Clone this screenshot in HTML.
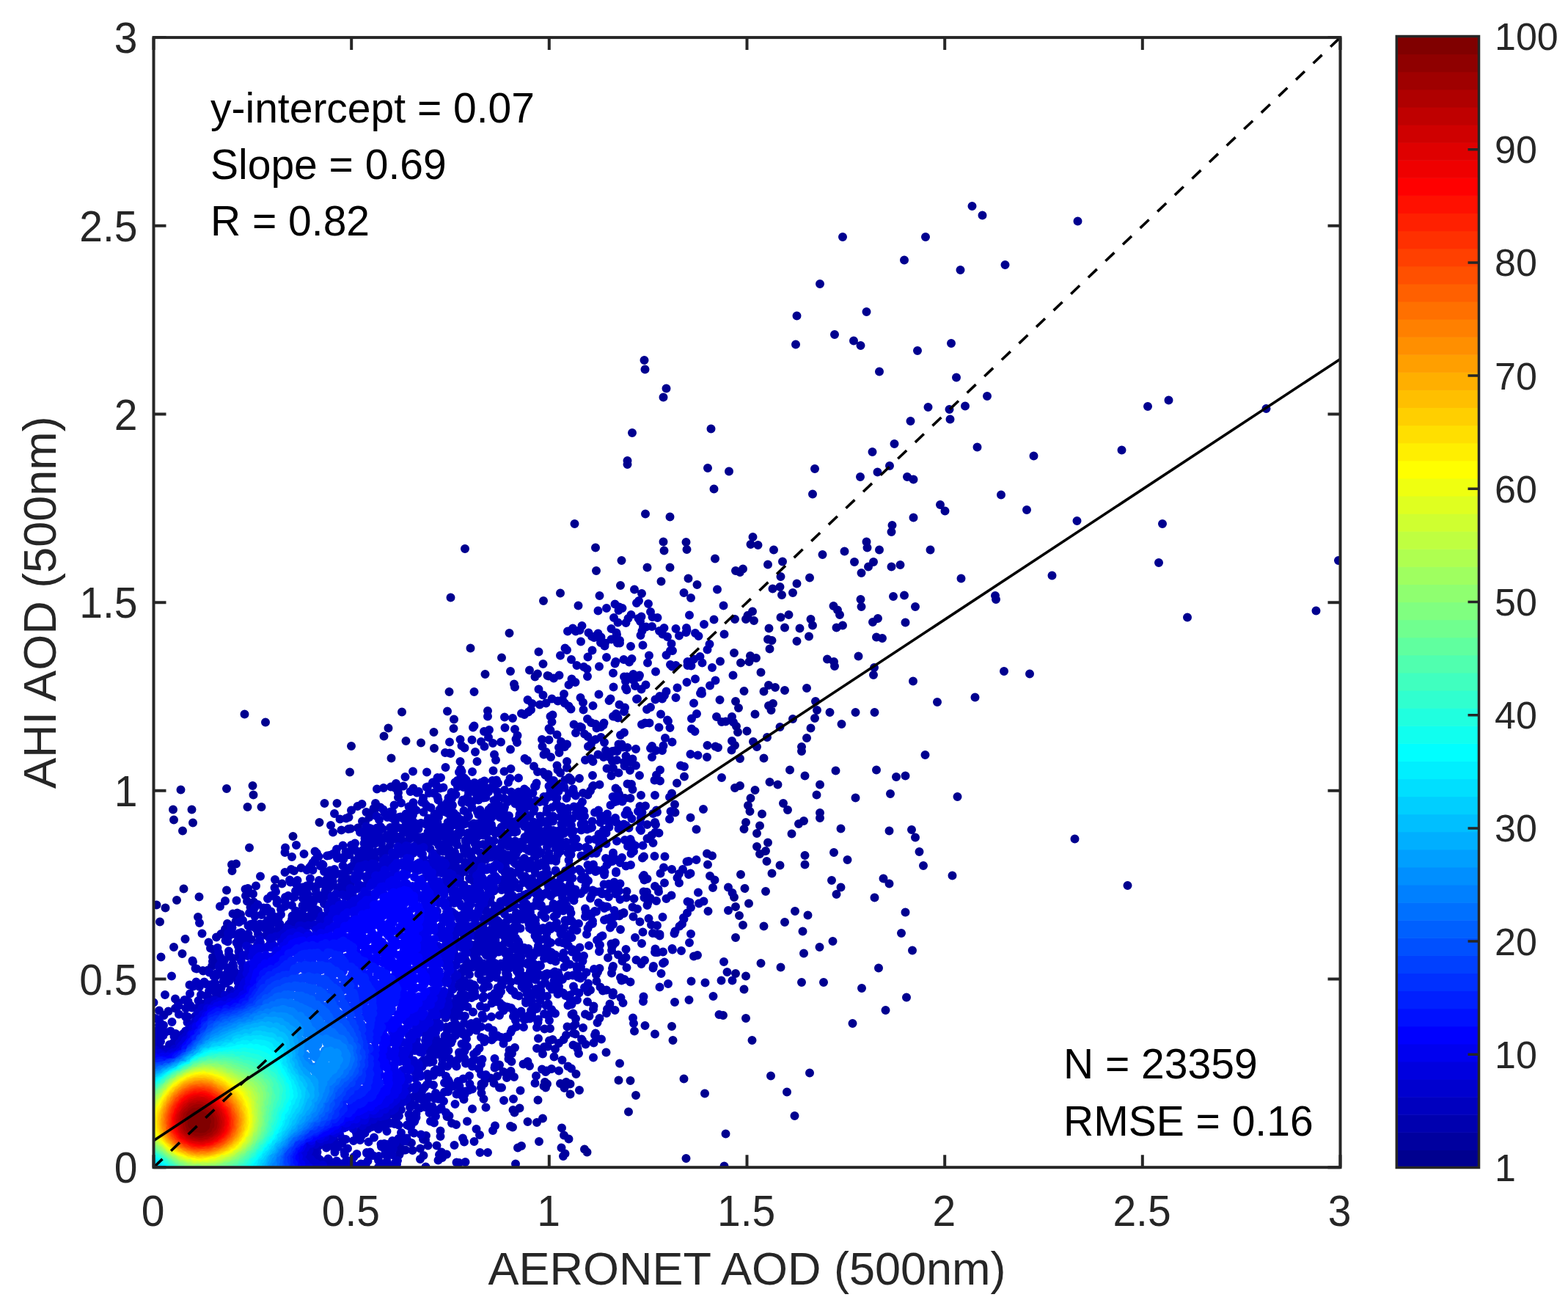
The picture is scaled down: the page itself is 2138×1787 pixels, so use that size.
<!DOCTYPE html>
<html><head><meta charset="utf-8"><style>
html,body{margin:0;padding:0;background:#fff;}
svg{display:block;}
</style></head><body>
<svg xmlns="http://www.w3.org/2000/svg" width="2138" height="1787" viewBox="0 0 2138 1787">
<defs><clipPath id="ax"><rect x="209.5" y="51.1" width="1618.0" height="1540.1000000000001"/></clipPath></defs>
<g clip-path="url(#ax)">
<g fill="none" stroke-width="24.0" stroke-linecap="round" transform="scale(0.5)"><path d="M2002 1780h0m-1501 643h0m1194-895h0m372-42h0m-585 152h0m726-63h0m261 540h0m-367 818h0m-6-1065h0m120-163h0m-120 219h0m183 177h0m67-801h0m-200 1677h0m90-2203h0m358 162h0m-394 1076h0m98-307h0m889-614h0m-1055 531h0m359-211h0m-457 1250h0m-645-935h0m1219-697h0m-889 1917h0m353-618h0m797-759h0m-781 751h0m245-145h0m95-11h0m-440-879h0m-223 262h0m503 853h0m215-1252h0m-2009 1087h0m1609 290h0m-1016-458h0m1565-960h0m-829 478h0m473-673h0m-444 1886h0m566-1785h0m-51 621h0m-152 481h0m-161 127h0m-851-246h0m895 223h0m-64-289h0m-830 110h0m842-489h0m277-48h0m-67 636h0m230-1430h0m-374 1301h0m-724-217h0m780 415h0m-119 489h0m-9-890h0m413-375h0m41-132h0m-495 1791h0m148-1491h0m-1691 913h0m1674-1014h0m215 1291h0m612-1370h0m-721-73h0m-141 486h0m22-120h0m187-50h0m-190 634h0m296-198h0m-109-388h0m-35 967h0m-220-156h0m201-355h0m155-327h0m-330-173h0m-80 1101h0m195 274h0m107-1238h0m-1802 403h0m1627-438h0m391 88h0m-482 123h0m684-900h0m-663 1180h0m59 170h0m-1637 45h0m1471 506h0m314-751h0m-218-88h0m408-872h0m-487-101h0m234 579h0m174-806h0m125 1777h0m117-1603h0m-587 1330h0m562-1070h0m-505 571h0m32 401h0m-1609 106h0m1811-195h0m-559 727h0m395-349h0m-252-1060h0m578-37h0m-1408 467h0m1753-617h0m-578 568h0m-413-875h0m660 614h0m-1362 323h0m1256-1170h0m-269 893h0m76-804h0m-119 1897h0m290-1047h0m-234-184h0m-101-49h0m183 983h0m-478-1283h0m332 548h0m1117-270h0m-974 514h0m-1228-14h0m1392 660h0m-214-504h0m135 376h0m-47-654h0m-1535 230h0m1419-224h0m328-292h0m305-904h0m-549 1877h0m-19-1738h0m55 1075h0m-536-340h0m411 340h0m-502 1205h0m-34-1713h0m380-95h0m253 543h0m93 543h0m-667-863h0m390 940h0m423-1286h0m-435 938h0m-290 883h0m711-622h0m-353-158h0m184-454h0m268-1151h0m-419 1100h0m560-527h0m-2172 934h0m1647-271h0m-26-8h0m-831-107h0m776 387h0m177 62h0m383-1480h0m-1471 1289h0m725-527h0m511 322h0m-19-327h0m41 247h0m-312-201h0m239 403h0m-709-449h0m650 831h0m214 267h0m133-1014h0m-293-648h0m-274 1093h0m469 36h0m-361-98h0m334-306h0m634-546h0m-1025 1273h0m397-1425h0m-974 661h0m501 267h0m365-198h0m-64-154h0m-1639 635h0m903 966h0m-326-1637h0m938 239h0m-33-144h0m207 105h0m197-303h0m-538 285h0m1020-451h0m-848 758h0m-49-369h0m-106 76h0m-1332 277h0m1280 63h0m427-487h0m-367 491h0m-27-43h0m185-715h0m-535 1667h0m140-1536h0m889 225h0m-641 992h0m160-44h0m1003-899h0m-1337-89h0m133 94h0m30 620h0m332 331h0m-267-956h0m63 555h0m419-66h0m-746 769h0m-154-1675h0m100 235h0m272 566h0m992 347h0m-2408-467h0m1204-469h0m726 909h0m62-486h0m-1563 40h0m935 481h0m318-768h0m-309 542h0m451-889h0m-66 958h0m-1554-23h0m1212-357h0m-19 387h0m95 1h0m44 222h0m87-819h0m-169 463h0m-115-227h0m460-289h0m-446 761h0m718-554h0m-2120 320h0m1142-749h0m-701 584h0m1472-875h0m-168 367h0m30-190h0m-1439 818h0m1241 252h0m214 38h0m-282-413h0m-370-1000h0m429 1054h0m25-348h0m52 254h0m-229 834h0m424-232h0m-318-833h0m-911-82h0m1710-1026h0m-8 1684h0m-650 151h0m-86-106h0m-96-200h0m720-889h0m-638 470h0m-1658 494h0m1685 718h0m87-951h0m-289 680h0m-1207-374h0m1591-543h0m128 623h0m-709-883h0m62 1681h0m720-2015h0m88-556h0m-749 689h0m-1255 924h0m2133-363h0m-497 507h0m-1598-144h0m1731-82h0m-469 1061h0m268-1667h0m172 1242h0m-33-1222h0m-214 952h0m-333 352h0m211-1048h0m88-257h0m-72 263h0m124 884h0m112-2032h0m-22 1170h0m73-254h0m-222 797h0m27-260h0m315 388h0m-652-1428h0m-592 827h0m793 182h0m-259-1061h0m288 477h0m1603 44h0m-920-179h0m-724 1207h0m-56-1033h0m92 940h0m1128-1035h0m-2743 1039h0m1941-922h0m-541 2h0m604-97h0m76 872h0m-21-60h0m-474-266h0m702-372h0m-158 290h0m-283-262h0m-133 862h0m-136-826h0m-1478 555h0m1519-31h0m106-536h0m500-1114h0m-253 937h0m-392 973h0m12-912h0m519-61h0m-152 443h0m-6-710h0m-201 1014h0m-49-674h0m-82 604h0m-323-996h0m1729-66h0m-2130 724h0m1173 445h0m-1998-18h0m1887 182h0m1204-782h0m-1536-201h0" stroke="#00008f"/>
<path d="M505 2560h0m1254 236h0m-267 159h0m63 28h0m-69-33h0m-16 162h0m-790-801h0m973 558h0m-82 59h0m-127-1101h0m500 593h0m-403 725h0m-102-87h0m112 47h0m-82-1328h0m504-126h0m-22 384h0m-470-225h0m480 956h0m3-963h0m-72 804h0m66-569h0m-478 1011h0m52 26h0m436-955h0m-501 879h0m-823-644h0m1352-335h0m-10 399h0m-656-481h0m601 546h0m44-755h0m20 316h0m-583 1084h0m428-936h0m89-161h0m-1 295h0m-397 802h0m334-1513h0m-462 1417h0m438-818h0m-286 740h0m-62-1113h0m-101-12h0m-507 360h0m998 39h0m-479-356h0m55-28h0m29 1120h0m512-996h0m-21-2h0m-94 708h0m-347 420h0m-136-1230h0m328 946h0m-264-974h0m508 785h0m-430 328h0m374-744h0m-1421 394h0m1369-483h0m-1326 383h0m1362 104h0m47-205h0m-117-236h0m-913 27h0m965-560h0m83 1043h0m-237-1066h0m224 347h0m-7-265h0m52 152h0m-1456 604h0m1425-477h0m-40 96h0m-708-125h0m-781 670h0m1401 123h0m123-824h0m-1331 449h0m1304 31h0m-408 566h0m395-275h0m-387 473h0m310-1017h0m137 515h0m-745-689h0m452 938h0m-207 62h0m-84 65h0m-781-599h0m1327 289h0m-66 10h0m-462 295h0m580-587h0m-1364-60h0m604-388h0m185 1138h0m564-642h0m-409-831h0m58-27h0m361 330h0m-66 403h0m-391 609h0m360-705h0m-403-418h0m-98 1230h0m558-1466h0m-206 11h0m-344 1555h0m58-113h0m-171-1174h0m-819 696h0m1523 91h0m-605 397h0m188-98h0m206-153h0m156-486h0" stroke="#00009f"/>
<path d="M1834 2589h0m-47-320h0m12-371h0m-253 195h0m162 354h0m-315-351h0m-127 1017h0m485-898h0m-165 618h0m68-71h0m-64-847h0m197 354h0m-346-328h0m-167 1116h0m483-658h0m-955-25h0m453-298h0m-675 545h0m1198-913h0m-27 12h0m-626 1416h0m197-190h0m463-612h0m-182-167h0m145 1h0m-179 624h0m228-809h0m4 398h0m-164 310h0m132-187h0m-643-401h0m732 489h0m-262 173h0m-436 343h0m639-561h0m-95-618h0m-101 79h0m-1086 677h0m629 475h0m720-1070h0m-407 863h0m-304 197h0m741-1424h0m-94 221h0m-4-227h0m-202 352h0m-115 33h0m257-200h0m49 682h0m98-772h0m-299 168h0m-194 60h0m336 747h0m191-333h0m-840-308h0m-283 187h0m871-221h0m125 99h0m36-440h0m-161 799h0m-1189 176h0m1271-870h0m7 507h0m-318-313h0m-34 783h0m500-423h0m-225-629h0m-1260 929h0m1271-980h0m-370 241h0m144 864h0m335-307h0m-304-440h0m-119-156h0m504 615h0m-54-397h0m-1128 242h0m1030-560h0m-48 91h0m-195 859h0m59 17h0m361-1088h0m-135 53h0m-949 579h0m730-499h0m-312 1255h0m465-946h0m-166-284h0m86 82h0m103 525h0m-361-476h0m415 616h0m-1167-183h0m943-523h0m286-119h0m-21 868h0m-212-526h0m201-444h0m22 311h0m-672 1158h0m-249-963h0m344-121h0m74 1045h0m356-539h0m-158-496h0m-938 448h0m783 367h0m388-1055h0m-357 121h0m406 377h0m-99-327h0m-22-383h0m-170 432h0m27-58h0m-509 172h0m719 134h0m-24-465h0m-313 1103h0m-511-704h0m791 465h0m-269-786h0m42-27h0m315-14h0m-37 665h0m38-741h0m-186 129h0m210 663h0m-287-782h0m318-127h0m-37 332h0m-1012 324h0m1006-241h0m-594 1027h0m439-1179h0m-320 1042h0m231-895h0m240 307h0m-1149 58h0m755 447h0m232-1119h0m-545 1331h0m-475-615h0m1131-20h0m154-169h0m-923-87h0m679-162h0m17-260h0m-1054 699h0m703-499h0m444 251h0m149-395h0m-332 90h0m95-172h0m72-128h0m-77 413h0m-1128 422h0m912-427h0m-679 235h0m309-163h0m-337 259h0m699-485h0m-779 489h0m877-348h0m200-382h0m-62 59h0m-1131 893h0m1041-645h0m-69 51h0m246-81h0m-230-204h0m-289 1403h0m450-1325h0m-1102 626h0m1233-654h0m-7 416h0m-53 215h0m-572 650h0m-432-689h0m908-762h0m29 210h0m-308 101h0m102 846h0m169-223h0m206-123h0m-386-408h0m462-195h0m-87 647h0m-99-254h0m9-208h0m-425 871h0m145-58h0m441-1097h0m-587 301h0m438 539h0m-117-20h0m206-772h0m-311 1013h0m218-183h0m-277-666h0m-236 1200h0m433-1171h0m-144-199h0m-171 1089h0m-287-744h0m-72 8h0m751-469h0m-78 806h0m-333 477h0m143-84h0m108-38h0m125-1002h0m-240 1073h0m146-1161h0m-32 1130h0m56-1199h0m-59 89h0m2 303h0m80 544h0m-53 81h0m-564-565h0m270 933h0m254-1034h0m74 535h0m14-566h0m136-192h0m-202 1016h0m-102-790h0m-142 900h0m-747-447h0m1086-815h0m32 865h0m-1294 216h0m1266-284h0m204-702h0m-222 839h0m57-178h0m-212-312h0m265 330h0m-106-313h0m118 75h0m-378-294h0m-58 1002h0m225-778h0m-45 711h0m279-446h0m-282-686h0m-990 888h0m739 387h0m567-1037h0m-447 935h0m233-188h0m-582 438h0m388-229h0m97-56h0m-186 4h0m471-344h0m-257 185h0m87-958h0m-51-9h0m164 917h0m-305 183h0m251-209h0m-1271 95h0m1256-636h0m-472 1016h0m-360-853h0m729-193h0m242-339h0m-81 805h0m-484 571h0m368-1047h0m177 478h0m-1385 136h0m1072-534h0m-544 114h0m109-123h0m535 715h0m-14-176h0m-79 142h0m88-660h0m32-396h0m-472 1420h0m546-1477h0m-190 437h0m-11-87h0m196-392h0m-510 379h0m492 77h0m94-204h0m-315 121h0m241 461h0m-214 366h0m54 28h0m214-326h0m-122-470h0m-1103 569h0m998-670h0m154 201h0m-42 578h0m-333 328h0m357-592h0m-1147 157h0m1138-113h0m-102 268h0m207-531h0m-459 668h0m274-969h0m-593 234h0m708-366h0m-249 178h0m238-211h0m136-72h0m-180 901h0m-276 238h0m369-404h0m29 128h0m-59 21h0m85-881h0m-218 995h0m157-760h0m31 238h0m-43-477h0m-1169 902h0m1124-694h0m53 777h0m53-91h0m-126-554h0m-47 704h0m173-181h0m-1058-197h0m270-186h0m922-392h0m-135-91h0m-105 349h0m-101-254h0m100-26h0m-14 309h0m-129 806h0m136-422h0m-207-378h0m61-392h0m-228 1233h0m-389-691h0m-347 354h0m1171-186h0m-221-523h0m280 104h0m-230-263h0m287-25h0m-642 330h0m105-64h0m-22 32h0m441-263h0m27 785h0m-1160-26h0m887 316h0m33-917h0m-285 99h0m384-34h0m-441 1166h0m489-1119h0m-157-7h0m350-345h0m-613 362h0m77-13h0m521 479h0m-136-55h0m186-643h0m-195-45h0m-1044 660h0m550-369h0m536-344h0m-189 105h0m-162 191h0m262-132h0m77 102h0m-111 35h0m151 446h0m53-554h0m-281 862h0m-261-688h0m516-191h0m-268 1022h0m-741-603h0m680 618h0m-270 225h0m69-1130h0m385 559h0m-1048-49h0m865-610h0m-335 1189h0m91 63h0m519-1235h0m-1072 525h0m1135-475h0m-150-243h0m-193 1113h0m37-755h0m133-307h0m224 592h0m-377-431h0m-154 1000h0m-133-901h0m389-261h0m-271 219h0m-210 1106h0m685-616h0m-122-803h0m-826 624h0m-82 57h0m1064 161h0m-132-109h0m-450-397h0m148-18h0m-480 218h0m783-388h0m55 551h0m145-506h0m-488 55h0m285 116h0m-60-90h0m237 575h0m-187-888h0m-79 1093h0m107-682h0m167-152h0m-276 227h0m38-486h0m-435 1386h0m368-1338h0m15 138h0m-289 1111h0m318-1290h0m-21 1034h0m57-985h0m153 249h0m-230 199h0m209 529h0m-230-831h0m-88 35h0m126 875h0m-314 342h0m460-722h0m-65-644h0m159 129h0m-1137 514h0m-128 200h0m1141-793h0m58 502h0m-1331 414h0m640 413h0m255-1024h0m-655 336h0m1193-381h0m-473-32h0m-54 910h0m306-870h0m216 284h0m-646 714h0m278-1213h0m321-94h0m-139 910h0m-404 358h0m415-353h0m-391 295h0m391-877h0m65-442h0m-199 1173h0m-926-307h0m1134-235h0m143-575h0m-807 1410h0m773-1125h0m-179-289h0m155 672h0m-214-346h0m-661 168h0m326 788h0m-98-888h0m-641 493h0m927-594h0m58-140h0m159 226h0m-138 45h0m-336 944h0m277-1155h0m114 729h0m-990-185h0m11 38h0m1012 98h0m66-549h0m-710 148h0m-80 41h0m593 603h0m249-666h0m-1300 566h0m1450-865h0m-309 116h0m-3 832h0m143-356h0m-1231 180h0m1377-757h0m-925 355h0m399 637h0m-97-893h0m339 805h0m274-729h0m-254-298h0m46 268h0m0 644h0m214-883h0m-328-72h0m173 1012h0m127-270h0m-318 338h0m-30 92h0m86-147h0m159-709h0m-220 94h0m-888 314h0m1019-521h0m-299 954h0m-81 267h0m404-1456h0m193 777h0m-399-514h0m81 887h0m32-1098h0m-1186 1017h0m1238-802h0m-144-166h0m284 620h0m-455 500h0m167 12h0m-44-46h0m-955-254h0m1087-591h0m-506 1107h0m746-753h0m48-436h0m-289 122h0m175 174h0m88 247h0m-216 122h0m-651-383h0m386 694h0m-100-943h0m390 69h0m156 497h0m-487-473h0m-700 425h0m647 581h0m325-1062h0m-62-303h0m145 875h0m-20-924h0m-1161 958h0m1347-273h0m-141 207h0m-253-521h0m-504 163h0m709-44h0m-522 942h0m200-193h0m404-1096h0m-47 870h0m59-613h0m-90 101h0m-183-260h0m-128 79h0m193 793h0m-619-549h0m676 447h0m-108-672h0m312 438h0m-161 199h0m-2 13h0m-294 347h0m370-886h0m-305-206h0m63 156h0m68-66h0m-1001 571h0m1237-664h0m-720 269h0m674 23h0m-163 650h0m55-801h0m-427 996h0m670-1048h0m-232 743h0m46-99h0m-1056-139h0m742 395h0m168-131h0m143-888h0m-36 173h0m-174 73h0m-1049 647h0m1167-1033h0m-252 1230h0m390-626h0m-161-404h0m195 481h0m4-303h0m-105-156h0m-1134 588h0m779-592h0m221-28h0m332 456h0m-421 552h0m160-111h0m39-912h0m211-198h0m-1043 616h0m809-576h0m-5 141h0m167 206h0m-1197 447h0m1014-622h0m-413 1217h0m671-1327h0m-176 223h0m-6 683h0m-737-461h0m123 870h0m714-1445h0m-19 244h0m-610 177h0m562 670h0m-134-957h0m24 296h0m-241-11h0m230-378h0m66 988h0m114-586h0m32-341h0m15 584h0m-176 381h0m-982-294h0m889 392h0m259-883h0m-33 80h0m-1256 594h0m1146-902h0m-488 1385h0m642-537h0m40-726h0m-1190 613h0m1006 24h0m-911-186h0m1035 24h0m-88-183h0m-558 971h0m621-875h0m-291-262h0m-14 71h0m259-211h0m-311 222h0m-285 1063h0m508-432h0m55-818h0m183-84h0m-150-159h0m-298 1268h0m235-757h0m-133-377h0m-80 332h0m430-253h0m-139 596h0m24-229h0m-831 42h0m96-112h0m788-374h0m-58 747h0m80-434h0m-456 909h0m358-378h0m-289-739h0m-42 1022h0m-361-756h0m564 505h0m-672-441h0m601 557h0m288-373h0m-356 526h0m-290 164h0m95-1033h0m588 424h0m-162-336h0m73 286h0m-21-756h0m-92 62h0m63 468h0m-618-49h0m387 711h0m-46-29h0m341-798h0m-178-306h0m34 178h0m-82-3h0m98-177h0m-682 489h0m737-308h0m18-197h0m-108 355h0m-381 933h0" stroke="#0000af"/>
<path d="M1184 3061h0m-164 40h0m25-894h0m200 516h0m164-456h0m-375-32h0m133 33h0m45 709h0m459-805h0m-485 823h0m200-862h0m4 506h0m-358 524h0m465-1020h0m-533 967h0m-6 67h0m657-938h0m-392-64h0m96 541h0m85-447h0m1-78h0m-163 169h0m-736 412h0m1054-260h0m-58 58h0m27-24h0m-213-288h0m-797 483h0m1030-415h0m-80 270h0m-847-52h0m514-298h0m-72 10h0m410 377h0m-189-484h0m15 637h0m-427 376h0m589-979h0m-294 755h0m75-772h0m429 354h0m-355 201h0m431-457h0m-240-39h0m-697 175h0m405 633h0m212-722h0m83 363h0m-1077 121h0m977-606h0m172 478h0m-125 2h0m-56-128h0m104-340h0m-635 249h0m487-279h0m-137 71h0m-204 908h0m258-405h0m192 42h0m-243 161h0m243-518h0m56 102h0m73-33h0m-324 333h0m-542-323h0m388 510h0m331-587h0m19 146h0m-209-475h0m-36 761h0m221-544h0m-217-148h0m61-68h0m248 603h0m-283 254h0m-316-619h0m-42 817h0m225-893h0m89-119h0m60 469h0m172 7h0m-3 52h0m-612-226h0m468-315h0m-99 47h0m-295 192h0m373-242h0m231 9h0m61 59h0m-281 90h0m180 358h0m-806-105h0m1017-60h0m-110-27h0m96-200h0m-211 343h0m-16 136h0m-252 224h0m93-785h0m-703 512h0m901-214h0m-385 571h0m-385-576h0m602 152h0m-163-460h0m-130 143h0m242 668h0m-185-739h0m285 435h0m96 65h0m-335-531h0m210-25h0m-231 15h0m440 357h0m-643 625h0m-85-688h0m942-254h0m-256 425h0m-167-311h0m-7 352h0m170-83h0m-22 132h0m-552 438h0m560-734h0m-89-18h0m79 320h0m-311 249h0m265-795h0m-528 194h0m57-67h0m234-169h0m-46 47h0m250 459h0m-477-265h0m576 210h0m90 113h0m96-378h0m-583 756h0m-466-537h0m-159 281h0m758-632h0m-41 801h0m-170-759h0m541 320h0m29 129h0m115-446h0m-495 662h0m404-565h0m-434 596h0m-114 130h0m-263-568h0m513-295h0m276 362h0m-427-407h0m526 200h0m-189-162h0m-364-26h0m151 37h0m-194 811h0m576-626h0m-458-290h0m-220 988h0m596-799h0m-345 527h0m-195-582h0m403 515h0m256-514h0m-836 171h0m435 289h0m37-378h0m350-153h0m-397 536h0m13 89h0m454-504h0m-998 148h0m393-209h0m-729 567h0m1135-182h0m-59 140h0m-862-240h0m821-217h0m-897 365h0m774-50h0m97 34h0m244-336h0m0 5h0m-188 265h0m154-164h0m-480 533h0m-238-624h0m757-154h0m-263 131h0m-119 373h0m-247 379h0m0 49h0m490-846h0m-44 303h0m-260-380h0m78 604h0m57-251h0m195-389h0m-100 280h0m-152 462h0m255-458h0m-71-43h0m-665 63h0m-35 43h0m668 147h0m135-2h0m-554 531h0m-255-783h0m676-85h0m94 59h0m-330-139h0m-58 662h0m55-651h0m61 662h0m142-756h0m-36 597h0m211-434h0m-224 433h0m164-278h0m27 142h0m-318 158h0m-19-534h0m-267 64h0m-147 133h0m411-232h0m134 427h0m188-148h0m-489-266h0m502 488h0m-303-28h0m-149 365h0m291-481h0m-11 143h0m-632-181h0m893-47h0m26-300h0m-134 339h0m-113 166h0m114 64h0m-576 353h0m417-522h0m-249-312h0m47 720h0m-22-835h0m27 97h0m346 394h0m-378 261h0m226-456h0m54-5h0m11 65h0m-76 53h0m203-184h0m-150 409h0m-4-273h0m-347 610h0m-46-38h0m120-106h0m293-748h0m-450 865h0m-156-651h0m625 17h0m132-63h0m-727-57h0m618 25h0m-408 808h0m505-532h0m-175-114h0m-255-240h0m283 406h0m-104-481h0m264 207h0m-161-258h0m-415 915h0m-12 70h0m485-758h0m-212 332h0m91 40h0m178-410h0m-232 431h0m190-512h0m-160 206h0m-657 47h0m803 49h0m40 45h0m-311-414h0m-418 232h0m600 353h0m198-101h0m-190-66h0m-69 194h0m-27-182h0m-96 349h0m-219 189h0m8-92h0m-223-553h0m380-289h0m-449 244h0m517-227h0m-82 643h0m316-260h0m85-126h0m98-268h0m-671 32h0m72 796h0m334-841h0m16 16h0m-79 507h0m-710-183h0m835-30h0m-594-36h0m715-281h0m-170 486h0m296-518h0m-417 472h0m-248 525h0m426-470h0m-28-128h0m-779 10h0m836-92h0m1 160h0m122-213h0m-665 724h0m277-229h0m-223-669h0m268 590h0m-383-489h0m394-215h0m271 149h0m-312 651h0m258-224h0m-322-423h0m-271 809h0m620-843h0m-415-61h0m89 777h0m-551-426h0m526 464h0m-547-433h0m440 461h0m-84 42h0m497-611h0m-236 517h0m279-480h0m-249-404h0m238 279h0m76-158h0m-316 478h0m0-433h0m-617 222h0m981-240h0m-132-120h0m10 345h0m204-242h0m-1063 287h0m882 26h0m37-283h0m-387-126h0m-672 611h0m841-132h0m-55-374h0m-243 900h0m260-818h0m145 32h0m-194-259h0m-139 78h0m-461 354h0m780-66h0m266-180h0m-257-66h0m-602 111h0m155-35h0m537 246h0m-163 54h0m120-174h0m-1029 400h0m-45-12h0m1051-480h0m-178-181h0m115 276h0m-159 209h0m196-493h0m-218 737h0m214-606h0m204 144h0m-264 158h0m-39 311h0m-558-501h0m563 245h0m-468-221h0m324-149h0m-746 531h0m1099-122h0m-63-156h0m-420 527h0m-54 4h0m-272-602h0m680-287h0m-206 50h0m164 335h0m-263 498h0m-547-397h0m1070-390h0m-300-59h0m102 0h0m161 215h0m-642 752h0m34-851h0m358 11h0m140 73h0m-339 581h0m-134 159h0m328-440h0m-227-432h0m-255 76h0m395-82h0m-516 245h0m635 158h0m76-137h0m-203 249h0m-404-309h0m710 154h0m-198-427h0m-41 83h0m10-162h0m178 154h0m-55 501h0m-32-310h0m-111 460h0m24-504h0m284-114h0m-92 213h0m-64-285h0m-138 244h0m311-102h0m-605-125h0m415 114h0m-37 383h0m-192-21h0m260-81h0m-339 240h0m227-325h0m130-304h0m39 299h0m-401 456h0m223-275h0m-881-4h0m735 214h0m428-724h0m37 27h0m-909 187h0m615-70h0m82 18h0m123 93h0m-192 225h0m133-565h0m-372 867h0m239-659h0m-22 59h0m-71-281h0m122 645h0m-561-417h0m814 68h0m-666 638h0m37-791h0m399-132h0m-89 543h0m33-336h0m-143 59h0m-688 241h0m856-245h0m-765 103h0m228 620h0m736-644h0m-359-109h0m249 287h0m-512 414h0m395-496h0m-120 391h0m13-98h0m71-646h0m162 433h0m-186 55h0m151-347h0m-409 660h0m-141-605h0m345 366h0m119-537h0m-161 539h0m-187-564h0m496-65h0m-222 106h0m108 172h0m-1000 398h0m387-370h0m583-142h0m55 81h0m12 293h0m-270-356h0m212-125h0m-260 25h0m-47 822h0m-111 13h0m523-664h0m-180 100h0m54-343h0m125 156h0m-322-208h0m-291 292h0m528 83h0m-481-131h0m408 214h0m302-168h0m-376 482h0m376-698h0m-503 85h0m143 298h0m36-46h0m72 42h0m-8-281h0m-25 534h0m226-538h0m-293-154h0m204 204h0m-69 59h0m-26-46h0m13 112h0m-178 246h0m137-551h0m-76 118h0m264-81h0m-93 145h0m158 70h0m-322 519h0m397-634h0m-322 475h0m76-85h0m-784-196h0m251-161h0m736 94h0m-1045 189h0m920 124h0m-658 378h0m375-816h0m161-80h0m-33 166h0m-51 108h0m-16 197h0m64-298h0m-110-17h0m-419 783h0m697-892h0m-577 915h0m410-739h0m-19 117h0m14-56h0m-73-327h0m271 487h0m47-420h0m109 0h0m-296 526h0m-35-113h0m-91-22h0m-230 392h0m383-366h0m-503 438h0m-115-753h0m366 17h0m151 93h0m-378-201h0m351 633h0m370-587h0m-370 241h0m-298 598h0m293-567h0m-907 243h0m1179-303h0m-237 162h0m-242-512h0m-631 650h0m998-59h0m-620-288h0m752 112h0m-473-274h0m-513 278h0m603 295h0m86-573h0m89-140h0m121 42h0m172 123h0m-306 94h0m5 343h0m149-339h0m-707 12h0m312 620h0m309-559h0m-948 179h0m984-502h0m-267 694h0m229-339h0m-365 540h0m50-142h0m-94-665h0m235 595h0m-832-32h0m901-296h0m-29-348h0m49 625h0m229-376h0m7 30h0m-866 32h0m524 266h0m142-446h0m-327-18h0m248 218h0m292-223h0m-713 111h0m418-65h0m-233-49h0m358 7h0m159 282h0m-180 50h0m-28 62h0m158-312h0m-314-10h0m35 289h0m-136 335h0m392-402h0m-209 135h0m5 102h0m-308-608h0m383-29h0m-567 953h0m148-881h0m472-75h0m-70 530h0m-290-513h0m187-49h0m111 83h0m-684 206h0m740-57h0m-561-70h0m373 321h0m329 6h0m-229-520h0m-20 619h0m-694-217h0m880-194h0m-207 296h0m128 86h0m11-443h0m-164 315h0m-606-101h0m199 682h0m600-649h0m-766-85h0m248 711h0m-112-724h0m-443 443h0m468 276h0m-327-457h0m819-345h0m-176-84h0m-606 302h0m508 502h0m411-543h0m86 51h0m-448-430h0m364 163h0m-238 618h0m-743-231h0m204-155h0m436 467h0m-28-793h0m100 26h0m49 242h0m184-231h0m-531 859h0m533-798h0m-334-64h0m82 501h0m-164 351h0m160-692h0m214 383h0m-27-599h0m-18 510h0m-57-166h0m17-76h0m-207-205h0m176 484h0m-100-622h0m240 611h0m-171 124h0m212-587h0m-10-96h0m-110 514h0m-50-272h0m-199 558h0m237-200h0m199-210h0m-27-11h0m-14 20h0m142-309h0m-1092 428h0m319-292h0m-248 106h0m75 49h0m905-93h0m-791 722h0m673-453h0m-454-486h0m485 374h0m-228-463h0m13 332h0m-760 162h0m859-428h0m65 447h0m-59-517h0m-754 384h0m982-110h0m-352-72h0m19-15h0m46 83h0m117 305h0m-404-432h0m223 333h0m-432-283h0m373 627h0m283-666h0m-696 836h0m578-478h0m-86-52h0m270-222h0m-131 151h0m63-211h0m-507-34h0m461 34h0m-76 5h0m-362 710h0m507-632h0m-738 99h0m572-126h0m-539 83h0m106-116h0m526 98h0m-573 706h0m83-840h0m345 383h0m-15-21h0m-70 31h0m-216-424h0m-374 258h0m573-317h0m-87 32h0m256 487h0m-54-269h0m60-93h0m-586 94h0m674-253h0m-703 211h0m692-109h0m134 162h0m-874-16h0m612 150h0m-101 363h0m319-478h0m-305-277h0m-132-52h0m94-16h0m37 136h0m-701 326h0m623 363h0m192-400h0m-100 196h0m126-401h0m-217-28h0m218 348h0m-350-459h0m-102 860h0m-204-645h0m300-186h0m484-87h0m-451 835h0m439-754h0m-115 114h0m-615 133h0m440 273h0m268-159h0m13 49h0m-1046 66h0m886-251h0m-488 703h0m760-827h0m-967 124h0m735 111h0m-121-342h0m-8-86h0m-270 112h0m250 663h0m-256-591h0m68 682h0m416-681h0m-807 192h0m712 68h0m72-200h0m-353-124h0m-262 121h0m372 414h0m-1-77h0m-34-435h0m336 269h0m-201 17h0m68 60h0m-171 130h0m399-224h0m-272 149h0m-522-193h0m414 141h0m-670 11h0m631 183h0m-68-658h0m-76 843h0m163-813h0m82 432h0m-49-342h0m-7 406h0m-299 441h0m32-835h0m694 133h0m-847 60h0m768-17h0m-806-89h0m620-62h0m-474 53h0m566-115h0m-127 413h0m257-219h0m-378 423h0m-44-695h0m-197 76h0m292-151h0m61 616h0m241-457h0m-150-63h0m-124 200h0m16 33h0m-361-170h0m278 345h0m17-5h0m97-16h0m3-141h0m-268 542h0m263-508h0m313-255h0m-522 669h0m-4-25h0m321-277h0m-160-308h0m-20-6h0m-317 810h0m-487-404h0m874-251h0m-187-262h0m236 161h0m-363-118h0m599 259h0m-363-332h0m113 320h0m318-226h0m-251-86h0m-137 519h0m-107 111h0m-413-432h0m756-127h0m-1080 485h0m750 211h0m127-671h0m25 101h0m-241-100h0m374-28h0m14 416h0m-315 231h0m-598-324h0m735-235h0m-54 178h0m151-224h0m-911 417h0m1018-516h0m-691 977h0m435-1004h0m-825 590h0m993-463h0m-374-64h0m-648 621h0m789 43h0m-64 134h0m391-328h0m-150-88h0m-389-379h0m282 234h0m127 243h0m149-261h0m-564 623h0m139-236h0m285-101h0m-649-236h0m531 101h0m-868 250h0m514-572h0m474 54h0m-634 125h0m673 314h0m-303 84h0m-670-119h0m-30 59h0m230-269h0m605-31h0m146-282h0m-405 862h0m121-811h0m105-7h0m135 7h0m101 295h0m-228-70h0m-326-195h0m220-13h0m220-44h0m-206 54h0m23 480h0m-65 267h0m189-830h0m163 26h0m-467 906h0m404-866h0m-20 375h0m-873 40h0m846 14h0m-164-4h0m-535-241h0m767-124h0m-156 409h0m-27-568h0m-286 94h0m500 203h0m-287-331h0m66 406h0m247-128h0m-226-92h0m-35 45h0m-30 513h0m132-577h0m-311 864h0m-113-78h0m117-66h0m422-892h0m-254-7h0m-632 472h0m842-134h0m-126-230h0m97 208h0m-24-62h0m-143 447h0m123-214h0m2 15h0m-150 284h0m-642-214h0m925-372h0m-887 343h0m494 372h0m443-518h0m-222 305h0m372-502h0m-538-25h0m-31 722h0m417-809h0m-330 558h0m46-82h0m122-52h0m28-320h0m-793 364h0m454 434h0m187-710h0m-545 138h0m680 55h0m-232-309h0m298 148h0m-46 344h0m-897-65h0m1100-204h0m-399-229h0m-446 167h0m578-55h0m-193 484h0m205-343h0m170-381h0m-350 62h0m267 225h0m-618 723h0m521-703h0m-184 566h0m-394-529h0m608 71h0m319-261h0m-206 128h0m-256-105h0m-224 12h0m0 837h0m586-968h0m-469 39h0m252-83h0m-649 314h0m898 50h0m-686-201h0m472 67h0m-857 189h0m1082-179h0m-317 79h0m178-61h0m169-203h0m-104 41h0m-482-103h0m421 298h0m-426-235h0m-50 83h0m-131 813h0m-6-699h0m597 271h0m-2-546h0m-522 1001h0m202-223h0m-310-588h0m478 82h0m244-159h0m-475 707h0m-407-477h0m104-20h0m709-75h0m-699 4h0m388 361h0m72-231h0m-425-167h0m274-144h0m224 151h0m7-137h0m-181 652h0m295-589h0m-341 599h0m310-422h0m-125-243h0m-196 868h0m-33-828h0m184-9h0m94 558h0m-31-618h0m-109 77h0m322 382h0m-186-39h0m13-89h0m-153 421h0m-58-620h0m160 235h0m-193-373h0m256-69h0m241 237h0m-661 725h0m658-743h0m-482 680h0m218-676h0m-89 244h0m408-227h0m-1056 246h0m145-139h0m68-142h0m603 28h0m-427-54h0m-67 846h0m49-854h0m193 483h0m271-294h0m-424-203h0m399-134h0m-31 109h0m124 293h0m-562 523h0m47 50h0m97-835h0m-67 864h0m234-595h0m173-85h0m-507-151h0m336-69h0m44 460h0m-45-141h0m-39-154h0m-322-91h0m424-67h0m-23 564h0m-446-399h0m380-232h0m-5 125h0m-23-44h0m10 718h0m-397-504h0m569-94h0m-108-121h0m358-94h0m-784 158h0m659 116h0m92-70h0m-337 551h0m-277 252h0m425-673h0m125-245h0m-749 167h0m488 32h0m87-158h0m-466 859h0m264-842h0m-303 81h0m366 220h0m6 22h0m-58-374h0m120-22h0m-487 124h0m420 318h0m-73 298h0m-588-370h0m1023-187h0m-335 436h0m84-591h0m-324 12h0m425 150h0m-105 76h0m174 208h0m-176-125h0m-12-396h0m-741 473h0m889-525h0m-140 488h0m31 0h0m-659-139h0m451-222h0m-379 214h0m742 105h0m-168-205h0m48 80h0m-157-201h0m-88-14h0m61 8h0m-363 166h0m532-76h0m-702 178h0m547 444h0m153-814h0m95 317h0m-370-195h0m-82 753h0m-353-542h0m708 115h0m45-72h0m-654-113h0m319-174h0m573 40h0m-189 83h0m42 116h0m-116 97h0m66 171h0m-644-264h0m192 561h0m-236-549h0m433 167h0m191 45h0m49-237h0m-923 241h0m861-381h0m-586 25h0m560 103h0m-289-235h0m-201 151h0m580 207h0m102-257h0m-517-76h0m305-72h0m-788 411h0m1119-377h0m-1171 470h0m345-248h0m605-186h0m141 46h0m-191 228h0m-300-235h0m33 579h0m326-278h0m-958 145h0m828-414h0m70 87h0m-649 104h0m113 592h0m-322-419h0m-62 56h0m916-119h0m-425-286h0m413 62h0m86 245h0m-395 401h0m560-820h0m-124 483h0m-178-221h0m-775 205h0m471-409h0m-180 151h0m613 36h0m-820 86h0m616-212h0m46-145h0m122 125h0m-276-209h0m215 679h0m-759-235h0m1016-62h0m-109-109h0m-134 59h0m-191 377h0m128-317h0m-582-41h0m-51 79h0m-281 273h0m986-541h0m74 415h0m56-303h0m-27 276h0m-176-535h0m-126 42h0m208 232h0m-261 443h0m-239-457h0m-312 305h0m773-381h0m-83 21h0m-423 43h0m103-114h0m461 37h0m-179 324h0m48-131h0m83 174h0m-143-322h0m-679 304h0m690 159h0m-795 18h0m1047-586h0m-299 97h0m156 114h0m-61-309h0m-127 1h0m523 83h0m-1073 377h0m499 374h0m-203-660h0m719 99h0m-565-153h0m-470 257h0m869 163h0m-578-264h0m66 670h0m-552-300h0m532-449h0m287 44h0m147-133h0m-62 400h0m8-365h0m372-4h0m-177 328h0m-50-378h0m-193 367h0m185 159h0m138-549h0m-655 100h0m-208 189h0m424-244h0m270 384h0m-17-137h0m-495-129h0m404 224h0m190-295h0m118-7h0m-742 808h0m445-599h0m-773 152h0m784-353h0m-383 868h0m515-833h0m-158-132h0m-100 37h0m17 559h0m110-511h0m-230 683h0m553-627h0m-1088 261h0m756-439h0m-105 204h0m43 232h0m-66-450h0m-373 1000h0m-323-479h0m679 193h0m-346-391h0m518 263h0m-248-448h0m302 332h0m-27-253h0m-513 24h0m-265 145h0m810-198h0m-420-25h0m303-1h0m-19-114h0m-81 47h0m176 272h0m-748 76h0m678 37h0m-682-48h0m733 67h0m-450-299h0m506-91h0m-389 879h0m27-97h0m576-546h0m-772-64h0m-377 329h0m1170-429h0m-225-141h0m-279 681h0m33-41h0m356-608h0m-286-15h0m90 260h0m84-4h0m160-215h0m-313 59h0m-203-36h0m-296 216h0m243 629h0m-605-291h0m996-629h0m-17-47h0m-436 181h0m475-147h0m-70 451h0m-161 163h0m147-436h0m-206-225h0m-229 958h0m-494-281h0m1202-386h0m-668-79h0m312-3h0m-564 163h0m750-332h0m-939 584h0m1001-323h0m113-77h0m-384 450h0m433-482h0m-234 87h0m-135 216h0m-344-287h0m-144 152h0m755-281h0m-35 513h0m-513 319h0m273-493h0m-168-265h0m457 223h0m-201 66h0m-558-229h0m690-115h0m-56-72h0m-194 455h0m-501-105h0m674-230h0m278-80h0m-362 143h0m-89-170h0m227 191h0m-257 369h0m-8-609h0m-7 156h0m303 285h0m-327-390h0m-543 359h0m240-220h0m388-145h0m-40 132h0m232 213h0m-427-313h0m472 161h0m-1091 440h0m797-125h0m244-380h0m-67 162h0m171 6h0m50-214h0m-173-23h0m13 438h0m-141-22h0m-857 109h0m820-421h0m103 158h0m-473-91h0m333 268h0m-35 17h0m11-329h0m190 342h0m-18-178h0m-198-233h0m364 35h0m39 43h0m-440-49h0m-222 33h0m401 374h0m-212 174h0m-718-129h0m822-545h0m-2 103h0m-133 710h0m374-877h0m-459 885h0m493-828h0m-129 173h0m-192 462h0m134-713h0m100 358h0m21-174h0m-108 218h0m47-133h0m-13-126h0m-649 193h0m-58 41h0m725-28h0m121-208h0m-158 389h0m89-345h0m40 448h0m-253 201h0m102-154h0m185-412h0m-209 257h0m-721-47h0m356-323h0m649 68h0m-297-47h0m-220-40h0m-150 862h0m307-767h0m-62-161h0m77-38h0m-738 566h0m917-89h0m96-60h0m-183-12h0m-184 264h0m259-410h0m94-175h0m71 161h0m-245 134h0m-759 151h0m1091-469h0m-157 326h0m-150-218h0m-232 645h0m106-651h0m41 52h0m-100 520h0m-11-672h0m139 58h0m-261 818h0m518-478h0m-530-313h0m-235 83h0m364-151h0m415 351h0m-99 129h0m-326-451h0m145 601h0m-572-342h0m79-126h0m-280 345h0m215-253h0m201-142h0m-90 75h0m-436 403h0m1179-450h0m-987 279h0m685 123h0m-17-468h0m-258-110h0m438 35h0m-464 80h0m249-212h0m214 432h0m-265-353h0m26 107h0m65-156h0m-306 1015h0m297-375h0m-71 204h0m108-447h0m114-265h0m-192 33h0m388-108h0m-255 630h0m-197-575h0m371-55h0m87 379h0m-778 545h0m214-29h0m157-812h0m287 380h0m-855-108h0m450 533h0m367-542h0m-25-141h0m-555 22h0m436 359h0m347-372h0m-138 80h0m-439 602h0m186-513h0m-439-118h0m411 241h0m-128 266h0m434-693h0m-64-68h0m-296 676h0m514-544h0m-777 748h0m465-617h0m-73 178h0m-596-133h0m149 587h0m-249-474h0m996-55h0m-646 582h0m217-314h0m258-59h0m-401 376h0m-131-4h0m630-640h0m-295 450h0m-419-568h0m641-124h0m-653 124h0m-4 60h0m786-118h0m-228 185h0m-160 301h0m-230-489h0m358 236h0m-98-402h0m156 40h0m75 316h0m-543 587h0m303-378h0m103-626h0m-89 511h0m-10-270h0m408 44h0m-381-15h0m113-155h0m-86 351h0m283-382h0m-213 389h0m-38 235h0m-473-424h0m650-2h0m-63 197h0m-238 194h0m-513-253h0m397-314h0m99 613h0m94-237h0m-672 39h0m246-208h0m350 399h0m-177 336h0m246-599h0m-339-163h0m503 325h0m-159-493h0m-112 34h0m520-31h0m-361-47h0m127 459h0m-144-62h0m-151 426h0m129-886h0m209 326h0m-48 57h0m-89 151h0m-92-278h0m251-6h0m-338-215h0m125 347h0m326-253h0m-315-35h0m264 24h0m-549 28h0m562 294h0m-165-304h0m-851 433h0m697-506h0m164 558h0m-45-311h0m-218 417h0m138-261h0m226-226h0m-231 157h0m-245 529h0m89-208h0m-75-557h0m-652 491h0m1080-599h0m-150 331h0m17 307h0m-432-499h0m-300 326h0m-207 139h0m1000-530h0m-125 425h0m-893 129h0m859-480h0m-57-12h0m279-155h0m-385 914h0m122-862h0m-462 302h0m484-280h0m313-20h0m-214 602h0m-63-525h0m-306 870h0m353-901h0m-114 499h0m99-231h0m253 80h0m3-14h0m-391 242h0m333-368h0m-172 47h0m44-271h0m64 183h0m-1001 347h0m807-462h0m-163-81h0m263-3h0m-774 474h0m672 139h0m30-608h0m-380 876h0m-3 6h0m421-524h0m-95-300h0m-254-4h0m237-27h0m236 315h0m61 116h0m-496 356h0m75-804h0m198-42h0m-621 307h0m503 314h0m133-501h0m-155 529h0m210-686h0m-36 270h0m48-139h0m40-60h0m256 46h0m-166-6h0m127 264h0m-807-34h0m458 177h0m48-69h0m-26-148h0m-773 266h0m578 326h0m-165-659h0m-127 33h0m106-138h0m291 581h0m350-222h0m38-338h0m-754 821h0m330-858h0m-388 228h0m492 187h0m-113 161h0m278-221h0m-229 153h0m146-643h0m-16 315h0m-104 267h0m268-313h0m156-44h0m-15 132h0m-136-115h0m-287 427h0m-29 1h0m291-220h0m-284 303h0m66-658h0m162 506h0m-136-204h0m50 217h0m-932 84h0m1130-416h0m-1137 340h0m819-393h0m342 53h0m126-226h0m-662 105h0m631 122h0m-689-120h0m192 615h0m321-587h0m-191 326h0m-677-43h0m290 547h0m607-975h0m-360 792h0m-118-672h0m240-37h0m115 515h0m-246-602h0m277 507h0m2-452h0m-276 41h0m-87-13h0m253 228h0m284 11h0m-90-211h0m76 18h0m-1075 364h0m871-342h0m-202-120h0m182 140h0m-9-145h0m191 53h0m-313-28h0m225 38h0m-282-144h0m252 372h0m-822 125h0m515 408h0m-24-48h0m181-448h0m-612 12h0m644-343h0m-32 671h0m-685-231h0m202-148h0m751-89h0m-325-52h0m-558 187h0m672 174h0m-44-96h0m243-369h0m-168 387h0m116-236h0m-138 114h0m-51-254h0m209 71h0m-1016 470h0m883-568h0m171 110h0m-449-108h0m-30-57h0m-362 331h0m416 563h0m361-532h0m-281-208h0m-714 473h0m731 143h0m157-569h0m-267-145h0m-12 751h0m-277-499h0m469 295h0m-79 67h0m151-439h0m7 168h0m-155 216h0m147-217h0m-72-293h0m252 130h0m-32 191h0m30-445h0m-120 450h0m-7 19h0m119-504h0m105 328h0m-1083 267h0m18-37h0m738 189h0m55-607h0m-77 104h0m-256-64h0m239-50h0m152 529h0m32-282h0m-2-49h0m198-250h0m-195 452h0m-379 503h0m540-690h0m-709 657h0m413-631h0m130-238h0m-656 174h0m798-136h0m-96 345h0m-161-400h0m-48 458h0m-656-78h0m97-79h0m614-242h0m-620 161h0m-130 163h0m274-232h0m456 164h0m5-320h0m305-23h0m-468 797h0m112-343h0m-662-22h0m506-420h0m-146 846h0m-308-522h0m998-326h0m-292 145h0m-131-254h0m-684 587h0m812-124h0m104-4h0m-10-144h0m-129 329h0m-133 116h0m37-610h0m270 244h0m-666 632h0m528-927h0m-160 707h0m94-191h0m-113-437h0m246 214h0m-195-375h0m-233 125h0m251 49h0m-78 724h0m67-791h0m282-106h0m-842 352h0m661-340h0m35 474h0m71 64h0m-144-462h0m-6 594h0m-400-458h0m299-101h0m-732 549h0m1147-492h0m-582-1h0m410 33h0m-495 810h0m163-176h0m524-767h0m-422 93h0m-196-61h0m244 101h0m150 29h0m37 164h0m-287-256h0m-241 44h0m453 69h0m-112-54h0m13 11h0m173 7h0m-39-76h0m-88 256h0m183 51h0m45-231h0m-282 219h0m241-98h0m-48-132h0m-128-42h0m16-54h0m-90 448h0m54 119h0m214-349h0m-300-208h0m82 229h0m-59 342h0m-47 106h0m205-773h0m-184 146h0m137-55h0m233 261h0" stroke="#0000bf"/>
<path d="M513 2808h0m783-300h0m-38-38h0m-289-85h0m313 150h0m-34-139h0m-792 471h0m499-445h0m323 154h0m-276 483h0m352-659h0m-454 706h0m146-64h0m-336-472h0m366 453h0m224-636h0m-172-79h0m-639 536h0m761-437h0m-377 101h0m403 68h0m-396 600h0m16-682h0m212 503h0m214-547h0m-14-70h0m-626 205h0m-30 93h0m637-154h0m-60 160h0m-456-140h0m581-151h0m-387 3h0m245-36h0m92 130h0m-219-182h0m177 300h0m-384-111h0m464-69h0m-115-47h0m-697 407h0m601 180h0m-233-500h0m-24 41h0m81-77h0m67-76h0m177 445h0m114-427h0m-151 456h0m-11 39h0m151-466h0m-257-56h0m195 145h0m40-68h0m-408 756h0m-170-604h0m394 430h0m150-347h0m-98 207h0m-78 161h0m110-699h0m103 199h0m-176-221h0m35 598h0m-19 61h0m68-193h0m-63 119h0m-16-584h0m44 547h0m-123-491h0m78 609h0m88-627h0m-33 10h0m17 0h0m61 95h0m-28-69h0m-110-71h0m198 97h0m-263 634h0m-83-615h0m-441 383h0m161-219h0m300-179h0m11-51h0m293 190h0m27-77h0m-659 220h0m481 171h0m-678 6h0m791-238h0m-536-70h0m255 515h0m107-753h0m-45 55h0m216 177h0m-18-167h0m-243-27h0m160 552h0m-430-333h0m193-123h0m-44 63h0m241 483h0m176-445h0m-179 442h0m247-628h0m-682 264h0m453 238h0m-383-296h0m534-90h0m-419 671h0m386-776h0m2 52h0m-319 1h0m338 60h0m-134 397h0m169-394h0m-48 162h0m-2-200h0m64-74h0m-50 74h0m-702 286h0m565 154h0m132-501h0m-234-46h0m-71 87h0m-33 2h0m326 187h0m-38 160h0m-561-82h0m709-347h0m-503 801h0m389-489h0m-571-24h0m313-254h0m178 460h0m145-406h0m-481 74h0m309 386h0m135-305h0m-61-237h0m16 399h0m-20 30h0m-488-231h0m-118 162h0m396-361h0m260 63h0m-108 527h0m85-490h0m-328 13h0m250 447h0m-177 139h0m320-614h0m-162 464h0m226-527h0m-647 189h0m529-92h0m44-29h0m-200-119h0m112 13h0m-735 521h0m781-305h0m-383 599h0m-70-634h0m505-101h0m-614 174h0m324-248h0m241 241h0m-193-236h0m-70 10h0m92 656h0m156-286h0m-43-379h0m-381 173h0m419 213h0m-453-199h0m371 283h0m-195-389h0m-198 130h0m253-184h0m187 410h0m49-101h0m-323-250h0m162-115h0m-221 837h0m392-588h0m11-14h0m-114-252h0m28 524h0m-428-284h0m-199 204h0m763-333h0m-166 421h0m-119 203h0m-147 130h0m317-367h0m-133-463h0m191 175h0m-239-155h0m-88 85h0m252 370h0m-508-187h0m4 5h0m488-335h0m183 93h0m-321 647h0m-200-513h0m275-225h0m-251 828h0m158-777h0m218 34h0m-355 775h0m-424-302h0m521-444h0m368-55h0m-182 497h0m44-488h0m-189-18h0m259 221h0m-14 27h0m-257 459h0m190-732h0m-304 776h0m87-674h0m344-5h0m-786 363h0m438-341h0m-50 644h0m329-674h0m-114 422h0m-70-508h0m-37 29h0m37-6h0m-51 34h0m-436 345h0m562-416h0m-90 718h0m-52-629h0m329 38h0m-92 284h0m-550-158h0m437-264h0m10 17h0m226 89h0m-212 519h0m2-24h0m104-379h0m35 6h0m-705 189h0m733-245h0m-82-75h0m113 23h0m-34-16h0m-284 628h0m-136-546h0m-291 226h0m317-283h0m312-20h0m40 16h0m-760 393h0m644 67h0m31-89h0m126-314h0m-44 44h0m55-110h0m-200-98h0m-3 653h0m-180 105h0m321-695h0m-822 467h0m866-441h0m-139-94h0m89 133h0m43 4h0m-2 22h0m-13 59h0m-85 243h0m157-419h0m-683 252h0m661-216h0m-305-41h0m189 15h0m29 23h0m-258-23h0m186 457h0m109-398h0m-260-56h0m43 658h0m-180-524h0m225-194h0m166 94h0m-158 579h0m170-546h0m-120-109h0m-334 188h0m406 182h0m82-293h0m-108 346h0m-107-436h0m167 170h0m-4 72h0m-257-158h0m346 3h0m-814 369h0m723-256h0m-642 185h0m409-335h0m-47-5h0m356 48h0m-97 11h0m18 74h0m-272-126h0m-120 797h0m-17-42h0m328-330h0m99-246h0m-83-222h0m-322 838h0m-281-447h0m727-287h0m-6 38h0m-115-117h0m-76-53h0m159 215h0m-201-186h0m144 417h0m-52 89h0m142-374h0m8-107h0m-45 129h0m-367-9h0m410-104h0m-636 227h0m384 420h0m168-572h0m-368 666h0m-206-431h0m618-91h0m-609 6h0m469 319h0m108-376h0m-96 385h0m-303-409h0m423 9h0m42-134h0m-211 591h0m186-519h0m-8 106h0m-195-249h0m82 482h0m-148-438h0m101-34h0m-151 105h0m131-117h0m26 529h0m-331-322h0m33-8h0m150 540h0m288-481h0m-60 175h0m-423-213h0m513-47h0m-201-188h0m122 94h0m12 318h0m-485-162h0m582-98h0m-52 10h0m-173 523h0m170-576h0m-759 408h0m848-471h0m-440 108h0m322 174h0m-24 112h0m-381 409h0m382-405h0m-133 259h0m136-657h0m-35 435h0m-110-442h0m75-35h0m2 620h0m-639-110h0m710-64h0m-365-236h0m387 130h0m-586 15h0m320-246h0m342-29h0m-50 115h0m-332-70h0m-182 114h0m503 62h0m25-165h0m-785 392h0m782-340h0m-270 548h0m-339-406h0m591-34h0m75-204h0m5-11h0m-681 267h0m-183 198h0m797-414h0m55-6h0m-673 251h0m619-258h0m-396 92h0m132-125h0m324-35h0m-67 187h0m37-162h0m-147 425h0m57-462h0m149 9h0m-291-20h0m-182 765h0m353-703h0m-412 122h0m-92 43h0m410-241h0" stroke="#0000cf"/>
<path d="M1123 2833h0m-598-30h0m701-269h0m1 111h0m-121 225h0m-257 247h0m215-105h0m107-224h0m-480-192h0m511-179h0m-59-65h0m-316 822h0m388-678h0m-582 222h0m40-64h0m240 434h0m222-713h0m72 167h0m-48 255h0m-46 53h0m-649 24h0m41-36h0m722-337h0m-502 83h0m218 489h0m175-732h0m-105 694h0m-177 88h0m-198-400h0m356-293h0m31-43h0m186 52h0m-507 146h0m525-16h0m-73 233h0m-713 74h0m249-287h0m351-205h0m-300 197h0m-67 53h0m464 184h0m-213-351h0m-456 403h0m642-13h0m4-29h0m111-217h0m-687 167h0m572 166h0m-87-555h0m-440 349h0m516 139h0m-433-201h0m409-318h0m-54 30h0m103 435h0m92-146h0m-377 438h0m238-117h0m22-133h0m106-410h0m17 177h0m-672 134h0m358 321h0m97-649h0m223 145h0m-11 91h0m-722 174h0m454 221h0m263-606h0m-56 330h0m-20-427h0m-621 460h0m2-6h0m279-278h0m277 460h0m6-11h0m-32-591h0m174 135h0m-41-138h0m22 154h0m13-68h0m-7 17h0m4 12h0m-781 360h0m348-321h0m213-116h0m119 504h0m75-487h0m34 161h0m-141-260h0m133 224h0m-67-219h0m81 245h0m-125 354h0m118-314h0m11-51h0m-553 70h0m162 520h0m131-120h0m102-701h0m-624 520h0m535-438h0m1 610h0m116-76h0m-455-268h0m576-157h0m-35 213h0m33-141h0m-125 350h0m-355-391h0m212-118h0m143 409h0m110-162h0m7-241h0m-557 238h0m337 345h0m-162 76h0m383-501h0m-682 167h0m-99 78h0m525-404h0m113 534h0m-148 78h0m-105-544h0m368 216h0m13-13h0m16-62h0m-167-307h0m174 214h0m-190-195h0m68 565h0m77-577h0m-590 361h0m251-195h0m202-160h0m-558 481h0m-62 7h0m405 271h0m384-711h0m-176 602h0m138-620h0m-54 499h0m110-335h0m-649 167h0m35-18h0m602-150h0m-310-84h0m194 383h0m-534-128h0m-10 15h0m629-22h0m-586-11h0m605-3h0m-1-203h0m-88-156h0m-603 465h0m701-274h0m-552 144h0m451 234h0m118-363h0m-554 68h0m394 349h0m152-342h0m-348-123h0m-382 328h0m256-275h0m-47 26h0m502-103h0m-327 31h0m318 45h0m-60 220h0m-539-64h0m181-180h0m362-200h0m-139 687h0m-568-166h0m280-290h0m304-180h0m57-23h0m6-11h0m-153 96h0m300 104h0m-286 503h0m206-270h0m-62 55h0m126-435h0m-117 457h0m-218 223h0m-246-384h0m566 5h0m37-207h0m-14-19h0m-107-160h0m-287 807h0m378-408h0m-203-295h0m58-56h0m6 624h0m157-375h0m-42 115h0m13-336h0m13 289h0m-151-324h0m-129 112h0m225 282h0m-140-332h0m189 19h0m26 22h0m4 37h0m-54-139h0m-29 414h0m-441-188h0m387 278h0m5-534h0m-9 505h0m81-476h0m-70 605h0m132-481h0m-19 197h0m-57 99h0m-56 165h0m-168-498h0m269 116h0m-114-229h0m118 201h0m-97-189h0m119 120h0m-657 265h0m602 35h0m-68 95h0m-190-383h0m263-105h0m-53 426h0m-71 202h0m34-34h0m-197 111h0m208-129h0m105-381h0m-694 247h0m603 66h0m-377-320h0m205-118h0m203-103h0m-480 333h0m173 478h0m189-135h0m-95-559h0m-32 29h0m209-158h0m-94 66h0m85 517h0m120-253h0m-390-137h0m273 376h0m-8-24h0m73-117h0m-68 64h0m97-357h0m-411 78h0m328 332h0m-323-334h0m264 464h0m-363-417h0m522-145h0m-158 549h0m63-190h0m-435-191h0m492-240h0m-11-32h0m-38-1h0m96 303h0m-104 258h0m84-248h0m-74 145h0m-32 159h0m-552-189h0m420 282h0m267-549h0m-57 252h0m-19 0h0m-289-235h0m362-32h0m-357 39h0m120 506h0m-69 35h0m170-192h0m-592-41h0m470-395h0m124-96h0m-263 806h0m202-747h0m161 9h0m-261 50h0m-162 91h0m406-144h0m-103-58h0m120 355h0m-2-280h0m-154 582h0m155-256h0m-366-222h0m398 12h0m-257-91h0m-169 77h0m346 272h0m0-442h0m13-13h0m-190 109h0m247 135h0m-4-99h0m-518 123h0m505-86h0m-163-138h0m180 192h0m-407-52h0m391 178h0m-285-244h0m257-108h0m-52-8h0m-326 183h0m328-204h0m37 30h0m27 396h0m-138 255h0m111-627h0m-489 288h0m476-315h0m-148 677h0m214-420h0m-188 410h0m82-193h0m-152-368h0m32-25h0m188-25h0m-503 264h0m427 290h0m-201-457h0m7-3h0m298-115h0m-69 417h0m-31 139h0m93-530h0" stroke="#0000df"/>
<path d="M691 2625h0m491-101h0m-73-139h0m76 175h0m-436 45h0m-109 127h0m436 252h0m-654-102h0m761-297h0m-121-180h0m-371 242h0m504 18h0m-120 243h0m-303-328h0m-196 171h0m-86 118h0m601 78h0m-500-204h0m356-255h0m244 107h0m-185 430h0m-475-211h0m345 282h0m311-394h0m-373 451h0m248-155h0m29-175h0m-13 65h0m-73-414h0m-222 95h0m212 470h0m-4-563h0m205 208h0m-375 489h0m-11-24h0m-275-350h0m27-31h0m365-262h0m15 556h0m-419-242h0m28-36h0m607-364h0m5 323h0m-5-137h0m-81 313h0m116-307h0m-175 415h0m-199 148h0m-217-436h0m495 74h0m-22 60h0m101-245h0m-177-174h0m52 554h0m-105 53h0m234-477h0m-706 294h0m680-134h0m-506-16h0m176 394h0m184-668h0m-251 138h0m390-194h0m-85 10h0m-5 578h0m99-224h0m-47-353h0m56 192h0m20-8h0m-328-42h0m-414 330h0m251-256h0m-14 53h0m403 164h0m-272-290h0m-198 189h0m381 294h0m-9-568h0m-87 616h0m281-521h0m7 40h0m-196 436h0m176-609h0m-41-13h0m-208 662h0m176-136h0m-218-398h0m209 381h0m21-120h0m-169 253h0m203-640h0m15 173h0m-55-209h0m-65 621h0m-11 20h0m47-623h0m8 20h0m-271 138h0m353 30h0m-182 447h0m92-631h0m79 37h0m-345 118h0m104 523h0m131-69h0m47-625h0m97 94h0m-178 542h0m73-617h0m101 167h0m-517 139h0m220-167h0m5 9h0m-195 86h0m506-15h0m-16-99h0m-272-1h0m285 97h0m3 25h0m-182 373h0m155-586h0m-217 617h0m130-80h0m-346-363h0m82 521h0m-119-516h0m264-130h0m227 133h0m-10 105h0m-105 142h0m-7-458h0m-6 578h0m-215 126h0m223-196h0m6 56h0m113-288h0m-17-233h0m-42 336h0m42-46h0m-355-184h0m227-138h0m-292 175h0m360 203h0m37-25h0m-81 110h0m-15-21h0m-312-251h0m343 220h0m-167-322h0m162 323h0m78-364h0m-163-1h0m-76 609h0m-23-539h0m238-115h0m53 84h0m-318 593h0m-184-436h0m307-199h0m152-13h0m24 52h0m-2 84h0m-7-58h0m-129-98h0m152 135h0m-517 148h0m519-77h0m-24-153h0m5-44h0m-420 175h0m345 321h0m-463-201h0m555-196h0m-104 274h0m-62-348h0m2-3h0m171 236h0m-465-91h0m351 224h0m-53 182h0m118-601h0m-74 461h0m10-7h0m-368-256h0m445 30h0m15 84h0m13-23h0m-12 35h0m29-76h0m-94-251h0m48 146h0m-46 231h0m36-199h0m-212-63h0m-120 625h0m377-646h0m-494 134h0m222-101h0m123-115h0m32 514h0m-251 197h0m265-165h0m-392-321h0m15-21h0m473-13h0m-14-156h0m-200 47h0m-175 60h0m378 6h0m-147-131h0m-104 97h0m241-47h0m21 223h0m6-219h0m-511 204h0m74-81h0m415 13h0m-277 463h0m293-578h0m-16-31h0m-14 87h0m26 34h0m-4 26h0m-3-116h0m-98 449h0m-7-37h0m98-389h0m-289 561h0m150-652h0m-53 609h0m209-532h0m-7 130h0m-219 399h0m-115-497h0m133-47h0m196 81h0m-4-4h0m-76 366h0m88-442h0m2 172h0m-392-108h0m369 168h0m18-283h0m-155 570h0m-244-433h0m323-202h0m-121 91h0m184-64h0m-14 204h0m-478 94h0m475-110h0m-8-174h0m-190 76h0m-14 14h0m148 327h0m57-407h0m-678 441h0m-24 4h0m271-275h0m24 3h0m445 88h0m-117 182h0m26 88h0m80-320h0m-112 336h0m98-460h0m-5 11h0m-74 275h0m60-422h0m42 343h0m-82 70h0m86-153h0m-55-230h0m-40-17h0m14 8h0m82 247h0m-28-164h0m-85 338h0m95-386h0m-199 604h0m90-186h0m139-187h0m-201-214h0m191 16h0m-391 91h0m-34 25h0m291-161h0m71 339h0m-7-364h0m-550 365h0m527 59h0m91-384h0m-253 77h0m-221 111h0m58-43h0m-35 17h0m412 158h0m-200-275h0m213 15h0m22 199h0m-26-148h0m-334-9h0m249-133h0m45 350h0m75-67h0m-38 48h0m36-289h0m-13 156h0m-512 106h0m521-56h0m-676 191h0m642-278h0m-196-63h0m73 509h0m47-606h0m80 97h0m-82 324h0m119-191h0m-120 271h0m103-377h0m-87 352h0m-16 8h0m-71-434h0m38 534h0m85-583h0m63 185h0m9-2h0m-107 349h0m34-535h0m-266 141h0m-168 111h0m448 91h0m-419-140h0m354 355h0m-542-144h0m16-34h0m626-224h0m-470 91h0m377 285h0" stroke="#0000ef"/>
<path d="M970 2507h0m-262 140h0m432-177h0m-147 552h0m168-355h0m-139-200h0m-147 91h0m232 206h0m-538 4h0m278-204h0m-271 197h0m540-326h0m26 94h0m-179 506h0m82-172h0m108-147h0m-693 173h0m573 108h0m-331-347h0m184 435h0m-375-237h0m292 306h0m-378-265h0m586 128h0m-119 66h0m-9-524h0m204 224h0m-166 278h0m64-35h0m143-575h0m6 70h0m-461 197h0m89-113h0m39 543h0m272-715h0m-565 418h0m305 279h0m-24-546h0m190-78h0m4 0h0m-411 263h0m181-156h0m383-36h0m-142 19h0m110 60h0m-289 471h0m-74-507h0m368 135h0m-152 289h0m93-598h0m-200 118h0m-382 321h0m643-132h0m-51-201h0m-359 101h0m348-76h0m91-99h0m-158 549h0m72-59h0m-508-175h0m526 10h0m-493-44h0m105-62h0m-213 187h0m517-391h0m29-9h0m-294 143h0m3 1h0m-62 95h0m310-175h0m84 411h0m-99-443h0m-155 648h0m285-540h0m-378 19h0m286-145h0m-372 246h0m516-134h0m-53 33h0m-241 459h0m195-221h0m-51-377h0m59 299h0m-3 20h0m21-204h0m-561 235h0m604-425h0m-4 245h0m12-234h0m-481 297h0m504-117h0m-163-86h0m-8 59h0m174-89h0m-700 386h0m71-48h0m536 0h0m0-45h0m-109 250h0m-146-474h0m294-142h0m-457 311h0m368-252h0m144 2h0m-282 603h0m-211-363h0m396 164h0m-159-340h0m128-63h0m-160 68h0m156-20h0m-259 70h0m-201 172h0m485 105h0m-38-380h0m-80 34h0m-122 32h0m-315 302h0m185-149h0m453 25h0m-126 263h0m151-323h0m-434-55h0m384-24h0m33 135h0m20-98h0m-40-9h0m-70 346h0m44-356h0m11 1h0m-243-63h0m88-44h0m-2 8h0m-121 587h0m81-43h0m-470-190h0m309-252h0m-55 77h0m377 226h0m-586-56h0m582-353h0m-24 472h0m27-58h0m-16-375h0m-4 297h0m-174-295h0m119 452h0m-52 35h0m-3-4h0m-399-233h0m606-199h0m-82 209h0m-21-280h0m59-23h0m-9 50h0m48 168h0m-374-130h0m337 53h0m-6-64h0m-261-39h0m211 366h0m-207-360h0m327 112h0m-233-135h0m177 46h0m-392 59h0m109-87h0m187-58h0m-297 151h0m-22 42h0m369 82h0m47-107h0m-18-2h0m-39 179h0m107-138h0m-165-208h0m-385 246h0m458 200h0m-10-468h0m-34 65h0m-19 39h0m130 85h0m-12-148h0m8 212h0m-59-252h0m-341 160h0m131 454h0m129-492h0m53-121h0m-230 647h0m178-558h0m130-144h0m-392 204h0m330-190h0m-6 1h0m-235 676h0m210-116h0m43-427h0m54 87h0m-481 74h0m454-236h0m-291 649h0m69-591h0m284 89h0m-131-98h0m84 81h0m-6 131h0m-124-254h0m165-17h0m-31-63h0m-14 51h0m-289 86h0m-3 568h0m319-473h0m-475 73h0m308 301h0m176-509h0m-57 252h0m-159 287h0m35-545h0m100 314h0m77-174h0m-104-72h0m-12 21h0m-29-83h0m148 14h0m-214 520h0m47-551h0m182-25h0m-91 59h0m49-94h0m-108 127h0m68-80h0m-162 577h0m198-452h0m28 93h0m-218 353h0m194-512h0m17 174h0m-208-178h0m196 179h0m43-58h0m-36-180h0m-23 112h0m-124 422h0m129-456h0m45-63h0m-7 71h0m-116-114h0m-3 530h0m44-219h0m10-263h0m-90 53h0m74-26h0m-172 29h0m258 164h0m-5-104h0m-549 124h0m385-189h0m63 360h0m94-465h0m-10 50h0m-74 392h0m30-424h0m-34 98h0m59 161h0m-485 12h0m494-149h0m-40 201h0m-6-336h0m-94 126h0m146-153h0m-315 149h0m177 442h0m45-467h0m101 89h0m-302-78h0m289 51h0m-103-38h0m12-99h0m92 109h0m-27-103h0m-17-37h0m82 192h0m-273 440h0m192-424h0m-42-169h0m-218 682h0m338-694h0m-66 308h0m59-233h0m-29-74h0m26 101h0m-204-47h0m202 28h0m-86 46h0m113 91h0m-107 243h0m79-420h0m-115-18h0m32 317h0m-25-305h0m44-84h0m16 44h0m-22 69h0m-59 46h0m112 1h0m-150-71h0m150 162h0m8-123h0m-84-32h0m28 29h0m-74 49h0m106-119h0m-170 61h0m97-35h0m73 59h0m-97-14h0m93 142h0m-286 421h0m221-250h0m110-209h0m-40-161h0m-101 4h0m124 188h0m21 21h0m-491 18h0m407-221h0m40 75h0m30 104h0m-149-179h0m31 34h0m55 207h0m55-296h0m-176 69h0m113 251h0m-23 111h0m-338-233h0m243-102h0m-135 623h0m-56-557h0m303-33h0m13-153h0m-13 473h0m25-263h0m-67 364h0m78-576h0m-93 576h0m-120-439h0m233 21h0m-57 383h0m-7-380h0m48 83h0m-99 331h0m-224-410h0m313-153h0m-7 116h0m26-136h0m-71 60h0m-32 73h0m-303 108h0m376-38h0m-49-56h0m39 14h0m-19-91h0m-310 142h0m312-14h0m82-29h0m5 142h0m-145-218h0m78 113h0m-99-64h0m7-57h0m60-46h0m79 103h0m0 71h0m19-34h0m-559 164h0m454-147h0m80-189h0m21 9h0m-4 34h0m-50-37h0m-9 170h0m65 58h0m-63-51h0m-25-99h0m52 167h0m-133-144h0m101 0h0m35 232h0m32-252h0m-32-77h0m20 132h0m-32 212h0m-392-93h0m241 352h0m32-493h0m167 139h0m-85-67h0m69-6h0m-128-66h0m83 33h0m-46 23h0m-453 154h0m429-237h0m126-56h0m-133 53h0m77 71h0m12 58h0m3 30h0m40-140h0m-208 17h0m148-37h0m-23 334h0m40-394h0m0 187h0m-50 264h0m38-114h0m88-138h0m-101 265h0m-19-332h0m102 122h0m-75 80h0m34-80h0m-64 273h0m55-233h0m6-3h0m-338-146h0m298 31h0m-18 338h0m90-333h0m-27-181h0m-12 85h0m22-1h0m-83 322h0m14-402h0m-81 99h0m-18-11h0m100 70h0m-142-73h0m144-97h0m-91 581h0m166-533h0m-248 584h0m177-481h0m109 71h0m-139-155h0m8-18h0m80 185h0m0 28h0m-16 33h0m-50-278h0m13 303h0m36-315h0m21 124h0m29 42h0m-449 52h0m85-89h0m268 258h0m-102-288h0m157-42h0m-15 249h0m-317-157h0m88 489h0m134-82h0m5-482h0m114 179h0m-23 18h0m-42 241h0m-46-459h0m70-63h0m-168 114h0m84 455h0m89-481h0m-36 284h0m50-112h0m1-137h0m-1 146h0m-47 119h0m60-309h0m-29-16h0" stroke="#0000ff"/>
<path d="M1068 2669h0m-104 350h0m-28-454h0m140 168h0m-149 319h0m-117-466h0m-259 217h0m150-111h0m142 407h0m151-478h0m-207-21h0m13 539h0m6-549h0m212 46h0m-224 518h0m67-573h0m-342 265h0m333-269h0m198 199h0m-384-44h0m135 441h0m54-593h0m134 43h0m34 254h0m-517-17h0m276-247h0m45 494h0m41-523h0m94-2h0m-523 310h0m546-274h0m37 357h0m-7 13h0m9-126h0m3 102h0m-206 149h0m204-202h0m-225 223h0m-214-371h0m470-100h0m-167 409h0m191-355h0m-517 65h0m315-206h0m-385 298h0m341 229h0m-76-468h0m267 266h0m-334-200h0m350 99h0m-274-171h0m-247 218h0m477-220h0m37 324h0m-151 123h0m-7 3h0m117-445h0m-34 394h0m-164 122h0m155-113h0m55-403h0m-209 534h0m281-482h0m-34 93h0m30-97h0m-144 365h0m-240-337h0m273-121h0m4 15h0m-390 167h0m121-72h0m368 58h0m-358-68h0m201-114h0m148 195h0m-20 39h0m-399-57h0m403-103h0m31 34h0m-211 408h0m154-107h0m-249-351h0m136 433h0m129-359h0m-23-74h0m-199 494h0m-146-391h0m421-38h0m-248-118h0m200 377h0m-8-20h0m-227 244h0m211-189h0m-1 2h0m-481-160h0m65-74h0m-71 88h0m535-125h0m-332-72h0m66 506h0m76-565h0m-279 173h0m452 12h0m-561 108h0m3-3h0m476-291h0m69 365h0m17-260h0m-486 92h0m120-66h0m389 30h0m-310-115h0m281 17h0m-9-8h0m-6 51h0m-24 298h0m-74 53h0m-93-457h0m80-16h0m12 477h0m87-74h0m48-271h0m-287-89h0m236 352h0m-319-258h0m-96 51h0m486-53h0m-142-124h0m-140 547h0m261-373h0m-7-76h0m-15 105h0m-496 33h0m415-225h0m-509 300h0m598-222h0m-127 386h0m69-425h0m-409 134h0m259 334h0m105-530h0m-17 23h0m63 410h0m32-121h0m27-172h0m-308-70h0m338 88h0m-119 290h0m68-52h0m-34 34h0m-251-348h0m96-59h0m186 245h0m-79 194h0m-118-452h0m212 167h0m-51 258h0m-383-246h0m474-55h0m-44 75h0m-338-79h0m333 219h0m-4-229h0m-3 52h0m-84-165h0m115 76h0m-335 0h0m334 9h0m-397 81h0m370 166h0m-108-322h0m63 421h0m-178-416h0m52-12h0m59 3h0m-196 80h0m58-40h0m101-34h0m67 19h0m105 128h0m-56 257h0m51-272h0m-7 9h0m-326-60h0m160 410h0m-227-337h0m268 314h0m63-451h0m-288 115h0m-20 12h0m-234 158h0m17 1h0m583-83h0m-62-174h0m52 311h0m33-269h0m21 37h0m-4-24h0m-506 92h0m397 215h0m62-317h0m-296-20h0m309 71h0m-10 47h0m-135-198h0m121 60h0m-81-66h0m-409 263h0m454 158h0m27-342h0m75 35h0m-10 40h0m-68 243h0m-213-357h0m261 117h0m-84-96h0m100 32h0m-81-24h0m-43-33h0m16 12h0m-168-25h0m237 213h0m-514 44h0m513 76h0m-8 30h0m14-146h0m-10-98h0m7-59h0m-4 130h0m-8 88h0m-476-62h0m477-20h0m-401-44h0m325 282h0m80-215h0m-156 264h0m167-395h0m-79-110h0m75 152h0m-5 171h0m-1-180h0m-201-121h0m250 133h0m-45 34h0m-22 222h0m14-25h0m7-241h0m-5 14h0m1 119h0m-76-283h0m115 174h0m-34-58h0m0 145h0m-13 109h0m30-178h0m11-97h0m-66-29h0m-13-22h0m-20 403h0m-3-408h0m29 381h0m-59-417h0m121 157h0m-27-60h0m46 30h0m-38 225h0m-96-358h0m139 167h0m-18-81h0m-231 457h0m195-215h0m30-139h0m-234-158h0m78-28h0m-231 173h0m367-62h0m-71 341h0m-445-164h0" stroke="#0010ff"/>
<path d="M977 2654h0m-116 430h0m148-156h0m-457-115h0m458-21h0m-434-9h0m433 16h0m-248-152h0m124 422h0m-382-198h0m433 152h0m65-59h0m-467-133h0m279 281h0m-236-335h0m438-62h0m-34-56h0m-94 407h0m-92 68h0m-160-377h0m132-114h0m247 63h0m1 19h0m0 5h0m-435 46h0m-153 125h0m447-297h0m131 205h0m-170-208h0m-68 48h0m-329 249h0m383-294h0m196 144h0m-11 109h0m-85 182h0m86-179h0m-181-258h0m-231 166h0m-164 132h0m463-303h0m36 432h0m5-410h0m73 76h0m-79 336h0m-11 11h0m89-222h0m-115-217h0m121 99h0m-316 10h0m265 281h0m46-90h0m-9-41h0m-210 283h0m-74-465h0m278 292h0m13-168h0m7-57h0m-1 33h0m-167-181h0m-24 508h0m114-490h0m-21-14h0m-325 169h0m206-153h0m69 462h0m59-52h0m-136 139h0m218-250h0m-6-80h0m-289-150h0m248-52h0m-109 450h0m-41 32h0m122-507h0m-36 453h0m-180-374h0m38-39h0m23-16h0m-208 158h0m-8 3h0m174-134h0m-247 223h0m516-191h0m-210-56h0m-174 123h0m389-45h0m-390 47h0m-187 139h0m497-282h0m-129 2h0m155 377h0m-42 52h0m-176-392h0m42-13h0m66-43h0m132 58h0m-323 87h0m346-33h0m-258-55h0m212 320h0m-27-375h0m81 228h0m-166 260h0m158-413h0m-128-72h0m1 468h0m63-52h0m-390-203h0m449-157h0m-270 6h0m162-54h0m131 126h0m-84 265h0m-146 136h0m133-536h0m89 293h0m-72-252h0m-247 75h0m324-2h0m-358 31h0m280 263h0m-207-346h0m-149 110h0m106-46h0m147-132h0m108 23h0m-158 5h0m226 257h0m2-101h0m-85-155h0m92 133h0m-84 256h0m53-320h0m-16 6h0m-182 458h0m207-495h0m-62-28h0m-323 125h0m214-161h0m-76 56h0m254 157h0m-1 136h0m-70-315h0m63 94h0m9 27h0m-36-115h0m31 177h0m-178-211h0m179 342h0m-45-316h0m60 131h0m-25-86h0m-158-53h0m-8 1h0m112 390h0m-19-388h0m-278 126h0m238 315h0m122-370h0m-38-46h0m26 64h0m0 225h0m20-7h0m-213 243h0m122-134h0m-420-170h0m241-213h0m171-42h0m108 100h0m-36 262h0m-431-169h0m457 112h0m-6-124h0m-70-157h0m-315 114h0m56-21h0m306-66h0m16 71h0m-126-146h0m122 373h0m17-23h0m-40-259h0m17-19h0m-170-59h0m194 298h0m-542-13h0m493-233h0m-55-37h0m92 175h0m-7 178h0m10-224h0m6 21h0m-102-178h0m100 292h0m-15-152h0m-130-139h0m143 278h0m-2-108h0m-278-91h0m78-54h0m-71 51h0m198-37h0m78 47h0m-9 242h0m-52-294h0m30 353h0m-4-308h0m-116-60h0m-315 212h0m311-223h0m156 306h0m-9-216h0m-22-35h0m-99-50h0m18 17h0m73 346h0m36-57h0m-113-288h0m-29-26h0m115 373h0m-131-359h0m-140 87h0m168 370h0" stroke="#0020ff"/>
<path d="M914 3036h0m-206-325h0m-60 48h0m-70 25h0m101-40h0m-39 21h0m157 357h0m171-396h0m-208-62h0m-301 234h0m508-179h0m-465 159h0m362 197h0m120-131h0m-198 196h0m-230-330h0m421-66h0m-313 9h0m117 418h0m204-234h0m-19-193h0m-126-111h0m153 218h0m-11 92h0m-134-308h0m26 433h0m-72 48h0m-336-219h0m514 44h0m-121 137h0m-282-292h0m231 324h0m-155-351h0m139 370h0m97-71h0m104-154h0m-136 170h0m40-439h0m67 72h0m-161-66h0m-101 79h0m186-85h0m99 172h0m-149 282h0m117-114h0m-335-208h0m373 114h0m-259-201h0m111 405h0m-281-286h0m289 278h0m-57-422h0m-182 114h0m-108 104h0m442 107h0m11-271h0m-42 311h0m-1-373h0m-198 48h0m248 19h0m-384 70h0m233-150h0m-243 158h0m142-91h0m272 225h0m-267-232h0m265 118h0m-423-6h0m129-75h0m-169 126h0m-62 41h0m222-155h0m304 49h0m-157 304h0m-11-460h0m-3 4h0m-248 158h0m189-129h0m18-10h0m7 509h0m-35-495h0m32 504h0m101-545h0m86 94h0m29 170h0m-429-90h0m-39 48h0m255 301h0m117-518h0m-290 135h0m184 352h0m62-491h0m51 8h0m87 248h0m-95-250h0m-264 125h0m94-64h0m119 380h0m142-148h0m-76-278h0m-321 125h0m190 365h0m130-104h0m-69 47h0m128-354h0m-3 52h0m-33-119h0m-5-10h0m-96-25h0m34 20h0m-85 7h0m177 308h0m-137 134h0m70-46h0m-275-286h0m60-21h0m132-102h0m36 0h0m-64 516h0m97-526h0m98 317h0m6-175h0m-75-128h0m-218 88h0m243-48h0m58 222h0m-251-232h0m-54 62h0m306 100h0m-5-42h0m-132-138h0m122 274h0m-143-290h0m-43 16h0m79 407h0m-426-164h0m498-234h0m52 182h0m-119 214h0m51-55h0m25-312h0m-205-19h0m123-48h0m-184 114h0m304 82h0m-110-184h0m59 55h0m-132-51h0m144 74h0m-35 311h0m-382-186h0m353-178h0m81 71h0m8 217h0m-71-315h0m-141 24h0m230 193h0m-167-219h0m147 121h0m-169-117h0m102 397h0m15-31h0m36-323h0m3 58h0m-25-44h0m-32-32h0m-66-16h0m142 105h0m-36 231h0m7-16h0m-34-295h0m11 320h0m-17-340h0m-125 7h0m-22 0h0m181 71h0m-99-88h0m50-7h0m102 225h0m-38-149h0m4 241h0m-66-299h0m-98 0h0m190 245h0m-17 57h0m-106-298h0m-192 89h0m309 73h0" stroke="#0030ff"/>
<path d="M522 2861h0m251-183h0m21-6h0m94 0h0m-23-7h0m-405 238h0m293-218h0m-103 80h0m-45 13h0m295 253h0m-25 29h0m45-360h0m12 279h0m-249-231h0m55-53h0m220 257h0m-31 32h0m-392-138h0m206-151h0m-201 148h0m250 276h0m14-450h0m-196 107h0m288-95h0m-45-16h0m-24 421h0m96-93h0m63-112h0m-75-188h0m-286 79h0m354 87h0m-195 270h0m137-427h0m57 209h0m-485-24h0m194-140h0m-199 144h0m191-140h0m229 265h0m28-281h0m-218-18h0m-12 15h0m-80 42h0m326 176h0m-71-281h0m37 330h0m-13-308h0m-81-26h0m-219 114h0m310 229h0m37-247h0m-68-91h0m-419 230h0m380-236h0m11 406h0m86-109h0m2 0h0m-510-54h0m503 60h0m-438-84h0m413 129h0m-467-105h0m449 129h0m-122 125h0m14-485h0m193 174h0m-461 15h0m402 122h0m65-117h0m-43 90h0m-272-201h0m224 285h0m-317-251h0m405 79h0m-21-83h0m1 9h0m-143 299h0m-43 80h0m-66-453h0m62 442h0m6-491h0m-305 222h0m285-214h0m207 253h0m-57 69h0m68-172h0m-3-14h0m-45 160h0m-11-273h0m9 272h0m-285-212h0m342 125h0m-533 13h0m498 52h0m-526-49h0m358-227h0m99 374h0m-42-389h0m142 177h0m-48 126h0m36-166h0m-438 54h0m224-169h0m134 359h0m-148-350h0m74-29h0m164 256h0m-229-235h0m-104 82h0m260-79h0m33 49h0m-62-53h0m-68 413h0m141-314h0m-177-99h0m169 54h0m-220-26h0m78-46h0m129 307h0m-195-274h0m194 8h0m-200 0h0m174-25h0m0 341h0m-36-353h0m-91 13h0m111 2h0m20 18h0m37 39h0m-165 399h0m70-465h0m45 30h0m-208 40h0m281 70h0m-306-57h0m173-94h0m103 70h0m-377 81h0m65-44h0m256 277h0m-177-316h0m-117 60h0m258-134h0m133 192h0m-193 281h0m152-368h0m-27-56h0m-456 193h0m445-185h0m-82-40h0m148 143h0m16 75h0m-244-195h0m122-27h0m-244 102h0m317-59h0m2 245h0m25-196h0m-47-53h0m38 38h0m-168-62h0m73-20h0m132 233h0m-78 113h0m-308-231h0m173 375h0m144-417h0m-369 88h0m418 103h0m-8 7h0m3-143h0m-93-132h0m105 181h0m2 64h0m-36 45h0m-162 182h0m146-426h0m-10 9h0m57 209h0m-148-262h0m-102 57h0m187-4h0m8 13h0m56 192h0m-88-254h0" stroke="#0040ff"/>
<path d="M575 2805h0m3-1h0m186 356h0m118-450h0m-37 360h0m-41-383h0m157 241h0m-37-165h0m-62 296h0m22-22h0m-79 63h0m16-13h0m66-370h0m-188 33h0m184 293h0m-72-355h0m-229 113h0m230 294h0m123-311h0m-116 304h0m-174-314h0m295 178h0m-175 197h0m202-229h0m-283-165h0m194-49h0m37 44h0m-166-43h0m99 358h0m47-41h0m32-56h0m21-165h0m-429 64h0m418-80h0m-69 262h0m-392-150h0m446 76h0m-2-215h0m-18-31h0m-292 54h0m42-11h0m-218 140h0m45-15h0m329-207h0m-384 223h0m367 202h0m-6 4h0m184-268h0m-85 184h0m-136-326h0m86-18h0m11 3h0m38 21h0m88 187h0m-19 37h0m-91 118h0m-172-303h0m192 278h0m-129-322h0m-117 66h0m221-81h0m-42 396h0m119-303h0m-81 273h0m-253-269h0m365 122h0m-199 265h0m-147-398h0m184 318h0m120-129h0m-158 179h0m-172-356h0m309 212h0m-181-274h0m-235 163h0m408-175h0m-356 131h0m343 187h0m-98-346h0m125 47h0m-296 48h0m234 281h0m-290-240h0m371 137h0m-83-270h0m75 285h0m-368-145h0m346 185h0m42-65h0m-356-149h0m393 78h0m-10-49h0m-166-143h0m-91 47h0m154-17h0m-290 89h0m382 124h0m-103-234h0m59 46h0m-253 21h0m267 4h0m-149-77h0m179 117h0m-169 306h0m103-374h0m85 112h0m-31-63h0m5 19h0m-368-5h0m356-15h0m-241-36h0m276 106h0m-11-39h0m-14 123h0m-184-245h0m134 49h0m-19 296h0m53-87h0m-56 83h0m38-55h0m-78 94h0m123-254h0m-216-110h0m-29 19h0m-207 145h0m466-12h0m-123-153h0m121 180h0m-292-134h0m53-38h0m174 24h0m-332 65h0m327 202h0m10-249h0m-183-43h0m-165 102h0m295-105h0m-21 358h0m38-351h0m49 35h0m-126 347h0m36-30h0m-3-388h0m-66 479h0m114-429h0m-88-50h0m-258 169h0m37-41h0m382 117h0m-140-244h0m124 255h0m-14-171h0m-107-63h0m68 35h0m-117 408h0m210-271h0m-432-38h0m-19 19h0m440 60h0m5-18h0m-212-205h0m90 0h0m-196 73h0m145-64h0m-129 58h0m-37 13h0m197-93h0m77 53h0m-142 427h0m6-462h0m161 85h0m-43-74h0m18 291h0m-476-96h0m445-212h0m93 132h0m-293-71h0m168-65h0m-1 3h0m-16 1h0" stroke="#0050ff"/>
<path d="M760 3162h0m-227-301h0m425 49h0m-380-97h0m-125 96h0m369-194h0m-133 46h0m198 260h0m-417-115h0m426-135h0m13 198h0m-473-53h0m410 142h0m-130-307h0m68 365h0m179-237h0m-270-121h0m-112 54h0m362 10h0m-45-46h0m-8 229h0m-350-154h0m295-131h0m-108 16h0m122-11h0m76 75h0m-503 118h0m148-100h0m184-99h0m158 70h0m47 78h0m-216-140h0m17-10h0m-189 104h0m392 81h0m-180 215h0m-143-337h0m17-4h0m218 259h0m-177-276h0m240 179h0m-98 128h0m-385-155h0m232-147h0m-126 66h0m201 316h0m161-343h0m4 145h0m-49-197h0m44 203h0m-10-162h0m-5-6h0m-150 396h0m74-462h0m111 102h0m14 93h0m-296-139h0m282 159h0m-179-217h0m64 357h0m-133-314h0m234 182h0m-261-172h0m154 311h0m142-201h0m-225-150h0m-95 49h0m274 15h0m36 41h0m-56 160h0m-263-214h0m245-30h0m-28-20h0m-342 151h0m422-76h0m-15 152h0m-90-241h0m-34 390h0m95-94h0m-14-267h0m-96-35h0m157 98h0m-303-27h0m128 390h0m134-399h0m59 150h0m-158 179h0m-9-391h0m-8 413h0m129-337h0m46 50h0m9 56h0m-117-169h0m-229 64h0m-92 82h0m357 146h0m67-187h0m-17-16h0m-442 82h0m254-167h0m-105 54h0m249-25h0m71 132h0m-151 201h0m37-28h0m22-324h0m-33-13h0m-60-10h0m6 6h0m124 267h0m-106-276h0m-112 54h0m278 88h0m-116-127h0m-30 355h0m75-82h0m-337-160h0m202 316h0m185-225h0m2-2h0m-151-217h0m-31 9h0m-52 30h0m71-29h0m-16 10h0m-172 66h0m297-38h0m-8 10h0m-205-4h0m188 282h0m100-162h0m-279-117h0m68 397h0m-240-290h0m420 54h0m-47-136h0m-389 94h0m384 127h0m-323-182h0m345 151h0m50-78h0m-180 223h0m64-62h0m30-302h0m-322 82h0m390-34h0m-48 192h0m12-17h0m-129 145h0m148-325h0m-278-24h0m260 195h0m-89-249h0m144 134h0m-205-137h0m-89 48h0m-166 115h0m291-179h0m117 91h0m8 10h0m-119 290h0m-13 14h0m22-19h0m-24-370h0m99 299h0m75-113h0m-9 13h0m-345-131h0m226-55h0m40 3h0m-52-29h0m-115 49h0m190 245h0m-296-200h0m-15 6h0m163-80h0m51-21h0m171 137h0m-395-27h0m268-91h0m100 97h0m14 84h0m-48-124h0m-59-47h0m7-1h0" stroke="#0060ff"/>
<path d="M948 2908h0m-51 66h0m-70 96h0m-84-329h0m-306 176h0m115-71h0m341 136h0m-287-182h0m172-66h0m-8-1h0m-329 183h0m302 264h0m110-413h0m-99 388h0m118-132h0m-308-189h0m198 306h0m26-40h0m118-286h0m-20 182h0m-171-238h0m119-5h0m-26-12h0m-56 425h0m187-319h0m-81 197h0m94-186h0m-392-20h0m391 32h0m-152-132h0m-296 150h0m398-74h0m-117-77h0m111 71h0m48 48h0m-51-49h0m-211-32h0m172 272h0m100-175h0m-123-121h0m-80-8h0m206 143h0m-16-31h0m-21 85h0m-160-205h0m125 63h0m-22-23h0m77 76h0m-274-70h0m275 140h0m-211-173h0m175 209h0m-441-46h0m449-90h0m-31 176h0m-6 17h0m-358-136h0m346-99h0m-392 129h0m391 125h0m-291-207h0m155-78h0m206 85h0m-363-4h0m236-87h0m82 250h0m-120-258h0m-321 183h0m128-88h0m20-20h0m319 17h0m-139-89h0m172 168h0m-72-116h0m33 161h0m-24 45h0m-38 56h0m23-271h0m67 56h0m-69-49h0m-123-42h0m12 402h0m-151-345h0m288 181h0m-450-65h0m432-117h0m-117-59h0m18 378h0m-186-307h0m310 156h0m-11-166h0m-464 122h0m507 4h0m-16 19h0m36-48h0m-211-150h0m-121 45h0m320 50h0m-29 98h0m43-63h0m-403-31h0m305 193h0m78-113h0m-165-185h0m129 232h0m-94 113h0m-31-348h0m-75 27h0m127 303h0m12-10h0m-87-316h0m20 379h0m-235-260h0m359 106h0m27-40h0m-88 137h0m60-96h0m-129 162h0m138-315h0m-134 310h0m-129-340h0m292 56h0m0 82h0m-262-147h0m287 111h0m-58-63h0m33 95h0m-183 250h0m-203-317h0m299-98h0m-108-3h0m207 155h0m-383-67h0m292-80h0m61 176h0m-92-192h0m53 58h0m-127-54h0m-240 136h0m350-97h0m91 74h0m-304-76h0m-28 16h0m287 27h0m-321-9h0m300 6h0m-395 71h0m433 30h0m-481-8h0m432-110h0m-12-19h0m-44 289h0m-33 29h0m104-309h0m-340 55h0m130-81h0m-23 10h0m54-22h0m183 42h0m-9 2h0m-30-28h0m95 91h0m-102-80h0m3 256h0m-14-277h0m-227 35h0m41-17h0m201 16h0m-54-68h0m-42 445h0m-31-428h0m55-13h0m-323 177h0m408-101h0m69 26h0m-120-96h0m60 284h0m59-104h0m-122-179h0m-128 28h0m274 123h0m-490 15h0m244-147h0m-146 78h0m251 242h0m16-330h0m-15-5h0m109 81h0m-174-79h0" stroke="#0070ff"/>
<path d="M828 3061h0m26-245h0m-225-16h0m107 379h0m40-67h0m-32 43h0m200-280h0m-114-94h0m20 29h0m-362 91h0m60-46h0m123-71h0m248 144h0m-6-85h0m-135-89h0m78 279h0m-238-227h0m27-11h0m-186 119h0m288-156h0m-37 11h0m-39 18h0m73 385h0m177-327h0m-167 298h0m99-107h0m-219-236h0m109 353h0m129-320h0m-86-76h0m-75 10h0m143 265h0m62-185h0m-479 77h0m402-129h0m31 216h0m8-15h0m-38-196h0m-39-37h0m34 23h0m63 163h0m-114 152h0m77-275h0m-87-74h0m95 80h0m41 102h0m-435-27h0m470-29h0m-113 176h0m-156-269h0m81-28h0m51 321h0m-214-263h0m254-2h0m6 218h0m86-131h0m-56 81h0m-72 94h0m-131-289h0m244 135h0m-129-163h0m146 135h0m-247-119h0m194 58h0m36 89h0m-283-124h0m239 191h0m-62-218h0m-69-14h0m115 75h0m-298 7h0m235 246h0m-41-329h0m-191 78h0m169 342h0m79-106h0m-256-226h0m237-77h0m-29-14h0m-246 124h0m245-122h0m166 102h0m-6 54h0m-485 9h0m443 55h0m-379-87h0m291-124h0m-282 120h0m240 255h0m2-5h0m13-16h0m20-26h0m30-315h0m30 41h0m-110 347h0m127-263h0m-19-45h0m-328 22h0m414 27h0m-69-57h0m-118 295h0m179-291h0m-131-80h0m22 5h0m-63-12h0m77 112h0m10 171h0m77-137h0m4 4h0m6-61h0m-39-20h0m-202-57h0m-67 29h0m-198 120h0m334 208h0m-192-294h0m321 125h0m-1-101h0m-26 18h0m-19 16h0m-82 229h0m117-135h0m-6 17h0m2-120h0m-389 15h0m342 159h0m-82 110h0m81-393h0m-227 34h0m235 39h0m58 14h0m-167-101h0m78 9h0m67 235h0m-86-247h0m-127 26h0m199 120h0m-184-119h0m-84 30h0m259 87h0m48 41h0m-90-173h0m109 142h0m-32 42h0m-87 132h0m150-205h0m-26-36h0m-57 8h0m-26-41h0m25 29h0m32-3h0m-20-7h0m-193-49h0m253 102h0m12 0h0m-100-40h0m25 26h0m-33-82h0m-26-18h0m-160 18h0m213 230h0m20-42h0m-32-140h0m29 132h0m64-92h0m-112 10h0m22-29h0m-29-12h0m86 68h0m32-43h0m-126 198h0m-240-242h0m277 47h0m8-11h0m80 2h0m-49-32h0m-113-76h0m19 325h0m112-154h0m-134-164h0m85 62h0m-16 204h0m-24-223h0m78 124h0m-50-121h0m-16-7h0m-48 293h0m-171-292h0m230-3h0m-107 367h0m-85-380h0m253 151h0m-156-176h0m192 118h0m-39-47h0m-54-4h0m53 19h0m23 3h0m-96 18h0m-126-100h0m70-5h0m147 100h0m-93-84h0m-6 84h0m10-29h0m-7-32h0m-240 16h0m146-63h0m107 41h0m-4-12h0m101 87h0m-93 23h0m-15-59h0m73 105h0m-295-136h0" stroke="#0080ff"/>
<path d="M420 2931h0m496-25h0m-324-79h0m274 85h0m-91 189h0m-24 33h0m-7-364h0m-260 136h0m411 22h0m20-24h0m-41 67h0m-152-197h0m153 122h0m-8 94h0m54-96h0m-49 80h0m-404-59h0m424-48h0m-80-68h0m12 255h0m-6-165h0m-152-92h0m222 140h0m-28 65h0m-46 65h0m-12 10h0m-23-304h0m119 95h0m-188-89h0m169 163h0m-77-153h0m99 76h0m-143-93h0m131 99h0m20 45h0m-15 11h0m-42 95h0m48-151h0m-231-74h0m209 95h0m-88 194h0m-245-225h0m-66 47h0m267 232h0m72-270h0m-214-50h0m214 37h0m26 56h0m-74 200h0m107-189h0m19-54h0m-299-44h0m297 99h0m-375-42h0m350 102h0m-125 153h0m-129-325h0m-71 52h0m-89 54h0m355-122h0m60 177h0m-55-104h0m1 18h0m59 9h0m-37 143h0m-6 7h0m-66-276h0m136 149h0m-438-5h0m340 158h0m88-201h0m-60 32h0m-191-102h0m-2 2h0m-116 78h0m157-92h0m66-21h0m-109 37h0m201 227h0m35-64h0m11-87h0m-9 66h0m-21 68h0m36-142h0m21 33h0m-404-16h0m225 279h0m28-47h0m65-224h0m-6-52h0m-2-32h0m3 244h0m-345-149h0m434-1h0m-105-118h0m-68 372h0m38-391h0m89 224h0m-29-88h0m64-34h0m-271-65h0m192 26h0m-2-29h0m97 99h0m-221-114h0m170 187h0m-135 202h0m105-135h0m-250-214h0m211-48h0m-117 11h0m25-14h0m72 327h0m126-224h0m-85-70h0m-359 105h0m396 92h0m-288-163h0m248 216h0m-208-240h0m207 5h0m86 96h0m-291-105h0m130-43h0m54 2h0m25 60h0m-96-64h0m191 113h0m-86 14h0m-6-60h0m-58-67h0m-138 39h0m189 66h0m-91-104h0m115 135h0m-52 182h0m-40-315h0m149 146h0m-393-26h0m149-95h0m158 8h0m79 66h0m-80-62h0m2 29h0m-152-46h0m200 118h0m-420 13h0m411 98h0m-86 93h0m-128-311h0m194 98h0m-317-14h0m344 111h0m-212-194h0m90 358h0m193-278h0m-146-111h0m35 69h0m-18-52h0m-24 315h0m93-115h0m-233-185h0m-198 119h0m469-23h0m-5 2h0m21-38h0m-68 144h0m31-61h0m-22-32h0m51-27h0m-44 97h0m10-27h0m44-92h0m-37 45h0m-75 148h0m9-202h0m-2 28h0m-37-104h0m99 121h0m28-34h0m-21 20h0m-132 238h0m44-329h0m-185 15h0m261 86h0m-24 119h0m-106 130h0m-211-281h0m280-8h0m77 44h0m-21 26h0m12-44h0m-96-97h0m134 78h0m-3 23h0m-45 15h0m19-3h0m-27 30h0m-122 224h0" stroke="#008fff"/>
<path d="M642 2813h0m179 237h0m-142-252h0m50 364h0m-75-356h0m175 118h0m-49-127h0m-24 324h0m-271-212h0m351 121h0m-12 11h0m-193-225h0m-1 4h0m184 86h0m10 13h0m-308-30h0m321 43h0m-62-137h0m23 19h0m53 128h0m-40-29h0m-177-92h0m92 346h0m3-8h0m126-165h0m-9 19h0m-44-146h0m-8-58h0m-18 287h0m-115-294h0m-149 89h0m219 264h0m80-256h0m-33 195h0m-298-184h0m242 272h0m120-161h0m-12-92h0m-94-145h0m50 20h0m-245 68h0m37-31h0m207-36h0m-194 29h0m241 97h0m25 31h0m-34 83h0m-107-255h0m81 20h0m-15 280h0m21-28h0m-4-185h0m1 196h0m57-100h0m-95 142h0m42-263h0m53 129h0m-288-134h0m265 82h0m-97 218h0m119-199h0m-99 169h0m100-152h0m-22-23h0m-44 139h0m-97-287h0m105 27h0m36 196h0m-4 11h0m-285-160h0m277 176h0m25-103h0m-120-158h0m89 142h0m-26-119h0m-44 328h0m-12 11h0m11-361h0m111 168h0m-7 0h0m-49 116h0m47-68h0m-367-90h0m323-54h0m-213-21h0m264 126h0m-4-2h0m-22 71h0m-24-144h0m-131-86h0m122 50h0m-68 306h0m131-173h0m-63 93h0m22-29h0m33-69h0m-55-159h0m-89-29h0m14 388h0m130-184h0m-40-93h0m-44 207h0m-128-294h0m163 24h0m-143-35h0m141 82h0m-127-84h0m-119 57h0m-135 78h0m305-149h0m73 82h0m-102-71h0m46 342h0m83-106h0m-206-212h0m177 0h0m-31-36h0m-14-3h0m-163 54h0m213 55h0m50 70h0m-299-100h0m241-55h0m22 249h0m-135-258h0m168 144h0m-203-129h0m-199 114h0m374 114h0m-210-216h0m152-25h0m-313 123h0m372 6h0m-86-144h0m-129 44h0m43-17h0m130-11h0m-346 131h0" stroke="#009fff"/>
<path d="M677 2805h0m106 15h0m-60 339h0m-208-268h0m210 263h0m-149-305h0m202-31h0m-356 363h0m366-349h0m-150-12h0m-173 99h0m279 209h0m-283-206h0m253-126h0m55 10h0m-327 126h0m95-55h0m287 151h0m-23 31h0m-19-230h0m54 120h0m-340-45h0m246 228h0m24-325h0m3 292h0m-15-300h0m79 218h0m-204-193h0m179 92h0m18 108h0m-85 110h0m-83-322h0m4 2h0m132 63h0m-140-59h0m161 109h0m-365-1h0m-18 11h0m362-65h0m-230-16h0m228-8h0m-16-34h0m0 9h0m-4 270h0m73-115h0m-381-58h0m124-77h0m-33 21h0m-13 10h0m-56 36h0m351 99h0m-37-113h0m-228-41h0m219 19h0m48 133h0m-415-68h0m366-47h0m-167-65h0m166 6h0m-55 303h0m-24-338h0m-289 141h0m371-80h0m20 185h0m2-7h0m-96 144h0m90-260h0m-127-116h0m99 279h0m-228-216h0m236-18h0m14 52h0m-173-78h0m88-27h0m2 370h0m-70-350h0m-12 9h0m77-26h0m76 56h0m-369 86h0m362 138h0m-66 96h0m129-206h0m-175-163h0m99 2h0m-296 106h0m-21 11h0m299-125h0m22 292h0m-53 67h0m50-345h0m-157 16h0m-195 347h0m415-163h0m-28-101h0m-268-39h0m258 193h0m-12-229h0m-153-11h0m66-28h0m131 219h0m-6-82h0m12 77h0m-243-173h0m24-7h0m-9 1h0m198 80h0m-85 244h0m47-346h0m63 130h0m-14-5h0m15 76h0m-27 41h0m-14-177h0m-78-75h0m-260 125h0m281-132h0m112 193h0m-241-152h0m199 221h0m-198-217h0m7-7h0m222 112h0m-53-121h0m-17 278h0m-207-241h0m194-60h0m-226 82h0m-103 289h0m8 9h0m317-379h0m-141 33h0m193 75h0m48 57h0m0 19h0m-5-15h0m-20 61h0m-12-103h0m-51 176h0m-23-309h0m55 61h0m15 197h0m-127-247h0m114 258h0m-76 112h0m59-353h0m67 161h0m-56-151h0m-95-33h0m151 157h0m-88 157h0m45-58h0m-108-250h0m-42 12h0m188 186h0m-32 46h0m-131-239h0" stroke="#00afff"/>
<path d="M731 3139h0m-309-195h0m404 54h0m-361-76h0m-36 19h0m286 224h0m-103-323h0m-186 327h0m352-323h0m-193 4h0m155 277h0m54-68h0m-73 90h0m-2-341h0m73 96h0m25 39h0m-51-119h0m60 172h0m-203-160h0m130 272h0m-27 33h0m-12 22h0m-239-245h0m224-106h0m-25 6h0m146 195h0m-270-140h0m264 155h0m-379 153h0m146-330h0m-61 39h0m103-52h0m145-13h0m-45 316h0m74-221h0m4 126h0m-50-231h0m-20-2h0m88 134h0m-37-89h0m-114-41h0m109 262h0m-148-246h0m143-3h0m-346 339h0m44-248h0m322-19h0m-19 185h0m60-101h0m-230-140h0m201 194h0m-28 42h0m51-123h0m-19-21h0m14 70h0m-40-145h0m47 115h0m-59-151h0m-216 40h0m269 134h0m-78-189h0m30 271h0m-160-241h0m58-22h0m36 360h0m19-368h0m69 243h0m-366 116h0m352-98h0m5-10h0m-202-211h0m113-39h0m-29 9h0m-79 29h0m48-23h0m145 42h0m23 163h0m-4 1h0m-141-214h0m88-2h0m-40 357h0m56-82h0m-55 69h0m-140-301h0m234 72h0m-74-120h0m15 302h0m15-292h0m55 200h0m6-21h0m0-52h0m-211-105h0m185 206h0m-71-233h0m53 23h0m40 178h0m-59 84h0m31-188h0m-169-76h0m165 55h0m-29 212h0m-6-282h0m-131 18h0m166 37h0m-45-57h0m-7 1h0m48 249h0m35-113h0m-35-65h0m-140-67h0m47-14h0m25-5h0m22 322h0m-25-321h0m-50 15h0m159 185h0m-63-178h0m-119-1h0m163 210h0m-30-203h0m55 136h0m-45-104h0m-148-35h0m62-19h0m-53 16h0m-207 107h0m366-15h0m-90-109h0m-143 46h0m247 154h0m-99 146h0m95-215h0m-36 132h0m-276-173h0m-65 269h0m-10-229h0m29-15h0m377 52h0m-95 148h0m-86-305h0m143 231h0m-104-234h0m121 124h0m17 43h0m-51-155h0m-17 268h0m16-259h0m-71 340h0m82-112h0m-8-212h0m-59 298h0m-63-331h0" stroke="#00bfff"/>
<path d="M671 2828h0m72 0h0m36 70h0m-347 265h0m386-168h0m-1 8h0m-61 97h0m38-173h0m-352 252h0m-5-238h0m342 127h0m-64 85h0m11-18h0m84-117h0m-171-176h0m-183 86h0m313-77h0m40 165h0m-73 108h0m36-256h0m-108-36h0m32-10h0m-91 28h0m49-18h0m161 164h0m-21 47h0m23-79h0m-26-34h0m-7 130h0m37-78h0m-55 102h0m6-206h0m-5-2h0m5 8h0m-152-39h0m23-10h0m-203 342h0m171-326h0m167 37h0m6 18h0m6 26h0m14 95h0m-110 150h0m-248 2h0m115-312h0m217 23h0m-333 46h0m-24 15h0m365-29h0m34 67h0m-13 35h0m-356-92h0m270 211h0m-286 24h0m186-321h0m21-8h0m89-12h0m72 112h0m-91 215h0m76-104h0m-49-223h0m3 6h0m31 242h0m27-44h0m-40 62h0m26-42h0m19-106h0m10 56h0m-395-52h0m280-127h0m88 94h0m-9 143h0m-43-226h0m30 250h0m-40 51h0m-287 40h0m363-230h0m-360-4h0m261 235h0m103-225h0m5 5h0m-212-102h0m85-22h0m132 159h0m4-18h0m-70 133h0m53-159h0m-95-124h0m16 319h0m84-188h0m-5-1h0m-26-54h0m-283 12h0m206 257h0m38-48h0m-40-295h0m-276 126h0m389 47h0m9-16h0m-24-43h0m-327-13h0m312-7h0m-61-94h0m86 195h0m-96 143h0m112-190h0m-113 183h0m90-209h0m-52-111h0m13 256h0m-141-241h0m109-22h0m47 59h0m22 151h0m-76-207h0m48 19h0m-63-22h0m94 200h0m-38-189h0m8 24h0m-98-32h0m142 179h0m-163-177h0m-65 23h0m229 103h0m-145-129h0" stroke="#00cfff"/>
<path d="M724 3130h0m65-100h0m-298-116h0m52-33h0m-11 8h0m221-39h0m-21-11h0m40 227h0m-46-229h0m26 14h0m19 217h0m-61-235h0m101 155h0m-389-37h0m384 49h0m-380 153h0m338-276h0m-247 23h0m293 77h0m-44-91h0m-25 224h0m-69-275h0m19-1h0m112 177h0m3-43h0m-270-82h0m27-16h0m147-35h0m64 71h0m-344 41h0m74-41h0m24-14h0m234-27h0m10 46h0m22 113h0m-37 65h0m35-150h0m-47-94h0m-84-4h0m104 60h0m-208-28h0m3 1h0m235 68h0m-96 222h0m93-137h0m-49 80h0m-165-242h0m184 7h0m8 18h0m-144-37h0m161 81h0m-99-95h0m116 147h0m-95 165h0m-239-226h0m-19 255h0m286-66h0m-33 38h0m72-235h0m-333 254h0m350-150h0m13-50h0m-59 130h0m-101-259h0m139 197h0m-7 14h0m-199-186h0m210 163h0m-4 0h0m-43-187h0m-44 325h0m24-36h0m63-106h0m-346-83h0m279-107h0m-8 312h0m-267 21h0m355-219h0m-41-93h0m-47 289h0m37-50h0m29-36h0m-14 18h0m1-202h0m41 128h0m-193-147h0m-128 62h0m319 37h0m-30 96h0m7-131h0m-232-39h0m212-3h0m-7-24h0m-136-2h0m61-18h0m-51 20h0m-138 61h0m312 51h0m-346 213h0m275-56h0m-81-279h0m-202 327h0m345-232h0m-91-106h0m-248 344h0m261-339h0m-50 0h0m118 83h0m-47-79h0m-30-5h0m-61 10h0m104 2h0m-290 83h0m297 153h0m-122-235h0m16-5h0m120 227h0m-44-228h0m75 170h0m-16-80h0m-18-43h0m-25-52h0m-149 22h0m109-25h0m101 169h0m-85 135h0m84-145h0m-31 68h0m-19-201h0m-317 299h0m4-216h0m369 24h0m-2 22h0m-110 181h0m74-109h0m-321-126h0m231-102h0" stroke="#00dfff"/>
<path d="M687 2850h0m-236 89h0m213-92h0m-130 45h0m-68 37h0m1 0h0m113-61h0m142-20h0m40 60h0m-44-61h0m10 3h0m-24 298h0m77-118h0m-149-174h0m63 299h0m89-134h0m-200-150h0m-161 86h0m185-93h0m-131 59h0m316 80h0m7-16h0m-148-136h0m58-5h0m49 46h0m-269 25h0m254 180h0m-59 81h0m26-330h0m-246 82h0m-10 243h0m275-60h0m49-180h0m7 83h0m-47 84h0m3-8h0m33-57h0m25-54h0m-177-122h0m-165 75h0m165-70h0m149 56h0m-235-31h0m115-38h0m69 276h0m13-274h0m-38-8h0m-150 40h0m126-38h0m72 18h0m-63 317h0m24-40h0m59-79h0m-332 90h0m362-154h0m-45-127h0m34 143h0m-2 9h0m-354-68h0m369 37h0m-98-148h0m44 20h0m-104-7h0m152 146h0m-94-156h0m85 90h0m-21 131h0m-308 104h0m321-130h0m27-61h0m-78-132h0m-285 97h0m256-96h0m78 65h0m-5 141h0m30-69h0m-48-118h0m-47 275h0m-12 27h0m-122-299h0m122-19h0m-248 308h0m329-240h0m-180-56h0m193 75h0m13 23h0m-60-102h0m-283 308h0m269-44h0m-17-280h0m88 133h0m0 18h0m-37-109h0m-2-12h0m-70 295h0m-251-219h0m274-98h0m50 224h0m-4-192h0m-83-36h0m-107 24h0m-140 275h0m269 17h0m22-32h0m47-223h0m19 114h0m-127-170h0m79 3h0m66 112h0m-46-94h0m-122-21h0m45-5h0m104 95h0m-4-14h0m-1 101h0m-145-173h0m52-7h0m-113 24h0m30-12h0m129-13h0m-174 31h0m200 198h0m10-22h0m-52-209h0m56 192h0m24-89h0m-371 194h0m314-278h0m-71-18h0" stroke="#00efff"/>
<path d="M701 3143h0m17-281h0m64 91h0m-28-53h0m-325 58h0m289 161h0m-20-261h0m67 188h0m-26-167h0m-14-13h0m43 165h0m-26-151h0m7 12h0m-285 40h0m319 25h0m-10 69h0m-124-166h0m-133 46h0m273 82h0m-260-92h0m221 1h0m15 25h0m-164-53h0m71 313h0m-120-298h0m87-21h0m100 233h0m-60 78h0m4-318h0m-1 2h0m41 10h0m-145 7h0m160 3h0m-86-17h0m124 81h0m-72 197h0m-235-208h0m246-68h0m-45-4h0m-224 302h0m116-282h0m209 148h0m-1-96h0m-184-58h0m100 289h0m-94-287h0m-158 274h0m116-262h0m-99 275h0m297-79h0m-308-134h0m304-65h0m9 14h0m6 163h0m-162-188h0m108 264h0m-262-190h0m116-64h0m51-15h0m-109 44h0m158-54h0m15 320h0m1-8h0m90-130h0m-64-182h0m-256 299h0m288-278h0m49 128h0m-6-63h0m-158-77h0m-110 42h0m277 54h0m-156-98h0m-209 98h0m311 144h0m25-41h0m-51-206h0m-16 298h0m42-287h0m32 174h0m-9-142h0m-259 12h0m188-56h0m83 169h0m-321 127h0m297-67h0m-280 90h0m246-312h0m-252 73h0m119-65h0m-140 80h0m260-95h0m3 7h0m71 65h0m-31 166h0m-90-236h0m116 64h0m-322 229h0m252-2h0m52-68h0m-6 6h0m-30 39h0m-68-265h0m133 84h0m-17-38h0m-2 154h0m-36-195h0m-182 22h0m-109 256h0m332-218h0m-328 219h0m293-274h0m17 16h0m15 155h0m-193-164h0m128-21h0m-93 13h0m133 227h0m-8-222h0m34 173h0m-2 1h0m-96-192h0m11 317h0m-2-318h0m-247 284h0m353-121h0m-23 49h0m35-81h0m-158-125h0m55-4h0m72 189h0m31-74h0m-69-101h0m30 35h0m-124-43h0m-20 5h0m179 93h0m-8 49h0m-43-127h0" stroke="#00ffff"/>
<path d="M431 3145h0m294-40h0m-18 25h0m-90-256h0m-168 73h0m-20 197h0m297-44h0m5-212h0m2 207h0m29-159h0m-46-58h0m-73-7h0m135 101h0m-358-6h0m21 185h0m279-271h0m-17 252h0m74-165h0m-39-73h0m-10 202h0m-201-195h0m166 240h0m7-268h0m-231 308h0m-50-44h0m218-266h0m30-4h0m100 76h0m-65-69h0m-172 24h0m218 170h0m2-154h0m26 49h0m-16-30h0m-4 107h0m-328-77h0m339 53h0m-60-142h0m48 175h0m-322-90h0m232 223h0m-156-271h0m-78 231h0m276-267h0m34 33h0m-203-14h0m185-13h0m28 180h0m25-99h0m-300-34h0m288 95h0m-93 151h0m-232-220h0m139-76h0m23 0h0m89 270h0m-122-267h0m166 10h0m-50-22h0m94 121h0m-328 168h0m268-45h0m35-68h0m-305 109h0m259-24h0m30-44h0m3-183h0m-69 269h0m40-296h0m25 29h0m-303 53h0m57-36h0m66-35h0m193 28h0m-280 262h0m290-150h0m-8-107h0m-65-51h0m-36 3h0m101 181h0m-89 128h0m-66-303h0m102 259h0m35-48h0m-4 6h0m27-163h0m14 74h0m-23 51h0m-64 100h0m65-102h0m-251-139h0m219 201h0m-133-239h0m78-10h0m84 47h0m0 4h0m-304 231h0m327-204h0m-92 221h0m52-277h0m-167-4h0m168-1h0m-8-1h0m-98-11h0m50 290h0m71-89h0m-272 106h0m-9-244h0m255-54h0m-40 277h0m-241-13h0m323-117h0m-59 104h0m77-148h0m-144-113h0m-7 1h0m126 170h0m-46 82h0m69-164h0m-63-81h0m-100-5h0m-157 288h0m246-287h0m52 46h0m-29-31h0m54 92h0m-24-61h0m8 26h0m12 50h0m-322-56h0m134-65h0m187 94h0m-234-79h0m132-23h0m17 277h0m61-218h0m-11 151h0m-50-203h0" stroke="#10ffef"/>
<path d="M737 3076h0m31-84h0m-135-115h0m135 110h0m-34 99h0m32-96h0m-20-67h0m-64 225h0m-18-270h0m-36 0h0m92 19h0m-243 285h0m102-300h0m160 187h0m-79 108h0m-182-2h0m4 5h0m128-301h0m157 107h0m0-4h0m-328 163h0m322-137h0m-60-122h0m-278 84h0m291 141h0m-80-233h0m-125 35h0m236 143h0m6-28h0m3-5h0m-22 63h0m0-179h0m17 129h0m-12-123h0m-316 221h0m297-30h0m-25 31h0m-257-176h0m273 160h0m-242 50h0m291-152h0m-11-90h0m-21-27h0m22 127h0m-28-128h0m-5 210h0m-49 61h0m-209-10h0m-24-18h0m167-261h0m105 8h0m-235 46h0m118-52h0m166 55h0m-153-59h0m147 163h0m-315-80h0m224 219h0m-203-24h0m276-67h0m-304-121h0m22 183h0m320-179h0m-59 142h0m33-51h0m-76 104h0m-94-282h0m142 7h0m42 123h0m-95-136h0m-3 295h0m-74-289h0m-15 2h0m192 124h0m-261-95h0m263 35h0m-97-72h0m-17-2h0m48 7h0m-46-6h0m113 121h0m-31-93h0m34 57h0m-264-48h0m233 161h0m30-101h0m-81 170h0m37-45h0m-188-202h0m203 173h0m-25 39h0m46-110h0m-276-74h0m206 217h0m-59-265h0m31 5h0m-227 257h0m271-15h0m-43-241h0m-203 275h0m305-177h0m-3-36h0m-84-67h0m-251 89h0m310 106h0m25-120h0m-71-72h0m-243 68h0m168-72h0m-152 61h0m7 229h0m202-5h0m84-152h0m-298-70h0m4 218h0m234-268h0m-21-12h0m72 169h0m-7-130h0m8 129h0m-87 124h0m97-223h0m-85 212h0m-28-279h0m71 13h0m-166-3h0m156 232h0m26-216h0m4 163h0m-67-192h0m-136 20h0m199 20h0m-5-11h0m21 18h0m15 52h0m-58-89h0m22 22h0m22 135h0m-126-165h0m124 47h0" stroke="#20ffdf"/>
<path d="M459 3155h0m281-106h0m-23 51h0m-16-200h0m-13 235h0m-140-240h0m195 140h0m-28-128h0m36 45h0m-89 214h0m95-173h0m-268 186h0m-64-206h0m208-89h0m-157 49h0m267 103h0m-2-103h0m-274 6h0m291 25h0m-6 46h0m-277-77h0m284 35h0m-301 186h0m79-252h0m194 175h0m-35-179h0m-276 77h0m287-72h0m35 32h0m12 21h0m-112 225h0m-216-50h0m83-215h0m200 195h0m-265 32h0m255-20h0m-241-177h0m122-58h0m-28 6h0m-119 241h0m167-251h0m68 273h0m74-127h0m-126-145h0m140 80h0m-31 122h0m-24-184h0m-85-17h0m109 203h0m-197-185h0m227 85h0m-1 16h0m-283 162h0m19-241h0m170 242h0m-9 3h0m34-34h0m-221 20h0m6 7h0m275-226h0m-296 14h0m113-61h0m180 136h0m16-47h0m-80 167h0m-242-183h0m272-56h0m-50 259h0m89-219h0m-62 193h0m66-184h0m-27-42h0m-34-12h0m34 185h0m14-37h0m-169-162h0m157 29h0m24 93h0m-281 152h0m265-234h0m-300 37h0m283 132h0m-76-208h0m-216 84h0m224-84h0m-7 1h0m98 152h0m-4-111h0m-69 227h0m51-247h0m-18 209h0m49-167h0m-167-66h0m172 101h0m-143-104h0m143 82h0m6 6h0m-19-36h0m-24-22h0m-272 43h0m5 191h0m287-103h0m-2-3h0m-38 78h0m-40 43h0m-237-34h0m179-244h0m83 8h0m-92-9h0m119 23h0m45 88h0m-37 102h0m0-180h0m-161-25h0m130 3h0m-58-9h0m73 22h0m54 81h0m-132-105h0m60 12h0m-5 249h0m-92-259h0m89 6h0m39 213h0m-53-218h0m-182 287h0m268-172h0m-25 88h0m-292-122h0m217 208h0m65-262h0m34 110h0m-10 34h0" stroke="#30ffcf"/>
<path d="M645 2893h0m-100 7h0m159 210h0m-262 29h0m21-196h0m194 219h0m-21 17h0m-29-290h0m-90 23h0m212 25h0m22 35h0m-322 1h0m93-63h0m142 243h0m-179-223h0m65-32h0m148 218h0m-66 66h0m-2-290h0m1 286h0m76-70h0m-52-211h0m37 11h0m-224 250h0m283-181h0m-19 76h0m-46 80h0m-9-231h0m-171 16h0m-40 237h0m276-144h0m-300-48h0m31-25h0m245 152h0m-17-177h0m44 88h0m-191-105h0m43-6h0m150 84h0m-199-73h0m-56 280h0m248-234h0m-247 235h0m-13-250h0m214-22h0m-36-11h0m12 252h0m-250-24h0m177-234h0m88 12h0m-187 277h0m225-254h0m-79-35h0m-161 275h0m-22-221h0m176 228h0m96-233h0m-165-50h0m63 2h0m119 91h0m-107-89h0m98 51h0m-129-56h0m-81 14h0m218 89h0m-120-99h0m-173 55h0m293 33h0m-187-89h0m180 60h0m5 37h0m-59 140h0m-240 13h0m196-245h0m101 58h0m-324 21h0m326 5h0m-10-29h0m3 62h0m-303 120h0m207 38h0m21-22h0m-6 6h0m61-233h0m24 75h0m-54-90h0m-213 26h0m141-44h0m80 25h0m44 77h0m-59-87h0m33 184h0m-9-175h0m-21-6h0m43 146h0m17-86h0m-257 206h0m171-20h0m52-59h0m16-157h0m-280 17h0m122-65h0m139 32h0m17 8h0m-10-7h0m-8 180h0m-275 29h0m219 32h0m96-206h0m-70-53h0m52 39h0m-7 134h0m-44 58h0m-240-174h0m288 106h0m-151-178h0m-104 270h0m201-15h0m74-161h0m-95-86h0m-206 242h0m225-241h0m-49-9h0m-33 2h0m-81 24h0m239 44h0m-26-36h0m-180-24h0m103 265h0m-117-260h0m206 142h0m11-71h0m-121-84h0m112 138h0m-128-140h0m87 232h0m46-161h0m-5-11h0" stroke="#40ffbf"/>
<path d="M740 2990h0m-104-91h0m18 259h0m57-65h0m-86-196h0m-133 275h0m-25-18h0m153 26h0m113-166h0m-66 133h0m-235-17h0m34-185h0m173 223h0m-14 13h0m105-232h0m-289 17h0m294 8h0m-307 3h0m265 138h0m-51 51h0m-155-235h0m-39 208h0m124-243h0m-114 251h0m91-244h0m178 143h0m-102 132h0m31-22h0m-79-257h0m-118 247h0m186 15h0m35-247h0m52 108h0m-122-127h0m78 228h0m40-86h0m6-31h0m-36 101h0m13-19h0m-121-193h0m-35 6h0m173 132h0m-5 18h0m-300 75h0m316-133h0m-246 181h0m-18-236h0m230 164h0m-226 62h0m56-258h0m174 25h0m-40 214h0m-9 7h0m4-4h0m-23 15h0m-198-197h0m238 166h0m-52 42h0m95-137h0m-139-138h0m-165 82h0m42 167h0m46-228h0m110-24h0m114 112h0m-3 12h0m-58-109h0m-49-12h0m-187 230h0m208 33h0m-13-260h0m-130 22h0m193 194h0m-71 58h0m-6-278h0m122 93h0m-27-59h0m-2 166h0m23-92h0m-117 174h0m7-281h0m61 231h0m-9 8h0m35-205h0m-236 225h0m228-234h0m-199 257h0m202-247h0m-58-31h0m-6-1h0m-141 271h0m237-174h0m-252-65h0m250 23h0m-7-11h0m-10 137h0m-175-177h0m179 156h0m-66-157h0m68 45h0m-188-42h0m128 242h0m70-156h0m-140-99h0m-131 53h0m15 212h0m250-134h0m-33-106h0m-4 202h0m-248 14h0m38 25h0m241-93h0m12-75h0m-265-50h0m-33 30h0m287-33h0m-105 238h0m112-157h0m-36-93h0m43 52h0m-69-71h0m65 94h0m-119-103h0m34 4h0m-23 268h0m58-256h0" stroke="#50ffaf"/>
<path d="M722 2952h0m-21 146h0m-123-199h0m139 165h0m-51-146h0m54 134h0m-7 26h0m-44-159h0m56 37h0m-4 87h0m-110-142h0m94 195h0m-60 60h0m84-163h0m-211-75h0m-44 25h0m177 210h0m8-10h0m55-73h0m-232 90h0m99 20h0m9-280h0m24 276h0m-13 6h0m-173-200h0m48 173h0m186-14h0m-43 32h0m-176-204h0m11 173h0m268-112h0m-8 34h0m-289 55h0m80-194h0m148 225h0m-193-197h0m186-43h0m78 104h0m-81-105h0m61 27h0m7 9h0m18 24h0m-3-4h0m-290 11h0m272-38h0m-139-38h0m70 263h0m-36-262h0m124 95h0m-46 130h0m-80-225h0m122 126h0m-8-78h0m-230 214h0m28 19h0m-24-250h0m115 250h0m52-33h0m53-64h0m-30 42h0m49-122h0m-71-91h0m-191 236h0m245-203h0m-234 208h0m152-251h0m49 224h0m42-120h0m-300-22h0m26-20h0m3 172h0m261-56h0m-259-120h0m-18 165h0m224-206h0m63 130h0m-27-119h0m-160-22h0m138 12h0m40 154h0m-162-172h0m124 227h0m46-87h0m-45 86h0m44-99h0m-32 86h0m38-152h0m-110-63h0m-19 276h0m-136-35h0m248-53h0m-123 90h0m62-269h0m64 36h0m-25-21h0m-16 212h0m-47-235h0m75 203h0m20-51h0m-200 126h0m-91-60h0m69 49h0m223-144h0m-43-102h0m55 53h0m-9 43h0m-238-84h0m-8 5h0m116 241h0m112-91h0m-94 81h0m85-234h0m-91-36h0m-62 7h0m-45 260h0m235-189h0m-40-44h0m-249 197h0m222 8h0m-50-237h0m-138 251h0m223-54h0m-74 69h0m8-260h0m35 12h0m-164 252h0m224-180h0m-20 85h0m-124-179h0m30 6h0m-180 72h0m81 200h0m199-116h0m6-108h0m-39 169h0" stroke="#60ff9f"/>
<path d="M625 2910h0m98 75h0m-55-56h0m9 4h0m-154-14h0m-89 205h0m242 2h0m-102-223h0m52 8h0m76 34h0m-253 22h0m202-45h0m-18 237h0m84-182h0m-190 204h0m190-210h0m-180-60h0m-75 232h0m151-237h0m60 26h0m-167-5h0m-74 195h0m183 46h0m2-259h0m99 115h0m-18 73h0m4-9h0m-225 67h0m160-241h0m43 21h0m-239 38h0m13 164h0m145-232h0m-125 41h0m105 231h0m40-11h0m-30 8h0m-112-232h0m-57 48h0m7 0h0m23-24h0m216-38h0m-51 238h0m-25-262h0m119 172h0m-176 106h0m-4-268h0m186 45h0m-112 213h0m-158-41h0m268-110h0m-98 145h0m68-48h0m35-154h0m2 41h0m-41 113h0m-125 62h0m-81-30h0m-10-5h0m-28-165h0m2 147h0m-4-146h0m218 166h0m-8 7h0m5-235h0m-223 199h0m212-202h0m79 55h0m-57 171h0m-170 20h0m173-237h0m35 18h0m-11-6h0m-82-30h0m4 1h0m-17-1h0m-27-2h0m61 257h0m-154-215h0m59 234h0m184-145h0m-155-131h0m-118 69h0m262-27h0m-141 234h0m-76-20h0m233-174h0m-32-46h0m-110 237h0m-9-271h0m135 174h0m-32-150h0m46 53h0m-48-54h0m-159 243h0m200-104h0m-248 74h0m149-235h0m75 206h0m-185-185h0m79-24h0m-84 261h0m167-31h0m24-192h0m-239 189h0m73 44h0m112-259h0m80 42h0m-85 203h0m71-71h0m-139 91h0m153-156h0m-1 22h0m-21 56h0m25-136h0m-62-45h0m54 32h0m-69 201h0m73-93h0m-177 117h0m-74-226h0m32 211h0m189-48h0m39-125h0m-13 76h0m0-118h0m-89-40h0m94 101h0m-168-101h0m-99 220h0m274-127h0m-127 171h0m-33 2h0m133-236h0m-151-28h0m108 10h0m-35-14h0m-174 66h0m233 152h0m-206 22h0m75 32h0m-53-20h0" stroke="#70ff8f"/>
<path d="M501 2930h0m30 241h0m180-200h0m-67 178h0m64-97h0m-115 117h0m-84-2h0m172-57h0m-212-160h0m25 211h0m-60-176h0m155-77h0m0 1h0m-42 266h0m121-47h0m-21-202h0m45 24h0m-138-41h0m-120 210h0m39 30h0m237-135h0m-267 112h0m256-39h0m-119 84h0m116-79h0m-89 73h0m2 0h0m56-36h0m-214-160h0m257 50h0m-255 114h0m-4-163h0m208 165h0m-99-226h0m151 96h0m-259-36h0m224-28h0m-107 232h0m6-2h0m-52-250h0m-4 250h0m170-64h0m-3-163h0m-101 226h0m44-15h0m32-222h0m-215 193h0m270-135h0m-83 163h0m-176-19h0m226-192h0m-7 179h0m20-171h0m-250 24h0m217 160h0m-81-225h0m-147 77h0m277 40h0m-43-91h0m-41-18h0m79 46h0m-152 210h0m88-25h0m-200-172h0m208-47h0m-170 222h0m227-89h0m-193 106h0m156-228h0m39 114h0m-147-146h0m84 17h0m-186 35h0m165 195h0m-194-166h0m268-36h0m13 14h0m-27-19h0m-224 191h0m40 24h0m206-145h0m-222 137h0m63-244h0m-57 24h0m203 17h0m-2 149h0m-37 37h0m-234-25h0m284-144h0m-198-42h0m82 241h0m-83-4h0m-49-204h0m157 200h0m91-190h0m-201 193h0m179-215h0m-61-34h0m80 164h0m-146 95h0m148-216h0m-1 112h0m-265 53h0m104 50h0m-72-27h0m-37-29h0m181-205h0m101 70h0m-191 190h0m186-194h0m-33-35h0m22 145h0m-98 78h0m-151-37h0m206-194h0m5 198h0m49-98h0m3-40h0m-284 120h0m207-193h0m29 15h0m-245 59h0m289-1h0m-9 87h0" stroke="#80ff80"/>
<path d="M512 2927h0m182 159h0m-74 71h0m75-80h0m-67-152h0m-144 226h0m100 17h0m119-193h0m-258 151h0m10-160h0m172 186h0m-20-235h0m-107 16h0m200 35h0m-280 35h0m152 166h0m118-73h0m-194 62h0m-29-203h0m216-4h0m-29 182h0m-198 1h0m109 34h0m-30 2h0m138-223h0m-59 210h0m78-198h0m-166 211h0m163-72h0m-265-94h0m129-92h0m-92 50h0m48 203h0m106-8h0m29-14h0m59-101h0m-224 108h0m-1-2h0m36-222h0m118 0h0m62 35h0m-210 189h0m151 0h0m40-34h0m-83 49h0m74-41h0m-139 45h0m-34-13h0m21 9h0m113-240h0m54 25h0m-219 188h0m18 10h0m218-179h0m-206-30h0m186 10h0m-82-36h0m110 85h0m-236-44h0m-44 157h0m-6-1h0m14 6h0m81-189h0m-48 214h0m218-42h0m-141-184h0m-22 9h0m179 143h0m-154 103h0m-95-40h0m78-211h0m95 233h0m54-198h0m-205-3h0m191-9h0m-118-27h0m-17 254h0m23-254h0m87 15h0m-127-2h0m191 108h0m-3-66h0m5 12h0m-278 15h0m278-8h0m-174 179h0m32 0h0m-2-1h0m59-244h0m83 60h0m-1 66h0m-17 49h0m-79-179h0m49 18h0m47 116h0m-12 39h0m11-57h0m-264 85h0m267-111h0m-271 105h0m195 36h0m72-150h0m-64-69h0m-194 48h0m259 59h0m0-15h0m-39-76h0m-81-36h0m-10 0h0m-85 31h0m181 179h0m-127-203h0m-69 33h0m232 31h0m-159 187h0m128-217h0m-103-40h0m88 221h0m-84 34h0m125-153h0m4-36h0m-14-20h0m-17-8h0m-68-35h0m-3 246h0m-150-189h0m227 141h0m-193 38h0m100 14h0m117-105h0m-118-146h0m-12-2h0m74 21h0m-202 45h0m254 99h0" stroke="#8fff70"/>
<path d="M603 3159h0m86-191h0m-237 7h0m9-10h0m236 95h0m-15-100h0m-82 200h0m69-43h0m-240-7h0m2-112h0m249 106h0m-222-137h0m-25 144h0m254-23h0m-130-173h0m5 1h0m-142 94h0m1 93h0m262-10h0m-113 72h0m-134-174h0m243 111h0m-198-155h0m49-25h0m95 229h0m-130 4h0m-6-213h0m150-5h0m59 107h0m-231 93h0m61 28h0m168-116h0m-5-78h0m6 15h0m-35 138h0m-212 1h0m4 2h0m70 38h0m155-205h0m-93-41h0m-155 191h0m263-59h0m-5-80h0m-33 158h0m22-23h0m-64-181h0m13 4h0m68 116h0m-8-75h0m-49 173h0m-24 11h0m-144-16h0m11-190h0m217 55h0m-178 161h0m169-77h0m-105 76h0m6-244h0m-170 92h0m132 156h0m-35-240h0m-4 3h0m-8 228h0m193-162h0m-50 140h0m-100-217h0m150 118h0m-103 124h0m81-199h0m22 50h0m-3 54h0m-76-136h0m-82-10h0m-100 194h0m258-113h0m-31-52h0m-51 204h0m59-198h0m-249 148h0m25-125h0m214-29h0m30 125h0m-40 56h0m39-50h0m-40-136h0m-7 194h0m-23 13h0m78-118h0m-129-118h0m-78 26h0m202 104h0m-133 122h0m134-163h0m-5 78h0m-218-127h0m226 58h0m-50-72h0m-7 199h0m57-151h0m-221 155h0m163-5h0m35-34h0m-160 57h0m-42-209h0m168-15h0m33 174h0m-173 45h0m99-238h0m-46-2h0m70 233h0m-19-228h0m-51 246h0m-2-2h0m109-40h0m-169 27h0m117-231h0m-42 245h0m123-194h0m-79-48h0m46 24h0m-75 215h0m48-231h0m-47-14h0m36 234h0m16-215h0m63 81h0" stroke="#9fff60"/>
<path d="M434 3107h0m0-107h0m257 66h0m-202-121h0m79-26h0m-123 69h0m60-53h0m9 224h0m-27-11h0m-48-36h0m200-170h0m-36 213h0m87-84h0m-21-109h0m20 113h0m-114-156h0m-122 57h0m11-12h0m157 185h0m57-52h0m-152-170h0m6-2h0m-110 174h0m199 48h0m-127 5h0m177-188h0m-133-42h0m152 141h0m-62-128h0m-11-1h0m-149 26h0m89-41h0m136 120h0m-174 120h0m170-98h0m-200 88h0m-53-152h0m123 167h0m-61-224h0m-54 175h0m10-138h0m212-18h0m-68 198h0m66-199h0m-129 204h0m-100-159h0m208-57h0m-223 153h0m270-113h0m-38 142h0m-44-201h0m-179 81h0m12 104h0m248-34h0m-14 24h0m-104 59h0m-33 1h0m5 0h0m102-31h0m-89 33h0m-46-7h0m-84-146h0m242-49h0m-21-14h0m-120-22h0m68-3h0m-73 237h0m-6-229h0m-48 205h0m163-199h0m61 57h0m-144-74h0m135 162h0m-161-153h0m170 126h0m-166 107h0m105-19h0m-204-129h0m247-48h0m-12-7h0m-184-7h0m215 63h0m-173-85h0m171 66h0m-5-15h0m-216 155h0m115 25h0m-137-177h0m241 74h0m-226-91h0m206 144h0m24-83h0m-129 133h0m25-2h0m-126-26h0m225-139h0m-55 147h0m55-140h0m-124-82h0m-104 211h0m211-167h0m-159 194h0m178-138h0m-33-66h0m4 168h0m12-14h0m-236 4h0m-12-10h0m58 43h0m206-119h0m-88-101h0m90 106h0m-269 68h0m202-160h0m-47-19h0m32 234h0m83-116h0m-34 85h0m21-151h0m-99-51h0m71 29h0m42 105h0m-113 105h0m-23 3h0m-68-218h0m147 194h0m-162 3h0m209-167h0m-30 152h0" stroke="#afff50"/>
<path d="M443 2996h0m26 138h0m169-186h0m-205 60h0m168-79h0m60 34h0m-241 57h0m263 58h0m-31-121h0m-122-30h0m-16 229h0m12 2h0m163-111h0m-196 100h0m-7-196h0m157 1h0m42 42h0m-34 132h0m-221-25h0m198-159h0m-154 18h0m-44 51h0m44 127h0m83 21h0m-136-64h0m253 3h0m-50 45h0m-94 17h0m116-32h0m39-59h0m2-15h0m-59 87h0m-161-175h0m162 174h0m-201-43h0m183 52h0m49-31h0m-18 14h0m-19-193h0m-187 66h0m184-67h0m-63-16h0m130 137h0m-224 71h0m98-208h0m-72 222h0m-9-189h0m10-9h0m-66 74h0m232 97h0m-77-194h0m93 180h0m3-126h0m-251 116h0m127 68h0m111-46h0m-70-187h0m76 180h0m-215 14h0m153 28h0m8-4h0m-149-179h0m-40 56h0m209 115h0m-130 15h0m156-191h0m28 65h0m-246 86h0m243-100h0m-137 147h0m-70-22h0m121-207h0m-128 32h0m215 46h0m-267 17h0m17 79h0m77-170h0m168 53h0m-145-63h0m97 20h0m-77-22h0m-60 22h0m189 109h0m-138-130h0m-114 83h0m11-16h0m213-29h0m-10-7h0m38 92h0m-151 113h0m105-26h0m-53 22h0m-120-26h0m27 18h0m184-169h0m-101 180h0m-78-216h0m184 53h0m-10-23h0m-81 183h0m88-174h0m-101-58h0m103 70h0m-17 118h0m-156-176h0m38-12h0m133 166h0m-136-166h0m67 10h0m55 33h0m-127-41h0m-14 3h0m67 226h0m12-4h0m-147-29h0m111 37h0m116-83h0m-3-83h0m-34-37h0m42 79h0m-162-105h0m97 11h0m31 16h0m-87-34h0m33 230h0m-3-1h0m-66-224h0m-35 222h0m172-48h0m-240-7h0m161-168h0" stroke="#bfff40"/>
<path d="M681 3070h0m-246 31h0m124-176h0m27 4h0m-104 26h0m191 35h0m-159-54h0m-21 11h0m171 161h0m-143-175h0m159 144h0m1-50h0m-168 126h0m63-226h0m-3 229h0m54-19h0m-127 13h0m-23-15h0m138-195h0m-13-6h0m68 160h0m5-99h0m-238 12h0m18-26h0m77 177h0m14-232h0m133 143h0m-95 85h0m-157-129h0m205-75h0m41 33h0m10 75h0m-192 85h0m16-203h0m94 210h0m19-206h0m25 15h0m17 149h0m-14 15h0m31-57h0m-12 34h0m-205 27h0m135 23h0m34-14h0m-199-117h0m237-32h0m-170 161h0m81 7h0m91-165h0m-16-24h0m-138-31h0m49-9h0m-95 205h0m-1-166h0m211 42h0m-35 116h0m31-40h0m5-62h0m-53 115h0m-48-209h0m-140 75h0m240 14h0m0 1h0m-199-62h0m198 71h0m-208 105h0m185-18h0m-142 41h0m124-24h0m45-77h0m-99-125h0m-129 192h0m188 6h0m22-149h0m14 43h0m-5-26h0m-114 163h0m60-15h0m-201-60h0m191-144h0m-47 220h0m-53-220h0m133 20h0m21 18h0m-126 181h0m100-198h0m-33-23h0m-84 218h0m140-179h0m-120 183h0m66-218h0m69 135h0m-2 14h0m-111-162h0m119 118h0m-13-57h0m-176-42h0m141 5h0m-91-25h0m73 216h0m-12 5h0m-78 9h0m154-108h0m-95 105h0m0-222h0m80 50h0m-49-37h0m-86 212h0m144-69h0m-249 4h0m-3-61h0m110-100h0m-46 22h0m-14 12h0m180 152h0m26-113h0m-255 86h0m211-133h0m7 4h0m40 77h0m-88-105h0m87 105h0" stroke="#cfff30"/>
<path d="M657 2975h0m-89-44h0m-105 194h0m213-98h0m-27 92h0m-151-171h0m177 67h0m3 53h0m-191-114h0m-56 69h0m79 127h0m-33-187h0m115 187h0m23-9h0m-174-136h0m40 130h0m190-48h0m-186-131h0m80 199h0m12-225h0m90 160h0m-214 24h0m130 38h0m32-13h0m55-141h0m-174 145h0m178-138h0m-241 90h0m52 44h0m179-155h0m-108 171h0m-22-223h0m-44 209h0m-37-153h0m207 117h0m-92 48h0m-103-28h0m207-40h0m-66-145h0m71 112h0m-197-93h0m-25 28h0m6-8h0m215 91h0m3-27h0m-62 96h0m42-161h0m-3-3h0m-24-19h0m-168 19h0m43-33h0m-70 70h0m119-82h0m41 7h0m-25-5h0m32 211h0m-33 9h0m-140-126h0m244 52h0m-254-30h0m253 34h0m-27 38h0m-94-191h0m120 73h0m-169 146h0m-46-28h0m-25-28h0m175 52h0m-188-106h0m-1 34h0m228 45h0m28-39h0m-229 32h0m10-126h0m-7 125h0m-4-108h0m-9 13h0m-6 14h0m59 111h0m40-206h0m81 10h0m65 80h0m-232 83h0m231-102h0m-253 39h0m6-9h0m18-33h0m198 122h0m-16 11h0m51-75h0m-1-14h0m-214 78h0m69 32h0m79-15h0m-30-209h0m-161 150h0m98-144h0m102 11h0m-73 208h0m-126-81h0m131 80h0m38-221h0m-145 173h0m218-122h0m-236 99h0m216-120h0m18 20h0m-195-12h0m174-10h0m-132 187h0m141-176h0m-20-19h0m-114-16h0" stroke="#dfff20"/>
<path d="M671 3018h0m-187 118h0m80 16h0m44-206h0m-59 207h0m-40-209h0m-32 22h0m46-28h0m102 195h0m-195-53h0m244-50h0m-45-67h0m-74-32h0m81 194h0m-209-48h0m74 65h0m145-169h0m-186 144h0m166-157h0m43 53h0m-221 93h0m-5-4h0m228-89h0m-203 112h0m69 26h0m85-196h0m48 61h0m5 33h0m-246-10h0m15-32h0m229 26h0m-20 77h0m-193-126h0m214 86h0m-1-46h0m-62-74h0m-184 127h0m243-55h0m-230-7h0m135-81h0m-9 217h0m58-193h0m-205 105h0m138-130h0m-43 215h0m-49-169h0m9 151h0m38-188h0m136 32h0m-201 29h0m119-68h0m-33 0h0m-40 18h0m118 185h0m34-21h0m-194-122h0m-13 26h0m-3 71h0m22-102h0m76-54h0m-92 163h0m185-137h0m44 119h0m-218 29h0m6-121h0m163-34h0m49 62h0m-205 105h0m-43-72h0m254 6h0m-18 48h0m-232-30h0m243-58h0m-77-77h0m-60 213h0m-100-123h0m172-84h0m62 146h0m-186-129h0m-13 13h0m89-42h0m-85 38h0m27-22h0m168 48h0m-21-19h0m30 65h0m-17-58h0m-18 138h0m-218-67h0m93-116h0m54 210h0m14-1h0m-157-79h0m68-117h0m13 193h0m160-64h0m-57-131h0m-83-13h0m134 56h0m-45 142h0m57-80h0m-245-16h0m99 111h0m-83-142h0m230 54h0m-19 41h0m-221-76h0m-2 4h0m3-2h0m-10 35h0m150 84h0m82-165h0m-179-18h0m-38 132h0m-16-42h0m214-89h0m-108 184h0m138-143h0m-237 31h0m10-24h0m207 100h0m-105-182h0m-51 207h0" stroke="#efff10"/>
<path d="M610 3136h0m-82 14h0m127-157h0m-2-6h0m-215 38h0m200 95h0m-46 23h0m71-135h0m1 79h0m6-42h0m-215 65h0m-23-35h0m15 24h0m53-148h0m5 191h0m127-171h0m-24-18h0m62 113h0m-237 7h0m38 50h0m63 26h0m-95-128h0m-8 26h0m125 102h0m102-55h0m-43-136h0m55 82h0m-32-66h0m-37-28h0m70 112h0m-241 7h0m-2-5h0m16-48h0m52-58h0m139 168h0m-169-142h0m-37 84h0m240-34h0m-194-60h0m93 178h0m-87-18h0m147-164h0m19 144h0m-14-138h0m-73 179h0m3-2h0m-110-152h0m83-61h0m-81 58h0m113-58h0m-42 212h0m-79-141h0m37-45h0m-55 88h0m79-103h0m37-12h0m34 4h0m91 102h0m-45 88h0m-159-9h0m121-179h0m49 35h0m-148-17h0m-51 129h0m15 18h0m215-84h0m-129 128h0m-5-211h0m132 74h0m3 62h0m-223 22h0m47 41h0m54-202h0m118 147h0m-125-145h0m27 0h0m-10-3h0m104 154h0m7-65h0m-37-53h0m26 129h0m-212-86h0m226 50h0m-239 4h0m50-103h0m6 169h0m181-63h0m-176-114h0m-15 10h0m80-32h0m-126 135h0m53 61h0m-51-53h0m35-100h0m-9 12h0m175 134h0m19-21h0m-200-105h0m5 115h0m4-125h0m170 137h0m-22-169h0m-177 79h0m162-90h0m-123 181h0m180-22h0m14-25h0m0-45h0m-13-46h0m-110-53h0m103 46h0m-124-40h0m-91 105h0m236 21h0m-231-40h0m107 124h0m73-17h0m-40 12h0m9-1h0m80-119h0m-206 90h0m126-174h0m75 61h0m-11-20h0m4 10h0m11 23h0m-191-41h0" stroke="#ffff00"/>
<path d="M649 2993h0m-209 33h0m85-83h0m132 144h0m-64 53h0m14-5h0m-120-2h0m39-191h0m134 140h0m5-12h0m-222 24h0m189-120h0m-154-3h0m-40 110h0m218-76h0m-222 45h0m55-87h0m96 180h0m-146-59h0m-3-7h0m203-94h0m-183 15h0m94 151h0m91-36h0m-205-70h0m97-102h0m109 43h0m-144 153h0m91-191h0m36 21h0m-18-12h0m-170 90h0m221-35h0m-177-42h0m170 30h0m-186 119h0m98-179h0m-80 28h0m150 155h0m-25-165h0m-121 10h0m-47 62h0m175 103h0m51-66h0m-233 5h0m58-110h0m23-13h0m42-9h0m106 85h0m3 51h0m-147 71h0m-63-39h0m3-110h0m-25 60h0m141-115h0m-133 90h0m192-55h0m23 118h0m6-71h0m-181 106h0m77-190h0m-124 125h0m156 76h0m-70 5h0m128-153h0m-214 77h0m16-60h0m-4 8h0m178 107h0m-26-175h0m66 124h0m-185-101h0m-28 33h0m-15 71h0m13 25h0m216-73h0m-125 120h0m-68-171h0m108-34h0m78 143h0m-128-145h0m121 54h0m7 17h0m-64-62h0m-157 88h0m231 22h0m-40-90h0m-101 175h0m44 0h0m34-9h0m-38-195h0m43 18h0m-41-17h0m35 13h0m-139 31h0m201 52h0m-210-36h0m160-40h0m-172 129h0m153-139h0m49 153h0m-4-120h0m25 71h0m-231 17h0m24-81h0m-20 42h0m106-96h0m-39 13h0m142 152h0m-211-22h0m28-97h0m157-15h0m-4 160h0m48-83h0m-208 64h0m14 13h0m-38-65h0m198 61h0m-48-174h0m75 134h0m-124-139h0m-39 16h0m13-6h0m154 111h0m-185 67h0m-36-107h0m94-80h0" stroke="#ffef00"/>
<path d="M584 2948h0m-5-2h0m64 159h0m-205-47h0m111 88h0m-76-26h0m164-7h0m-159-139h0m-38 61h0m214 55h0m-187-102h0m51-40h0m144 88h0m-126-93h0m105 167h0m18-88h0m-196-29h0m28-28h0m-8 6h0m172 47h0m-10-24h0m-6-7h0m-102 159h0m-98-98h0m76-99h0m114 27h0m-68 169h0m-70-14h0m-33-131h0m-17 39h0m222 16h0m-164 80h0m156-51h0m8-37h0m0 6h0m-198 61h0m74-172h0m-94 149h0m26-109h0m55 162h0m137-76h0m-98 75h0m-122-113h0m-4 37h0m119-125h0m-50 197h0m123-20h0m-134 15h0m103-178h0m47 147h0m-16-122h0m-2-4h0m-189 64h0m180 85h0m-24 10h0m-35 8h0m63-172h0m-184 107h0m29 38h0m15 12h0m42-184h0m49-1h0m64 43h0m21 54h0m-221 30h0m202 35h0m-47-154h0m55 48h0m-7-9h0m-201 84h0m87 68h0m25-202h0m-105 150h0m-7-50h0m210-37h0m-189-9h0m174 119h0m25-48h0m-8-60h0m-116 138h0m-38-185h0m131 159h0m-187-83h0m217 39h0m-20-83h0m21 40h0m-135-84h0m79 185h0m57-77h0m-69 81h0m-43-194h0m59 18h0m-64-16h0m-68 34h0m1-3h0m156 138h0m-16 13h0m-163-22h0m5 5h0m55 32h0m-73-64h0m125-135h0m-114 66h0m162-41h0m11 9h0m-35-24h0m68 75h0m-209-14h0m211 38h0m-80 90h0" stroke="#ffdf00"/>
<path d="M613 3127h0m37-114h0m-160 116h0m-37-112h0m203 9h0m2 41h0m-145 72h0m-62-44h0m127 44h0m-91-168h0m113 162h0m-30 8h0m-42-192h0m-72 151h0m-15-29h0m71 66h0m-16-174h0m163 98h0m-186-78h0m13 144h0m36 14h0m-77-60h0m165-114h0m-122 160h0m162-34h0m-187-96h0m43-41h0m19 185h0m10-194h0m-14 193h0m-62-37h0m104-156h0m52 179h0m8-150h0m-163 129h0m-2-98h0m60 132h0m98-168h0m24 26h0m-169 119h0m157-134h0m0 4h0m32 64h0m-57-89h0m52 76h0m-55-78h0m-158 86h0m214 33h0m-147-121h0m-61 132h0m-8-25h0m187 53h0m-146-143h0m172 47h0m-74-70h0m79 101h0m-215-13h0m17 64h0m-20-45h0m204-53h0m-2 98h0m16-62h0m-140-90h0m138 116h0m3-13h0m-55-91h0m-54-19h0m-49 15h0m148 135h0m-35 30h0m38-98h0m1 2h0m-33-54h0m19 24h0m-163-16h0m-35 79h0m8-35h0m27 94h0m119 13h0m41-24h0m-24 17h0m-32-174h0m-34 192h0m-73-26h0m85-173h0m-102 62h0m-11 74h0m101-137h0m-61 181h0m14 7h0m-53-95h0m203-28h0m-21 106h0m-77-170h0m47 14h0m-39 184h0m76-154h0m-193 70h0m90-111h0m39-1h0m20 7h0" stroke="#ffcf00"/>
<path d="M600 3129h0m-136-126h0m52-48h0m132 132h0m-156 41h0m15-169h0m-12 8h0m-49 73h0m147 93h0m-93-2h0m146-41h0m-199-10h0m199 7h0m9-47h0m-2-5h0m-207 43h0m6-56h0m-9 29h0m96 91h0m78-23h0m-169-87h0m0 47h0m52-115h0m22-12h0m103 163h0m30-74h0m-188-47h0m83 146h0m-19-191h0m96 39h0m-174 104h0m172 23h0m-58 25h0m-105-134h0m10 106h0m176-94h0m-193-2h0m177 92h0m18-24h0m3-49h0m0 1h0m-31-52h0m14 14h0m-182 92h0m153-122h0m47 107h0m-182-87h0m144-13h0m-171 68h0m106-93h0m96 64h0m-199 22h0m203 1h0m-17-41h0m-23 129h0m-67-175h0m-13 1h0m118 79h0m-161-58h0m18 162h0m126-142h0m-24 135h0m-19-168h0m55 58h0m-83 123h0m-66-173h0m160 78h0m-17 58h0m-160 15h0m178-70h0m-212 16h0m156-100h0m-72 175h0m108-37h0m-183-75h0m195 58h0m-91-136h0m17 3h0m79 96h0m-164-77h0m-25 136h0m114 30h0m54-144h0m17 33h0m-35 96h0m-151-16h0m124 29h0m-141-94h0m166-68h0m-49-24h0m-118 124h0m40 50h0m128-146h0m-157 36h0m159-35h0m26 122h0m-52-141h0m-132 139h0m80-149h0m105 57h0m-147 123h0m-28-132h0m47-41h0m-65 127h0m207-25h0" stroke="#ffbf00"/>
<path d="M533 2952h0m86 33h0m-79-32h0m78 30h0m-164 104h0m93-136h0m-26 6h0m106 152h0m-135-135h0m156 105h0m-23-87h0m7 6h0m-170 11h0m57 127h0m133-94h0m-1 8h0m-79 87h0m-48 0h0m-15-177h0m-41 147h0m175-17h0m7-55h0m-79 101h0m63-135h0m-181 85h0m183-82h0m-133-40h0m113 154h0m-8-145h0m43 66h0m-195 52h0m178-88h0m-29 122h0m-14-160h0m43 39h0m-115-47h0m23-6h0m-90 79h0m42 96h0m-38-38h0m82-135h0m40 3h0m58 50h0m0 95h0m4-91h0m4 9h0m-20 92h0m-19-140h0m-14 159h0m-34-179h0m91 80h0m-35 88h0m-81-165h0m94 39h0m-133 131h0m106-154h0m50 102h0m-189-60h0m-11 64h0m8-57h0m19-30h0m164 24h0m-193 45h0m16 44h0m21-121h0m82 156h0m-27 2h0m44-5h0m-55 4h0m97-147h0m27 73h0m-40-86h0m-9-7h0m-156 93h0m53 65h0m29-175h0m112 63h0m-175-17h0m181 35h0m-55-70h0m-29 173h0m-52-178h0m140 102h0m-7 25h0m7-26h0m-166-83h0m83-24h0m-118 86h0m192 53h0m-180 8h0m-12-63h0m16-34h0m87 134h0m-76-23h0m176-63h0m-186 53h0m182-38h0m-179-68h0m13-18h0m74 158h0m28-178h0m-104 156h0m-29-85h0" stroke="#ffaf00"/>
<path d="M507 2965h0m-26 151h0m21-148h0m34 168h0m-48-16h0m85 13h0m76-79h0m-12 40h0m5-71h0m-65-60h0m-100 149h0m169-35h0m-61-112h0m-128 58h0m190 16h0m-1 30h0m-3-38h0m-77 105h0m82-93h0m-9 48h0m-154 27h0m160-38h0m-126-120h0m72 9h0m-127 43h0m121 117h0m-36-174h0m-78 46h0m175 68h0m-172 41h0m35-145h0m-48 130h0m36-123h0m65 164h0m-106-107h0m-5 43h0m106 63h0m78-127h0m5 11h0m-75-62h0m-106 134h0m179-3h0m4-4h0m-176-77h0m176 25h0m-192 19h0m94 86h0m90-41h0m-24-116h0m-142 24h0m157-9h0m-52-37h0m58 142h0m-14-113h0m-92 148h0m119-60h0m-33 43h0m12-120h0m-74-43h0m13 0h0m85 96h0m-192-22h0m13-23h0m181 47h0m-127 80h0m78-160h0m48 89h0m-133 70h0m20-175h0m-85 95h0m117-94h0m-111 127h0m121 47h0m-114-115h0m158-26h0m-14 129h0m-132-11h0m119 18h0m-112-13h0m-29-72h0m96-86h0m47 14h0m-144 97h0m63-105h0m97 154h0m-18-146h0m52 75h0m-24 66h0m0-115h0m7 6h0m-124 125h0m108-144h0m-9 138h0m30-109h0m-184 51h0m1-19h0m188-24h0m-114-61h0m-66 128h0m8 15h0m10-111h0m9-10h0m-7 7h0m20-17h0" stroke="#ff9f00"/>
<path d="M591 3125h0m-105-9h0m114-140h0m-7-3h0m-114 137h0m40-146h0m-26 14h0m152 86h0m-75 68h0m16-5h0m56-89h0m-96 96h0m-49-13h0m24 10h0m119-102h0m-151 87h0m104 7h0m-89 2h0m129-110h0m9 49h0m-13-54h0m11 69h0m-79-120h0m11 2h0m45 31h0m-101 137h0m-63-77h0m30-64h0m17-15h0m-37 50h0m4 75h0m3 1h0m64 35h0m96-36h0m-139-116h0m117 3h0m-104-14h0m99 8h0m-47 156h0m-73-148h0m-18 107h0m172-69h0m-66-63h0m56 138h0m-172-50h0m96-93h0m-63 27h0m-31 98h0m126-115h0m10 157h0m-12-158h0m-116 48h0m139-31h0m-23 146h0m5-159h0m-128 109h0m152 37h0m-79-156h0m11-3h0m-86 80h0m185 41h0m-185-36h0m117-77h0m65 121h0m-171-75h0m158 94h0m-3-107h0m-130-17h0m-5 5h0m-4 3h0m85-27h0m-109 65h0m93 107h0m83-42h0m8-46h0m-190 9h0m81-97h0m64 17h0m36 41h0m-129 110h0m134-95h0m-186 35h0m112 65h0m38-12h0m-58-160h0m100 93h0m-139-83h0m140 85h0m-62-85h0m-16 163h0m57-129h0m-7 106h0m-7-120h0m-157 84h0m-1-15h0m142-82h0m-37-17h0m-39 171h0m30-171h0m-38 7h0m94 152h0m-130-121h0m15 122h0m21 9h0" stroke="#ff8f00"/>
<path d="M486 2989h0m154 51h0m-89 91h0m57-17h0m-135-12h0m0-96h0m76 126h0m-43-159h0m82 152h0m-79-154h0m72-2h0m58 72h0m-41 79h0m-126-23h0m166-63h0m-139 86h0m-38-83h0m154 73h0m-81 22h0m-30-157h0m137 85h0m-67-95h0m61 61h0m-103-64h0m50 10h0m-102 137h0m91-143h0m-106 124h0m172-50h0m-173-18h0m28-38h0m-26 33h0m43-44h0m113 32h0m-128 112h0m-9-127h0m144 103h0m-153-93h0m159 30h0m-178 23h0m165 50h0m-96 27h0m-55-119h0m153-4h0m-8 100h0m-5 3h0m29-40h0m-70 59h0m-90-129h0m148 15h0m-146-22h0m134 3h0m-156 84h0m116 48h0m6-3h0m-125-83h0m166 60h0m-112-131h0m49 160h0m-72-17h0m-29-68h0m104-83h0m-46 164h0m114-109h0m-122 108h0m-44-106h0m100-57h0m70 66h0m-167 66h0m163-5h0m-175-25h0m3 13h0m167 21h0m-89-137h0m78 33h0m-12 121h0m-141-81h0m92-72h0m86 106h0m1-21h0m-128-77h0m-24 16h0m107-8h0m6 4h0m-80-18h0m31 166h0m39-10h0m-34-158h0m-102 99h0m162-61h0m-73-41h0m20 170h0m72-54h0m-174-48h0m173 56h0m-21-87h0m26 61h0m-113-93h0m99 51h0m8 64h0m2-46h0" stroke="#ff8000"/>
<path d="M475 3010h0m156 76h0m-133 32h0m-37-78h0m177 17h0m-26-61h0m1 3h0m-23-20h0m9 138h0m28-98h0m-27-34h0m-141 74h0m160 41h0m-159-56h0m11 52h0m154-80h0m2 2h0m11 30h0m-130 73h0m-43-38h0m24 30h0m41 16h0m-42-16h0m37 14h0m112-57h0m-7-43h0m8 29h0m-163-45h0m51-43h0m-30 15h0m99 136h0m-119-20h0m5 7h0m20 12h0m-32-27h0m-7-55h0m75-69h0m81 37h0m-69-40h0m-51 17h0m114 126h0m-94-138h0m-35 26h0m146 95h0m-25-100h0m34 64h0m-54-79h0m-123 65h0m4 43h0m117 41h0m-96-129h0m124 0h0m-149 59h0m42-76h0m30 151h0m-46-20h0m58-144h0m75 44h0m-157 63h0m74-106h0m-71 59h0m-5 34h0m175-6h0m0 17h0m-71-104h0m68 113h0m-33-93h0m-79-15h0m-39 29h0m31-26h0m122 63h0m-11 56h0m-25 22h0m-14-140h0m-124 93h0m143 43h0m21-91h0m-64 108h0m29-147h0m-19-13h0m-6 161h0m65-101h0m1 2h0m-167 5h0m76 94h0m35-3h0m33-132h0m-138 22h0m84-51h0m-71 143h0m133-104h0m7 94h0m12-24h0m-14-61h0m-121-32h0m-37 54h0m5-8h0m3-9h0m7 84h0m52-134h0m-14 157h0m91-133h0m-91-20h0m-47 50h0" stroke="#ff7000"/>
<path d="M569 3126h0m-85-127h0m139 18h0m-160 31h0m165-20h0m-129 88h0m-28-95h0m95 105h0m-44-154h0m-8 150h0m95-15h0m15-15h0m-148 5h0m27 20h0m131-72h0m-146-49h0m51 132h0m-61-120h0m48-38h0m52 5h0m-68 2h0m106 124h0m-111-121h0m91 6h0m-13-8h0m-14-7h0m-48 154h0m110-46h0m-95 47h0m72-19h0m-93-131h0m-23 14h0m88-11h0m-111 107h0m-5-10h0m169-34h0m-16 58h0m18-43h0m-126 62h0m7 4h0m107-100h0m-53 101h0m-106-83h0m-1 19h0m164-28h0m-117 88h0m96-13h0m-137-23h0m14-83h0m108 117h0m-102-8h0m41-141h0m18-1h0m69 43h0m-116 106h0m-36-74h0m1 36h0m72-111h0m27 157h0m34-134h0m-123 22h0m111-32h0m-28-12h0m-28 157h0m92-38h0m10-13h0m-165-46h0m111-52h0m55 83h0m-100 66h0m-72-74h0m36 62h0m-34-55h0m43-80h0m-42 77h0m168-3h0m-83-86h0m-54 145h0m73-139h0m-68 143h0m103-5h0m-124-106h0m151 38h0m-152-36h0m22-23h0m90 134h0m-109-115h0m87-31h0m-79 23h0m-20 90h0m145 14h0m-26-115h0m-38 143h0m73-104h0m-156 9h0m132 79h0m12-109h0m17 35h0m-20-38h0m22 69h0m2 4h0m-149 34h0m-12-16h0m102 33h0" stroke="#ff6000"/>
<path d="M475 3019h0m145 69h0m-115 27h0m-8-4h0m-10-6h0m-13-15h0m37-110h0m23-9h0m5 154h0m-62-107h0m118 96h0m-14-132h0m27 121h0m-11-111h0m31 45h0m-8-17h0m-30 95h0m-28 9h0m18-142h0m-12-8h0m-102 99h0m73-100h0m-67 52h0m88 98h0m-91-89h0m113-51h0m6 133h0m-121-44h0m41-90h0m8-4h0m9-5h0m2 2h0m32 150h0m-4-154h0m-48 14h0m64 137h0m-59-3h0m-17-9h0m129-78h0m-157 25h0m17-51h0m49-33h0m97 81h0m-164-3h0m13-37h0m49 110h0m27-152h0m57 37h0m18 40h0m-15-37h0m-135 86h0m24 17h0m13 4h0m57-142h0m29 132h0m-48-136h0m-89 74h0m2-7h0m95-66h0m55 120h0m12-22h0m-105-96h0m79 24h0m-102-14h0m89 128h0m15-9h0m-7-109h0m32 54h0m-86 74h0m85-63h0m-133-70h0m-26 90h0m47-104h0m108 103h0m-35-92h0m28 34h0m-132-21h0m40-25h0m30-2h0m-92 87h0m140 45h0m-118-3h0m139-67h0m-99 88h0m-55-97h0m157 13h0" stroke="#ff5000"/>
<path d="M627 3052h0m-123-63h0m28 133h0m71-119h0m-134 65h0m147-48h0m9 24h0m-103-65h0m-47 101h0m36-96h0m85 124h0m31-61h0m-159 15h0m135 42h0m-107-109h0m76-15h0m47 107h0m-140-67h0m45-41h0m-49 49h0m46 92h0m26-145h0m75 61h0m-134 65h0m13 8h0m86 4h0m39-55h0m-142-48h0m-1 2h0m4 88h0m11-104h0m43 125h0m44-134h0m-116 72h0m149 31h0m-48-111h0m-57 4h0m-43 71h0m106 64h0m-70-130h0m120 64h0m-97-75h0m67 19h0m22 92h0m-140 3h0m44 29h0m87-111h0m-8-6h0m-53 118h0m74-41h0m-133-79h0m121 98h0m-141-53h0m113 70h0m40-78h0m-90-60h0m-55 110h0m134-76h0m-56-37h0m53 124h0m19-30h0m-13 24h0m-79 29h0m84-38h0m-77-110h0m-65 50h0m-7 28h0m152 25h0m-31-85h0m-82 124h0m-17-10h0m30 12h0m-8-134h0m97 111h0m-31-110h0m-5 132h0m44-92h0m-13-20h0m-132 25h0m141 61h0m-144-19h0m0-33h0m3-1h0m90-61h0m-61 13h0m109 25h0m-77-40h0m33 145h0m58-70h0m-79-75h0m64 38h0m-93-30h0" stroke="#ff4000"/>
<path d="M618 3030h0m-94 87h0m-52-48h0m24-68h0m118 26h0m-77-48h0m1-1h0m67 121h0m19-34h0m-99-84h0m65 127h0m2-110h0m-106 14h0m-7 11h0m60-45h0m56 23h0m-122 43h0m58 76h0m-59-67h0m131 47h0m-4 4h0m-4 1h0m-30 12h0m-91-40h0m57-98h0m73 32h0m-3-5h0m-30-22h0m-7 135h0m2-138h0m-64 127h0m-26-27h0m98 35h0m-44-134h0m29 137h0m60-40h0m-145-2h0m7 10h0m-9-25h0m39 51h0m2-127h0m-39 55h0m71-63h0m76 97h0m-103-89h0m52-3h0m-80 26h0m133 45h0m-26 50h0m-26-117h0m45 41h0m-49-44h0m43 110h0m-127-75h0m141 44h0m-37-69h0m-45 126h0m-44-123h0m123 49h0m-43 68h0m-101-84h0m23-35h0m116 91h0m-125 15h0m3 2h0m51-122h0m75 97h0m-147-7h0m108-80h0m-109 73h0m35 48h0m117-56h0m-23 44h0m-85 15h0m-30-18h0m136-26h0m-148-23h0m82 72h0m19-5h0m47-65h0m-102-66h0m77 21h0m24 66h0m-73 48h0m-74-59h0m146-20h0m-132 57h0m39 22h0m-50-80h0m73 81h0m-66-105h0m79 103h0m-10-140h0" stroke="#ff3000"/>
<path d="M594 3104h0m-118-34h0m17 29h0m122-65h0m-68 84h0m-63-30h0m83 27h0m39-22h0m12-29h0m-118 41h0m-16-84h0m-1 65h0m-1-3h0m40-97h0m36-2h0m38 21h0m-99 97h0m6 5h0m116-58h0m-6 36h0m3-48h0m-139 4h0m117-36h0m-82-13h0m33-11h0m-59 108h0m130-9h0m-126 14h0m98-96h0m-3 110h0m-51-126h0m-57 71h0m29-55h0m87 106h0m-10 6h0m-94-96h0m103-10h0m-105 14h0m-5 10h0m136 46h0m-127-59h0m1 83h0m112-79h0m-24 92h0m17-102h0m-76-22h0m46 0h0m-58 7h0m-10 8h0m112 23h0m6 15h0m-12-18h0m-129 36h0m30 49h0m84-3h0m-9-110h0m-71 114h0m106-70h0m-12 55h0m-127-49h0m1 33h0m99-86h0m-34-9h0m-17 134h0m29-132h0m11 130h0m52-54h0m-6-30h0m-33-35h0m-35 123h0m-69-54h0m4 17h0m2-50h0m130 0h0m-82 85h0m63-14h0m-107-79h0m132 26h0m-41-57h0m-55 121h0m9-128h0m68 113h0m-74 15h0" stroke="#ff2000"/>
<path d="M509 2997h0m35-10h0m-65 85h0m74-86h0m53 40h0m-47-39h0m-50 119h0m10 5h0m9 3h0m84-34h0m-94-87h0m49-3h0m-72 106h0m120-33h0m-58-77h0m29 16h0m-34 112h0m-73-58h0m-1 9h0m132-33h0m-6-5h0m-125 40h0m137-12h0m-14 38h0m-81 19h0m86-25h0m-106-83h0m94 9h0m-103 81h0m123-21h0m-135-29h0m40-50h0m-9 112h0m-28-24h0m36 27h0m-40-41h0m81 45h0m35-15h0m-97-91h0m116 48h0m-6-25h0m-119 58h0m43-102h0m-47 49h0m10-23h0m65-24h0m-37 5h0m17 123h0m69-31h0m-21 18h0m-108-37h0m46-77h0m41 1h0m-31 125h0m30-2h0m-17-125h0m-63 96h0m15-78h0m52-19h0m28 13h0m-7-4h0m0 115h0m41-62h0m-85 65h0m-51-65h0m85-59h0m-73 27h0m-5 11h0m-6 35h0m21 39h0m-3-92h0m116 41h0m-25-46h0m-66-14h0m89 48h0m-91 70h0m84-78h0m-49 83h0m42-99h0m12 20h0" stroke="#ff1000"/>
<path d="M609 3078h0m-15 17h0m-47-105h0m-49 25h0m-10 14h0m63 82h0m-63-30h0m100-73h0m0 91h0m-93-82h0m14 85h0m58 8h0m-12 3h0m-66-84h0m43-38h0m-21 9h0m62 108h0m-68-9h0m-22-51h0m125 29h0m-22 25h0m-13-104h0m39 67h0m-130-15h0m34-53h0m61 108h0m34-50h0m-90 53h0m-10-106h0m6-2h0m47-7h0m-70 27h0m107 70h0m9-22h0m-45-73h0m-80 81h0m71-85h0m-8-2h0m-43 16h0m3 95h0m-2-1h0m106-37h0m-17-44h0m14 24h0m3 8h0m-70 62h0m64-79h0m4 23h0m-91 50h0m12-113h0m60 102h0m-34-104h0m30 107h0m23-41h0m-97-55h0m-30 67h0m78-76h0m40 94h0m-111-2h0m-8-33h0m34 53h0m-32-63h0m122-7h0m-41 73h0m46-43h0m-126-28h0m121 46h0m-21-77h0m17 22h0m-36-32h0m-34-4h0m73 90h0m-14-69h0m-53-21h0m-41 103h0m82-94h0m-34-10h0m-63 70h0m51 51h0m52-103h0m20 70h0m-118-1h0m14 19h0m109-53h0m-87-50h0m14 117h0" stroke="#ff0000"/>
<path d="M500 3017h0m102 64h0m-9 11h0m-102-61h0m109 51h0m-112-40h0m119 24h0m-56-72h0m1 116h0m41-87h0m-1 70h0m-106-45h0m77-50h0m-46 5h0m-31 67h0m74-72h0m-6 112h0m12-111h0m-46 106h0m23 5h0m-23-110h0m2 105h0m-37-55h0m115-18h0m-76 74h0m82-33h0m-20-61h0m5 5h0m-98 14h0m6-13h0m99 66h0m-107-6h0m116-30h0m-65 60h0m30-107h0m-84 43h0m99 54h0m-40-104h0m16 112h0m46-44h0m-1-5h0m-21-43h0m-4-5h0m-57-12h0m28 111h0m-63-75h0m5 54h0m87-74h0m-46 95h0m-46-28h0m96 16h0m18-27h0m-111 12h0m27-79h0m64 14h0m-70 86h0m80-13h0m-92-76h0m3 84h0m22-101h0m-41 56h0m82-49h0m-84 53h0m61-62h0m-9 115h0m56-88h0m-83-13h0m33-15h0m33 110h0m4-3h0m-25-104h0m-55 98h0m33-99h0m-34 92h0m76-81h0m-88 62h0m7-42h0m107 8h0m-100 58h0m70 13h0m3-4h0m-71-87h0m102 30h0" stroke="#ef0000"/>
<path d="M529 3105h0m40-100h0m-56 93h0m-10-79h0m-9 16h0m85 62h0m-58 5h0m73-16h0m-35-85h0m-5 104h0m-51-86h0m6-7h0m86 19h0m-106 27h0m84-50h0m28 35h0m-111 1h0m63 63h0m-14-108h0m-50 52h0m77-47h0m-76 64h0m100-44h0m-7 71h0m-56 6h0m51-6h0m-47 10h0m-1-1h0m1-104h0m69 44h0m-52 63h0m-57-44h0m104-30h0m-67 69h0m-32-21h0m45 25h0m3-105h0m59 47h0m-68-49h0m-30 94h0m75-80h0m-87 59h0m0-2h0m110-6h0m-114-13h0m33-47h0m-9 6h0m13-8h0m74 76h0m-27 22h0m-44-95h0m48 8h0m-87 50h0m9-39h0m-5 12h0m82-21h0m-73 9h0m24-18h0m-26 84h0m88-3h0m-85-63h0m99 36h0m-16-39h0m12 21h0m-109 7h0m6 32h0m15 14h0m88-18h0m-39-76h0m6 103h0m36-46h0m-1 4h0m-9 24h0m-6 5h0m7-6h0m-23-80h0m-5 99h0m15-86h0m-38-19h0m-4 2h0m14 1h0m-51 82h0m20-76h0m-13 5h0" stroke="#df0000"/>
<path d="M515 3095h0m72-7h0m-13 9h0m19-17h0m-96-41h0m49 63h0m-34-10h0m22 9h0m-18-86h0m-19 60h0m22-62h0m-16 18h0m91 7h0m-100 6h0m96-12h0m-18-19h0m-38-8h0m40 9h0m18 68h0m-43 21h0m47-30h0m1-4h0m-39 32h0m-53-15h0m-13-31h0m88-35h0m-75 9h0m-12 35h0m85 29h0m-79-14h0m53-76h0m-58 65h0m29-60h0m53 85h0m-9-83h0m-8-4h0m-65 42h0m5 27h0m22 22h0m69-12h0m-21 12h0m-69-16h0m83-56h0m16 41h0m-36-56h0m-67 34h0m2 26h0m11-51h0m85 52h0m-95-34h0m72-20h0m-16 84h0m-50-71h0m94 30h0m-59-57h0m56 63h0m-86 24h0m39-87h0m17 97h0m-60-76h0m-11 30h0m103-3h0m-102-6h0m68-33h0m35 43h0m-75 44h0m-29-44h0m93 29h0m-92-28h0m43-52h0m-32 24h0m81 0h0m-75-10h0m-14 23h0m96 13h0m-62-46h0m62 34h0m-67 57h0m39-85h0" stroke="#cf0000"/>
<path d="M592 3071h0m-91 3h0m41 26h0m-22-84h0m-4 5h0m-19 38h0m95 11h0m-74-49h0m-18 22h0m-1 9h0m3-16h0m91 28h0m-40-54h0m27 17h0m-50 71h0m-26-65h0m-2 42h0m-5-11h0m40 35h0m29-84h0m7 76h0m-63-65h0m54 70h0m-47-4h0m68-9h0m-83-43h0m72-19h0m-75 24h0m6 36h0m-8-27h0m82 33h0m-69-1h0m73-4h0m-59 13h0m44-74h0m12 8h0m5 4h0m4 9h0m-18-19h0m-13-12h0m-52 19h0m31 68h0m-35-54h0m77 41h0m-74-9h0m40-66h0m21 85h0m-5-83h0m-61 58h0m88-25h0m-85-8h0m30 61h0m55-18h0m1-5h0m5-16h0m-13-27h0m9 42h0m-86-36h0m48 61h0m-54-37h0m16-35h0m-15 31h0m32-47h0m6-1h0m-24 78h0m11 5h0m-2-78h0m-12 69h0m59 6h0m22-41h0m-1 22h0m-28-54h0m-25-7h0m-3 2h0m59 47h0" stroke="#bf0000"/>
<path d="M537 3094h0m16 1h0m4-77h0m-45 64h0m30-68h0m-39 36h0m72-21h0m5 53h0m-56-63h0m-19 52h0m82-9h0m-2-15h0m-69-19h0m-5 4h0m-3 4h0m13-11h0m66 44h0m-4 8h0m-77-36h0m81 14h0m-82 13h0m82 0h0m-22-47h0m14 13h0m-18 60h0m-43-7h0m2-60h0m-1 59h0m68-22h0m-83 1h0m35 29h0m47-26h0m-74-37h0m5-1h0m-15 29h0m75-24h0m-15 56h0m-55-52h0m8-7h0m21 60h0m-31-51h0m4-1h0m30 53h0m25-70h0m-54 17h0m72 40h0m-76-15h0m22-47h0m41 6h0m-57 55h0m13 13h0m55-18h0m-54-55h0m27 0h0m-31 70h0m23 7h0m-36-19h0m73-4h0m-15 15h0m-41 2h0m16-74h0m-35 42h0m42 38h0m-7-4h0m7-77h0m24 73h0m-31-69h0m-14 70h0m30-68h0m15 11h0m-27 60h0m35-54h0m-31 53h0m-21-1h0m45-53h0m-40 53h0m31-63h0m-63 26h0m5-8h0m79 4h0m-53-28h0m15 0h0" stroke="#af0000"/>
<path d="M522 3030h0m44 56h0m-37 2h0m-15-12h0m68-14h0m-2-11h0m-9 31h0m-38-59h0m47 49h0m-55-43h0m49 9h0m-52 47h0m-3-4h0m-11-29h0m3 21h0m59-39h0m11 25h0m-43-37h0m4 68h0m24-60h0m15 27h0m-47-34h0m-6 3h0m42 58h0m-46 1h0m37 2h0m-1-60h0m20 27h0m-4 22h0m4-19h0m-47 32h0m-22-48h0m16-12h0m-13 10h0m62 8h0m-47 39h0m19 5h0m-20-62h0m-8 49h0m45-43h0m-3 51h0m-52-19h0m-2-8h0m56-28h0m9 47h0m-63-29h0m3 7h0m-2-14h0m16 45h0m29-59h0m-33 53h0m52-39h0m2 29h0m-30-49h0m-4 0h0m38 45h0m-30-40h0m26 19h0m-44-16h0m33 52h0" stroke="#9f0000"/>
<path d="M553 3032h0m20 20h0m-51 25h0m45 0h0m-24-47h0m-13 2h0m9 53h0m-15-49h0m49 31h0m-17 16h0m-39-18h0m3 11h0m53-19h0m-1-6h0m-26-19h0m-17 50h0m-3-4h0m43-14h0m-23 21h0m-14-53h0m-17 23h0m26-24h0m8 54h0m-14 0h0m-18-18h0m5-29h0m38 41h0m-3-44h0m-7-1h0m-12 1h0m-18 37h0m52-16h0m-34 29h0m27-8h0m-46-34h0m-2 19h0m51 4h0m-52-16h0m15 30h0m4 0h0m16 3h0m-32-41h0m13-4h0m11 46h0m19-7h0m7-27h0m-49 18h0m50-22h0m-23-13h0m17 6h0m-23 39h0m6-41h0m20 23h0m-1 6h0m-18 15h0m20-10h0m-50-13h0m32-21h0m20 11h0m-11-9h0" stroke="#8f0000"/>
<path d="M564 3057h0m-8 18h0m-1 1h0m8-23h0m-31-12h0m18 0h0m11 19h0m-25-18h0m20 3h0m-20 30h0m25-5h0m-30 5h0m32-21h0m-28-11h0m1 31h0m-4-3h0m15 6h0m-17-8h0m14-30h0m11 35h0m-2-30h0m8 22h0m-32-20h0m31 22h0m-36-2h0m36-10h0m-34-6h0m21 24h0m-13-5h0m-11-9h0m16 15h0m-8-14h0m8-18h0m20 5h0m-26 0h0m24-1h0m-18 28h0m-15-15h0m29 10h0m7 1h0m-23-6h0m23 6h0m-8-27h0m-5 19h0m10-4h0m0 11h0m-25-18h0" stroke="#800000"/></g>
</g>
<line x1="209.5" y1="1554.8" x2="1827.5" y2="489.4" stroke="#000" stroke-width="3.6"/>
<line x1="209.5" y1="1591.2" x2="1827.5" y2="51.1" stroke="#000" stroke-width="3.6" stroke-dasharray="16.5 16.08"/>
<rect x="209.5" y="51.1" width="1618.0" height="1540.1000000000001" fill="none" stroke="#262626" stroke-width="4"/>
<path d="M209.5 1591.2v-17M209.5 51.1v17M209.5 1591.2h17M1827.5 1591.2h-17M479.2 1591.2v-17M479.2 51.1v17M209.5 1334.5h17M1827.5 1334.5h-17M748.8 1591.2v-17M748.8 51.1v17M209.5 1077.8h17M1827.5 1077.8h-17M1018.5 1591.2v-17M1018.5 51.1v17M209.5 821.2h17M1827.5 821.2h-17M1288.2 1591.2v-17M1288.2 51.1v17M209.5 564.5h17M1827.5 564.5h-17M1557.8 1591.2v-17M1557.8 51.1v17M209.5 307.8h17M1827.5 307.8h-17M1827.5 1591.2v-17M1827.5 51.1v17M209.5 51.1h17M1827.5 51.1h-17" stroke="#262626" stroke-width="4" fill="none"/>
<text transform="translate(208.7 1670.8) scale(1 1.05)" text-anchor="middle" style="font-family:'Liberation Sans',Arial,sans-serif;font-size:57px" fill="#262626">0</text>
<text transform="translate(187.5 1612.4) scale(1 1.05)" text-anchor="end" style="font-family:'Liberation Sans',Arial,sans-serif;font-size:57px" fill="#262626">0</text>
<text transform="translate(478.4 1670.8) scale(1 1.05)" text-anchor="middle" style="font-family:'Liberation Sans',Arial,sans-serif;font-size:57px" fill="#262626">0.5</text>
<text transform="translate(187.5 1355.7) scale(1 1.05)" text-anchor="end" style="font-family:'Liberation Sans',Arial,sans-serif;font-size:57px" fill="#262626">0.5</text>
<text transform="translate(748.0 1670.8) scale(1 1.05)" text-anchor="middle" style="font-family:'Liberation Sans',Arial,sans-serif;font-size:57px" fill="#262626">1</text>
<text transform="translate(187.5 1099.0) scale(1 1.05)" text-anchor="end" style="font-family:'Liberation Sans',Arial,sans-serif;font-size:57px" fill="#262626">1</text>
<text transform="translate(1017.7 1670.8) scale(1 1.05)" text-anchor="middle" style="font-family:'Liberation Sans',Arial,sans-serif;font-size:57px" fill="#262626">1.5</text>
<text transform="translate(187.5 842.4) scale(1 1.05)" text-anchor="end" style="font-family:'Liberation Sans',Arial,sans-serif;font-size:57px" fill="#262626">1.5</text>
<text transform="translate(1287.4 1670.8) scale(1 1.05)" text-anchor="middle" style="font-family:'Liberation Sans',Arial,sans-serif;font-size:57px" fill="#262626">2</text>
<text transform="translate(187.5 585.7) scale(1 1.05)" text-anchor="end" style="font-family:'Liberation Sans',Arial,sans-serif;font-size:57px" fill="#262626">2</text>
<text transform="translate(1557.0 1670.8) scale(1 1.05)" text-anchor="middle" style="font-family:'Liberation Sans',Arial,sans-serif;font-size:57px" fill="#262626">2.5</text>
<text transform="translate(187.5 329.0) scale(1 1.05)" text-anchor="end" style="font-family:'Liberation Sans',Arial,sans-serif;font-size:57px" fill="#262626">2.5</text>
<text transform="translate(1826.7 1670.8) scale(1 1.05)" text-anchor="middle" style="font-family:'Liberation Sans',Arial,sans-serif;font-size:57px" fill="#262626">3</text>
<text transform="translate(187.5 72.3) scale(1 1.05)" text-anchor="end" style="font-family:'Liberation Sans',Arial,sans-serif;font-size:57px" fill="#262626">3</text>
<text x="1018.5" y="1750.7" text-anchor="middle" style="font-family:'Liberation Sans',Arial,sans-serif;font-size:63px" fill="#262626">AERONET AOD (500nm)</text>
<text transform="translate(76.4 821.1) rotate(-90)" x="0" y="0" text-anchor="middle" style="font-family:'Liberation Sans',Arial,sans-serif;font-size:63px" fill="#262626">AHI AOD (500nm)</text>
<text x="287" y="166.6" style="font-family:'Liberation Sans',Arial,sans-serif;font-size:57px" fill="#000">y-intercept = 0.07</text>
<text x="287" y="243.6" style="font-family:'Liberation Sans',Arial,sans-serif;font-size:57px" fill="#000">Slope = 0.69</text>
<text x="287" y="320.6" style="font-family:'Liberation Sans',Arial,sans-serif;font-size:57px" fill="#000">R = 0.82</text>
<text x="1450" y="1470.3" style="font-family:'Liberation Sans',Arial,sans-serif;font-size:57px" fill="#000">N = 23359</text>
<text x="1450" y="1547.9" style="font-family:'Liberation Sans',Arial,sans-serif;font-size:57px" fill="#000">RMSE = 0.16</text>
<rect x="1904.3" y="1567.41" width="112.2" height="24.69" fill="rgb(0,0,143)"/>
<rect x="1904.3" y="1543.31" width="112.2" height="24.69" fill="rgb(0,0,159)"/>
<rect x="1904.3" y="1519.22" width="112.2" height="24.69" fill="rgb(0,0,175)"/>
<rect x="1904.3" y="1495.12" width="112.2" height="24.69" fill="rgb(0,0,191)"/>
<rect x="1904.3" y="1471.03" width="112.2" height="24.69" fill="rgb(0,0,207)"/>
<rect x="1904.3" y="1446.94" width="112.2" height="24.69" fill="rgb(0,0,223)"/>
<rect x="1904.3" y="1422.84" width="112.2" height="24.69" fill="rgb(0,0,239)"/>
<rect x="1904.3" y="1398.75" width="112.2" height="24.69" fill="rgb(0,0,255)"/>
<rect x="1904.3" y="1374.66" width="112.2" height="24.69" fill="rgb(0,16,255)"/>
<rect x="1904.3" y="1350.56" width="112.2" height="24.69" fill="rgb(0,32,255)"/>
<rect x="1904.3" y="1326.47" width="112.2" height="24.69" fill="rgb(0,48,255)"/>
<rect x="1904.3" y="1302.38" width="112.2" height="24.69" fill="rgb(0,64,255)"/>
<rect x="1904.3" y="1278.28" width="112.2" height="24.69" fill="rgb(0,80,255)"/>
<rect x="1904.3" y="1254.19" width="112.2" height="24.69" fill="rgb(0,96,255)"/>
<rect x="1904.3" y="1230.09" width="112.2" height="24.69" fill="rgb(0,112,255)"/>
<rect x="1904.3" y="1206.00" width="112.2" height="24.69" fill="rgb(0,128,255)"/>
<rect x="1904.3" y="1181.91" width="112.2" height="24.69" fill="rgb(0,143,255)"/>
<rect x="1904.3" y="1157.81" width="112.2" height="24.69" fill="rgb(0,159,255)"/>
<rect x="1904.3" y="1133.72" width="112.2" height="24.69" fill="rgb(0,175,255)"/>
<rect x="1904.3" y="1109.62" width="112.2" height="24.69" fill="rgb(0,191,255)"/>
<rect x="1904.3" y="1085.53" width="112.2" height="24.69" fill="rgb(0,207,255)"/>
<rect x="1904.3" y="1061.44" width="112.2" height="24.69" fill="rgb(0,223,255)"/>
<rect x="1904.3" y="1037.34" width="112.2" height="24.69" fill="rgb(0,239,255)"/>
<rect x="1904.3" y="1013.25" width="112.2" height="24.69" fill="rgb(0,255,255)"/>
<rect x="1904.3" y="989.16" width="112.2" height="24.69" fill="rgb(16,255,239)"/>
<rect x="1904.3" y="965.06" width="112.2" height="24.69" fill="rgb(32,255,223)"/>
<rect x="1904.3" y="940.97" width="112.2" height="24.69" fill="rgb(48,255,207)"/>
<rect x="1904.3" y="916.88" width="112.2" height="24.69" fill="rgb(64,255,191)"/>
<rect x="1904.3" y="892.78" width="112.2" height="24.69" fill="rgb(80,255,175)"/>
<rect x="1904.3" y="868.69" width="112.2" height="24.69" fill="rgb(96,255,159)"/>
<rect x="1904.3" y="844.59" width="112.2" height="24.69" fill="rgb(112,255,143)"/>
<rect x="1904.3" y="820.50" width="112.2" height="24.69" fill="rgb(128,255,128)"/>
<rect x="1904.3" y="796.41" width="112.2" height="24.69" fill="rgb(143,255,112)"/>
<rect x="1904.3" y="772.31" width="112.2" height="24.69" fill="rgb(159,255,96)"/>
<rect x="1904.3" y="748.22" width="112.2" height="24.69" fill="rgb(175,255,80)"/>
<rect x="1904.3" y="724.12" width="112.2" height="24.69" fill="rgb(191,255,64)"/>
<rect x="1904.3" y="700.03" width="112.2" height="24.69" fill="rgb(207,255,48)"/>
<rect x="1904.3" y="675.94" width="112.2" height="24.69" fill="rgb(223,255,32)"/>
<rect x="1904.3" y="651.84" width="112.2" height="24.69" fill="rgb(239,255,16)"/>
<rect x="1904.3" y="627.75" width="112.2" height="24.69" fill="rgb(255,255,0)"/>
<rect x="1904.3" y="603.66" width="112.2" height="24.69" fill="rgb(255,239,0)"/>
<rect x="1904.3" y="579.56" width="112.2" height="24.69" fill="rgb(255,223,0)"/>
<rect x="1904.3" y="555.47" width="112.2" height="24.69" fill="rgb(255,207,0)"/>
<rect x="1904.3" y="531.38" width="112.2" height="24.69" fill="rgb(255,191,0)"/>
<rect x="1904.3" y="507.28" width="112.2" height="24.69" fill="rgb(255,175,0)"/>
<rect x="1904.3" y="483.19" width="112.2" height="24.69" fill="rgb(255,159,0)"/>
<rect x="1904.3" y="459.09" width="112.2" height="24.69" fill="rgb(255,143,0)"/>
<rect x="1904.3" y="435.00" width="112.2" height="24.69" fill="rgb(255,128,0)"/>
<rect x="1904.3" y="410.91" width="112.2" height="24.69" fill="rgb(255,112,0)"/>
<rect x="1904.3" y="386.81" width="112.2" height="24.69" fill="rgb(255,96,0)"/>
<rect x="1904.3" y="362.72" width="112.2" height="24.69" fill="rgb(255,80,0)"/>
<rect x="1904.3" y="338.62" width="112.2" height="24.69" fill="rgb(255,64,0)"/>
<rect x="1904.3" y="314.53" width="112.2" height="24.69" fill="rgb(255,48,0)"/>
<rect x="1904.3" y="290.44" width="112.2" height="24.69" fill="rgb(255,32,0)"/>
<rect x="1904.3" y="266.34" width="112.2" height="24.69" fill="rgb(255,16,0)"/>
<rect x="1904.3" y="242.25" width="112.2" height="24.69" fill="rgb(255,0,0)"/>
<rect x="1904.3" y="218.16" width="112.2" height="24.69" fill="rgb(239,0,0)"/>
<rect x="1904.3" y="194.06" width="112.2" height="24.69" fill="rgb(223,0,0)"/>
<rect x="1904.3" y="169.97" width="112.2" height="24.69" fill="rgb(207,0,0)"/>
<rect x="1904.3" y="145.88" width="112.2" height="24.69" fill="rgb(191,0,0)"/>
<rect x="1904.3" y="121.78" width="112.2" height="24.69" fill="rgb(175,0,0)"/>
<rect x="1904.3" y="97.69" width="112.2" height="24.69" fill="rgb(159,0,0)"/>
<rect x="1904.3" y="73.59" width="112.2" height="24.69" fill="rgb(143,0,0)"/>
<rect x="1904.3" y="49.50" width="112.2" height="24.69" fill="rgb(128,0,0)"/>
<rect x="1904.3" y="49.5" width="112.2" height="1542.0" fill="none" stroke="#262626" stroke-width="3.5"/>
<text x="2038" y="1610.0" style="font-family:'Liberation Sans',Arial,sans-serif;font-size:52px" fill="#262626">1</text>
<text x="2038" y="1455.8" style="font-family:'Liberation Sans',Arial,sans-serif;font-size:52px" fill="#262626">10</text>
<text x="2038" y="1301.6" style="font-family:'Liberation Sans',Arial,sans-serif;font-size:52px" fill="#262626">20</text>
<text x="2038" y="1147.4" style="font-family:'Liberation Sans',Arial,sans-serif;font-size:52px" fill="#262626">30</text>
<text x="2038" y="993.2" style="font-family:'Liberation Sans',Arial,sans-serif;font-size:52px" fill="#262626">40</text>
<text x="2038" y="839.0" style="font-family:'Liberation Sans',Arial,sans-serif;font-size:52px" fill="#262626">50</text>
<text x="2038" y="684.8" style="font-family:'Liberation Sans',Arial,sans-serif;font-size:52px" fill="#262626">60</text>
<text x="2038" y="530.6" style="font-family:'Liberation Sans',Arial,sans-serif;font-size:52px" fill="#262626">70</text>
<text x="2038" y="376.4" style="font-family:'Liberation Sans',Arial,sans-serif;font-size:52px" fill="#262626">80</text>
<text x="2038" y="222.2" style="font-family:'Liberation Sans',Arial,sans-serif;font-size:52px" fill="#262626">90</text>
<text x="2038" y="68.0" style="font-family:'Liberation Sans',Arial,sans-serif;font-size:52px" fill="#262626">100</text>
<path d="M2016.5 1437.3h-15M2016.5 1283.1h-15M2016.5 1128.9h-15M2016.5 974.7h-15M2016.5 820.5h-15M2016.5 666.3h-15M2016.5 512.1h-15M2016.5 357.9h-15M2016.5 203.7h-15" stroke="#262626" stroke-width="3.5" fill="none"/>
</svg>
</body></html>
